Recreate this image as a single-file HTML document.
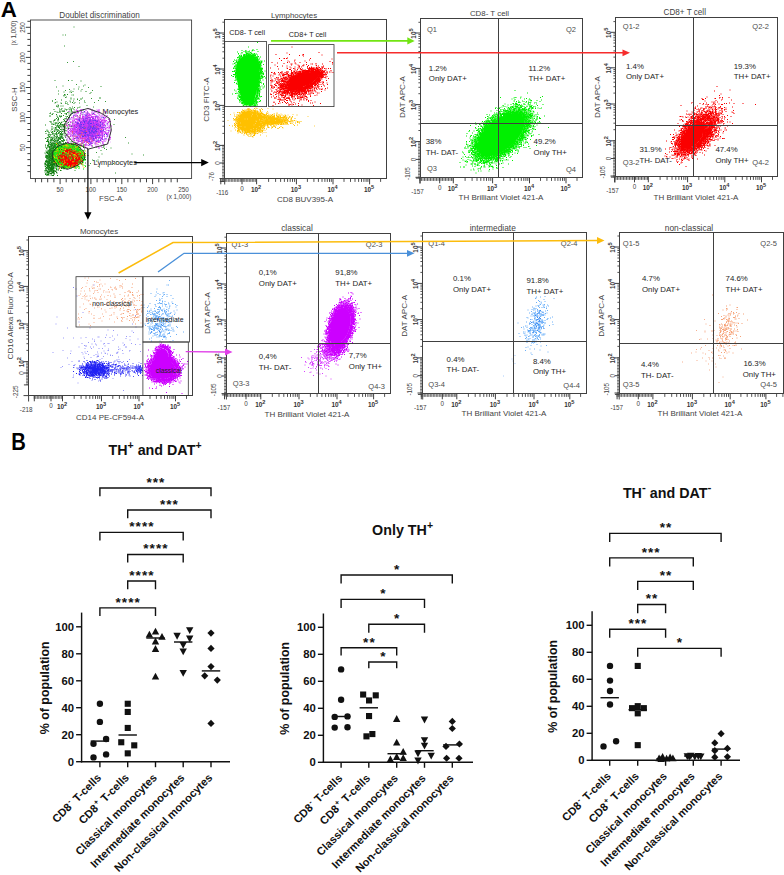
<!DOCTYPE html>
<html><head><meta charset="utf-8"><title>Figure</title>
<style>html,body{margin:0;padding:0;background:#fff;}svg{display:block;font-family:"Liberation Sans",sans-serif;}</style>
</head><body>
<svg width="784" height="875" viewBox="0 0 784 875">
<rect width="784" height="875" fill="#ffffff"/>
<path transform="scale(.5)" d="M112 276h2m3 0h2m-14 5h2m3 0h2m11 1h2m-29 1h2m15 1h2m-12 1h2m12 0h2m-6 1h2m-8 1h3m7 0h2m-16 1h2m16 0h2m-26 1h2m2 0h2m6 0h2m6 0h2m9 0h2m-34 1h2m4 0h2m17 0h2m-19 1h2m3 0h2m-6 1h2m3 1h2m3 0h3m-12 1h2m1 0h3m2 0h2m0 0h3m-21 1h2m6 0h2m0 0h2m1 0h2m-10 1h2m0 0h2m-8 1h2m5 0h2m2 0h2m-12 1h2m3 0h2m3 0h3m3 0h2m5 0h2m-22 1h2m3 0h4m3 0h2m-17 1h2m1 0h2m1 0h2m0 0h2m-11 1h2m2 0h2m4 0h3m0 0h2m1 0h2m-19 1h5m1 0h2m3 0h2m1 0h2m6 0h2m-23 1h2m2 0h2m1 0h2m0 0h2m0 0h2m1 0h2m5 0h2m-28 1h2m0 0h2m1 0h3m0 0h6m0 0h2m0 0h3m0 0h2m1 0h2m-26 1h4m2 0h2m2 0h2m0 0h6m0 0h2m0 0h2m-25 1h2m8 0h2m2 0h2m0 0h5m3 0h2m0 0h2m11 0h2m-36 1h3m4 0h4m2 0h2m0 0h3m2 0h3m0 0h2m-28 1h2m3 0h2m0 0h3m0 0h3m1 0h2m4 0h4m0 0h2m4 0h3m-26 1h3m0 0h2m0 0h2m0 0h3m0 0h5m2 0h2m13 0h2m-37 1h3m4 0h3m0 0h2m0 0h2m0 0h2m0 0h3m0 0h3m2 0h3m-31 1h3m3 0h4m1 0h2m3 0h3m0 0h2m1 0h3m3 0h3m-27 1h2m0 0h8m1 0h2m0 0h2m2 0h3m0 0h2m1 0h2m-26 1h3m1 0h5m0 0h9m1 0h2m1 0h3m0 0h2m-31 1h3m0 0h3m0 0h3m1 0h3m2 0h2m1 0h4m0 0h3m3 0h2m0 0h2m5 0h2m-34 1h2m1 0h3m3 0h5m0 0h3m0 0h2m3 0h2m4 0h2m-32 1h2m2 0h7m0 0h2m0 0h2m1 0h2m5 0h2m-25 1h2m2 0h2m1 0h4m0 0h5m0 0h3m6 0h2m-27 1h2m0 0h2m4 0h5m0 0h6m7 0h2m-24 1h3m1 0h4m3 0h6m1 0h2m-24 1h2m2 0h6m0 0h3m0 0h3m0 0h2m2 0h2m-20 1h2m1 0h2m0 0h4m0 0h2m0 0h5m2 0h2m1 0h2m-22 1h2m0 0h2m1 0h7m3 0h2m2 0h2m-27 1h2m0 0h2m0 0h4m0 0h2m2 0h8m0 0h3m6 0h2m-31 1h3m5 0h2m0 0h3m0 0h6m1 0h5m-22 1h2m0 0h5m1 0h3m0 0h2m1 0h2m0 0h2m2 0h2m0 0h2m-28 1h2m2 0h5m0 0h3m1 0h2m1 0h3m0 0h2m0 0h2m0 0h2m-25 1h3m3 0h6m0 0h2m0 0h2m0 0h3m1 0h2m0 0h2m1 0h2m4 0h2m-26 1h3m1 0h2m1 0h6m0 0h4m-24 1h3m1 0h2m0 0h3m2 0h6m0 0h4m2 0h2m-23 1h2m1 0h7m0 0h6m1 0h2m3 0h3m-23 1h5m0 0h2m0 0h3m0 0h4m2 0h2m3 0h2m-22 1h6m0 0h3m0 0h2m0 0h3m0 0h4m-22 1h2m2 0h2m0 0h3m3 0h2m0 0h3m5 0h3m0 0h2m-24 1h2m2 0h3m3 0h2m0 0h3m3 0h2m0 0h2m-23 1h3m2 0h3m1 0h4m0 0h4m-18 1h3m0 0h2m0 0h5m0 0h4m0 0h2m10 0h2m-28 1h2m2 0h3m2 0h4m0 0h4m1 0h2m1 0h2m4 0h2m2 0h2m-34 1h2m3 0h2m0 0h2m0 0h5m1 0h3m7 0h2m-21 1h2m1 0h3m0 0h2m0 0h2m6 0h2m-22 1h2m3 0h2m2 0h2m0 0h2m1 0h3m3 0h2m1 0h3m-29 1h2m0 0h2m0 0h2m4 0h2m0 0h2m0 0h2m1 0h3m11 0h3m-32 1h2m0 0h2m1 0h3m0 0h3m0 0h2m0 0h2m1 0h3m0 0h2m-18 1h2m1 0h3m1 0h2m3 0h3m1 0h3m-19 1h2m1 0h3m1 0h3m0 0h2m-13 1h2m0 0h3m6 0h2m0 0h2m4 0h2m-19 1h4m4 0h2m0 0h3m0 0h2m3 0h2m-24 1h2m4 0h2m1 0h2m0 0h2m-9 1h2m11 0h2m-20 1h3m1 0h2m0 0h2m-5 1h2m1 0h2m1 0h2m1 0h2m0 1h2m0 0h2m6 0h2" stroke="#0f7d0f" stroke-width="2" fill="none"/><path transform="scale(.5)" d="M118 232h2m-4 7h2m0 6h2m4 7h2m-9 3h2m-9 1h2m20 0h2m-21 3h2m7 1h3m4 0h2m-16 1h2m-9 1h2m1 0h2m1 1h2m8 0h2m2 1h2m-13 1h2m3 0h2m-20 1h2m6 0h2m2 0h2m12 0h2m-23 1h2m0 0h2m3 0h2m9 0h2m-24 1h2m13 0h2m2 0h2m-14 1h2m6 0h2m1 0h3m-30 1h2m2 0h2m16 0h2m2 0h2m3 0h2m-22 2h2m3 0h2m5 0h2m2 0h3m3 0h2m-33 1h2m9 0h2m3 0h2m-18 1h2m3 0h2m15 0h2m1 0h2m-31 1h2m5 0h2m0 0h2m7 0h3m1 0h2m5 0h2m-29 1h2m3 0h2m4 0h2m8 0h2m-15 1h2m11 0h2m1 0h2m-21 1h2m4 0h2m2 0h2m1 0h2m3 0h2m-26 1h2m11 0h2m6 0h2m1 0h3m4 0h2m-27 1h4m8 0h2m11 0h2m0 0h2m2 0h2m-33 1h2m7 0h2m1 0h3m0 0h2m4 0h2m4 0h2m-22 1h2m0 0h2m2 0h2m8 0h2m0 0h2m-27 1h2m5 0h2m3 0h2m3 0h2m4 0h2m-19 1h2m0 0h2m6 0h2m1 0h2m4 0h2m13 0h2m-47 1h2m19 0h2m-14 1h2m0 0h2m2 0h2m1 0h3m1 0h2m0 0h2m-25 1h2m3 0h2m2 0h2m3 0h2m1 0h2m7 0h2m1 0h2m-32 1h3m0 0h3m1 0h3m0 0h4m0 0h2m3 0h3m3 0h2m7 0h2m-32 1h2m1 0h2m4 0h3m0 0h2m1 0h3m8 0h2m-38 1h2m7 0h3m4 0h2m8 0h3m-25 1h3m5 0h2m10 0h2m2 0h2m-30 1h2m4 0h2m2 0h2m1 0h2m3 0h3m3 0h2m0 0h2m0 0h2m3 0h2m7 0h2m-36 1h3m1 0h2m1 0h2m1 0h4m13 0h3m-33 1h3m2 0h3m10 0h2m6 0h2m16 0h2m-50 1h2m8 0h2m2 0h2m2 0h2m13 0h2m-25 1h2m1 0h2m4 0h3m6 0h2m1 0h2m3 0h2m-37 1h2m5 0h2m1 0h2m0 0h2m20 0h2m-35 1h2m12 0h2m-11 1h2m0 0h2m9 0h2m0 0h2m0 0h2m6 0h2m-28 1h2m3 0h2m1 0h2m0 0h2m0 0h2m0 0h2m2 0h2m1 0h2m1 0h2m7 0h2m-33 1h2m1 0h2m0 0h3m-16 1h2m4 0h2m7 0h2m1 0h2m0 0h2m0 0h2m1 0h2m0 0h2m-27 1h2m14 0h2m4 0h2m7 0h2m-30 1h2m0 0h2m2 0h2m0 0h2m0 0h2m2 0h3m13 0h2m-35 1h2m6 0h3m0 0h2m0 0h2m8 0h2m4 0h2m-20 1h2m1 0h2m1 0h2m1 0h2m-18 1h3m0 0h3m0 0h2m12 0h2m-22 1h3m0 0h2m5 0h2m11 0h2m-26 1h2m3 0h4m5 0h2m1 0h2m3 0h2m-12 1h2m2 0h2m2 0h2m12 0h2m-33 1h2m2 0h2m0 0h2m6 0h2m-11 1h2m-13 1h2m7 0h2m6 0h3m0 0h3m1 0h2m-29 1h2m7 0h2m2 0h2m-13 1h2m2 0h2m5 0h2m9 0h2m-21 1h2m1 0h2m5 0h2m7 0h2m2 0h2m-26 1h2m15 0h2m-17 1h2m6 0h2m1 0h2m-8 1h2m3 0h2m4 0h2m6 0h2m-25 1h3m4 0h2m15 0h2m-32 1h3m9 0h2m2 0h2m1 0h2m7 0h2m-20 1h2m0 0h2m2 0h3m-13 1h2m-6 1h2m0 0h2m8 0h2m4 0h2m-1 1h2m4 0h2m-6 1h2m-21 1h2m15 0h2m-24 1h2m7 0h2m-9 2h2m2 0h2m3 1h2m-14 1h2m4 1h2m-2 1h2m7 0h2m3 0h2m-16 1h2m3 0h2m-7 2h4m0 2h2m-10 1h2m7 1h2m2 1h2m-17 2h2m15 4h2m-15 3h2" stroke="#1f8a1f" stroke-width="2" fill="none"/><path transform="scale(.5)" d="M136 161h2m23 1h2m8 21h2m-34 1h2m-13 5h2m4 0h2m-9 2h2m12 5h2m-2 2h2m4 0h2m12 0h2m-9 1h2m-34 1h2m-20 2h2m62 0h2m-57 2h2m29 1h2m-25 1h2m7 0h2m-1 1h2m2 2h2m-22 1h2m-5 2h2m2 0h2m3 0h2m2 0h2m-14 1h2m0 1h2m22 1h2m7 0h2m4 1h2m-15 1h2m-25 1h2m9 0h2m6 0h2m-32 1h2m12 0h2m16 0h2m-9 1h2m8 1h2m-26 1h2m1 0h2m1 0h3m1 0h2m9 0h2m-32 1h2m8 0h2m4 0h2m0 0h2m-16 1h2m28 0h2m-30 1h2m2 0h2m-21 1h2m35 0h2m2 0h2m-44 1h2m4 0h2m15 0h2m5 0h2m1 0h2m14 0h2m-19 1h2m-29 1h2m6 0h2m27 0h2m-17 2h2m11 0h2m-28 1h2m4 0h2m1 0h2m-5 1h2m1 0h2m7 0h2m1 0h2m-22 1h2m4 0h2m-7 1h2m19 0h2m-6 1h2m-22 1h2m2 0h2m11 0h2m5 1h2m-29 1h2m-2 1h2m3 0h2m0 0h2m-10 1h2m18 0h2m-24 1h2m-9 1h2m26 0h2m1 0h2m0 0h2m-34 1h2m0 0h2m11 0h2m6 0h2m-14 1h2m5 0h2m2 0h2m11 0h3m13 0h2m-46 1h2m2 0h2m8 0h2m-12 1h2m3 0h2m2 0h2m-20 1h2m0 0h2m4 0h2m2 0h2m12 0h2m-24 1h3m11 0h3m1 0h2m1 0h2m0 0h2m6 0h2m-49 1h2m30 0h2m0 0h3m0 0h2m3 0h2m2 0h2m-27 1h2m1 0h2m1 0h2m8 0h2m18 0h3m-47 2h2m8 0h2m1 0h2m1 0h2m0 0h2m3 0h2m1 0h2m6 0h2m3 0h2m-31 1h2m6 0h2m4 0h2m16 0h2m-37 1h2m4 0h2m0 0h2m8 0h2m-27 1h2m2 0h2m1 0h2m0 0h2m9 0h2m-7 1h2m9 0h2m5 0h2m-35 1h2m-2 1h2m4 0h2m2 0h2m5 0h2m1 0h2m1 0h2m-35 1h2m16 0h2m3 0h2m10 0h2m1 1h2m-40 1h2m6 0h2m4 0h2m6 0h2m1 0h2m11 0h2m-43 1h2m3 0h2m7 0h2m2 0h2m10 0h2m1 0h2m-7 1h2m-23 1h2m13 0h2m-17 1h2m6 0h2m10 0h3m2 0h2m-33 1h2m12 0h2m6 0h2m5 0h2m0 1h3m8 0h2m-38 1h2m0 0h2m2 0h2m6 0h2m9 0h2m9 0h2m-40 1h2m10 0h3m4 0h2m-8 1h2m-14 1h2m1 0h2m20 0h2m7 0h2m-10 1h2m-27 1h2m20 0h2m-14 1h2m12 0h2m2 0h2m3 0h2m-39 1h2m16 0h2m3 0h2m0 0h2m0 0h2m0 0h2m-34 1h2m26 0h2m4 0h2m-17 1h2m15 0h2m-33 1h2m5 0h2m-4 1h2m1 0h2m-11 1h3m4 0h2m3 0h2m17 0h2m-28 1h2m8 0h2m36 0h2m-57 1h2m0 0h2m23 0h2m-16 1h2m14 0h2m-24 1h3m16 0h2m10 0h2m-21 1h2m7 0h2m-18 2h2m17 0h2m-16 1h2m2 0h2m-20 1h2m15 0h2m-10 1h2m1 0h4m6 1h2m-22 1h2m7 0h2m0 0h2m3 0h2m-21 1h2m7 2h2m2 2h2m5 1h2m29 0h2m-26 1h2m-28 1h2m0 0h2m7 0h2m-11 1h2m25 1h2m-25 1h2m4 0h2m-11 3h2m-3 1h2m19 0h2m-21 2h2m-7 1h2m9 0h2m-15 2h2m7 0h2m-3 1h2m10 0h2m-13 2h2m-10 6h2m1 2h2m-1 1h2m-5 3h2m14 0h2m-22 20h2" stroke="#1f8a1f" stroke-width="2" fill="none"/><path transform="scale(.5)" d="M143 161h2m7 8h2m15 1h2m-46 2h2m39 0h2m33 1h2m-91 1h2m43 0h2m17 1h2m-31 3h2m7 0h2m-20 1h2m23 0h2m-35 2h2m52 0h2m-70 1h2m23 0h2m18 0h2m-18 1h2m-5 2h2m37 0h2m-4 2h2m-65 1h2m12 2h2m11 0h2m1 0h2m-21 2h2m3 2h2m-4 1h2m67 0h2m-37 1h2m16 1h2m15 0h2m-47 1h2m5 0h2m-53 1h2m46 2h2m36 0h2m-94 1h2m33 0h2m5 0h2m-17 1h2m77 0h2m-72 1h2m-32 1h2m37 0h2m18 0h2m17 0h2m-81 1h2m23 0h2m22 0h2m-38 1h2m23 0h2m-33 4h2m55 0h2m-31 3h2m13 0h2m25 0h2m-31 1h2m-36 2h2m20 0h2m-25 1h2m7 1h2m0 0h2m7 0h2m3 0h2m16 1h2m16 1h2m-58 1h2m13 0h2m5 0h2m-8 1h2m-9 1h2m9 0h2m-15 1h2m9 0h2m3 0h2m11 0h2m9 1h2m10 1h2m-85 2h2m27 0h2m29 0h2m72 0h2m-102 1h2m-40 1h2m53 0h2m3 0h2m-11 1h2m23 0h2m-78 1h2m37 2h2m24 0h2m-19 1h2m-18 1h2m28 0h2m-32 1h2m-7 1h3m29 0h2m14 0h2m52 0h2m-52 1h2m-5 3h3m2 0h2m-41 2h2m1 0h2m6 1h2m9 0h2m-32 1h2m55 1h2m35 1h2m-112 1h2m58 0h2m-61 1h2m0 1h2m7 2h2m3 0h2m0 0h2m63 0h2m-74 1h2m25 1h2m4 2h2m21 0h2m-37 1h2m1 0h2m41 0h2m-30 2h2m-75 1h2m30 0h2m11 0h2m29 0h2m6 1h2m-79 2h2m56 0h2m-18 2h2m44 1h2m-34 3h2m-49 2h2m17 2h2m16 2h2m-46 2h2m5 2h2m40 5h2m-4 12h2m-19 10h2" stroke="#3a9a3a" stroke-width="2" fill="none"/><path transform="scale(.5)" d="M184 259h2m-22 13h2m84 3h2m-109 8h2m23 1h2m30 2h2m54 0h2m-69 1h2m17 3h2m-26 2h2m20 0h2m-16 2h2m13 0h2m-4 1h2m14 1h2m-15 1h2m-42 1h2m-20 1h2m60 0h2m-13 2h2m-11 4h2m-25 2h2m-9 1h2m39 0h2m58 0h2m21 2h2m-113 1h2m20 3h2m-54 2h2m-7 1h2m10 1h2m14 1h2m14 1h2m9 0h2m-11 1h2m4 1h2m39 1h2m-65 3h2m8 1h2m44 0h2m-5 2h2m-48 2h2m19 3h2m-51 7h2m79 5h2" stroke="#3a9a3a" stroke-width="2" fill="none"/><path transform="scale(.5)" d="M147 54h2m-24 16h2m3 0h2m-4 22h2m16 31h2m-14 2h2m21 8h2m-50 28h2m16 23h2" stroke="#3a9a3a" stroke-width="2" fill="none"/><path transform="scale(.5)" d="M180 218h2m-30 1h2m6 0h2m-7 2h2m0 0h2m3 0h2m32 0h2m8 0h2m-20 1h2m20 0h2m-46 1h2m27 0h2m-37 1h2m25 0h2m-38 1h2m47 0h2m-29 1h2m22 0h3m-51 1h3m0 0h2m-6 1h2m20 0h2m25 0h2m10 0h2m-63 1h2m11 0h2m24 0h2m2 0h2m-43 1h2m1 0h2m3 0h2m11 0h2m1 0h2m0 0h2m21 0h2m-27 1h2m-33 1h2m21 0h2m20 0h2m3 0h2m12 0h2m-43 1h2m46 0h2m-13 1h2m2 0h2m-66 1h2m18 0h3m1 0h2m16 0h2m7 0h2m-31 1h2m8 0h2m0 0h3m4 0h2m13 0h2m-48 1h2m24 0h2m12 0h3m0 0h2m-55 1h3m38 0h2m11 0h2m5 0h2m-72 1h2m13 0h2m3 0h2m9 0h2m4 0h2m4 0h2m2 0h3m19 0h2m1 0h2m-53 1h2m4 0h2m0 0h2m10 0h2m10 0h2m0 0h2m1 0h2m4 0h2m6 0h2m-44 1h2m6 0h2m9 0h2m0 0h2m2 0h2m20 0h2m5 0h2m-84 1h2m29 0h3m2 0h2m8 0h2m0 0h2m8 0h2m-45 1h2m11 0h2m1 0h4m8 0h2m5 0h2m5 0h2m0 0h2m5 0h2m10 0h2m3 0h2m-79 1h2m0 0h2m16 0h2m8 0h2m3 0h2m2 0h2m13 0h2m9 0h2m0 0h2m-78 1h2m11 0h2m3 0h2m9 0h4m1 0h3m7 0h2m10 0h2m11 0h2m-63 1h2m10 0h2m1 0h2m7 0h4m11 0h2m0 0h2m4 0h2m5 0h2m1 0h2m-40 1h2m4 0h2m10 0h2m10 0h2m0 0h2m5 0h2m5 0h2m3 0h2m-75 1h2m0 0h2m4 0h2m11 0h3m9 0h2m14 0h2m-37 1h2m1 0h2m3 0h2m4 0h2m4 0h2m8 0h2m0 0h2m10 0h2m2 0h2m-59 1h2m9 0h2m0 0h2m0 0h2m1 0h2m0 0h2m0 0h2m1 0h2m1 0h2m5 0h2m4 0h2m2 0h2m-60 1h2m6 0h2m15 0h2m1 0h2m6 0h2m5 0h3m4 0h3m0 0h2m5 0h2m-60 1h2m2 0h2m3 0h2m3 0h2m14 0h3m0 0h2m12 0h2m9 0h2m3 0h2m15 0h2m-79 1h2m16 0h2m8 0h2m3 0h2m4 0h2m8 0h2m4 0h2m2 0h2m2 0h2m0 0h2m16 0h2m-87 1h2m10 0h2m0 0h2m9 0h3m1 0h2m0 0h3m6 0h4m3 0h3m1 0h3m6 0h2m19 0h2m-84 1h2m15 0h2m37 0h2m6 0h2m3 0h3m3 0h2m-51 1h3m3 0h4m1 0h4m0 0h2m2 0h2m9 0h2m-50 1h2m2 0h2m37 0h2m1 0h2m7 0h3m8 0h2m1 0h2m2 0h2m1 0h2m-67 1h2m0 0h2m3 0h3m6 0h2m0 0h3m2 0h2m0 0h4m2 0h2m4 0h2m7 0h2m11 0h2m1 0h2m-63 1h2m1 0h2m0 0h3m1 0h3m2 0h2m4 0h2m0 0h2m10 0h3m22 0h2m0 0h2m-64 1h2m3 0h2m1 0h2m5 0h2m8 0h2m4 0h2m1 0h2m2 0h2m2 0h2m3 0h2m10 0h2m1 0h2m-66 1h2m10 0h2m5 0h2m1 0h2m2 0h2m0 0h2m5 0h2m7 0h2m1 0h2m19 0h2m-79 1h3m10 0h4m6 0h2m3 0h2m13 0h2m4 0h3m0 0h2m2 0h2m12 0h4m-73 1h2m3 0h2m8 0h2m8 0h2m3 0h2m0 0h3m1 0h4m12 0h2m14 0h2m5 0h3m2 0h2m-76 1h2m4 0h2m3 0h2m2 0h2m3 0h2m3 0h2m2 0h5m1 0h2m0 0h2m2 0h2m2 0h2m4 0h2m0 0h2m2 0h2m-63 1h2m5 0h2m0 0h2m2 0h2m0 0h2m15 0h3m2 0h2m3 0h2m6 0h2m-65 1h2m5 0h2m5 0h2m0 0h2m6 0h2m8 0h2m2 0h3m11 0h2m16 0h2m5 0h2m4 0h2m2 0h2m-76 1h2m12 0h2m8 0h2m2 0h2m1 0h4m7 0h2m1 0h4m2 0h3m14 0h2m1 0h2m-60 1h2m0 0h2m1 0h2m2 0h2m5 0h2m5 0h2m7 0h3m11 0h2m1 0h2m-59 1h3m15 0h3m1 0h2m1 0h3m9 0h2m1 0h2m28 0h2m0 0h2m-89 1h2m6 0h2m22 0h2m0 0h2m0 0h2m4 0h2m6 0h2m4 0h2m3 0h2m2 0h2m1 0h2m11 0h2m2 0h2m-74 1h2m11 0h2m0 0h3m0 0h2m0 0h2m0 0h3m0 0h2m3 0h2m3 0h2m0 0h2m1 0h2m3 0h3m1 0h2m21 0h2m-70 1h2m0 0h2m4 0h2m0 0h2m4 0h2m2 0h2m5 0h2m3 0h2m0 0h3m5 0h2m12 0h2m4 0h2m-78 1h2m4 0h2m0 0h2m12 0h2m6 0h3m0 0h4m0 0h2m1 0h2m1 0h2m2 0h3m4 0h2m4 0h3m19 0h2m-86 1h2m30 0h2m2 0h2m5 0h2m2 0h2m1 0h3m2 0h3m9 0h2m10 0h2m-57 1h2m2 0h2m6 0h2m5 0h2m0 0h2m7 0h2m6 0h2m0 0h2m8 0h2m3 0h2m-83 1h2m2 0h2m4 0h2m2 0h2m22 0h2m3 0h3m4 0h2m5 0h2m3 0h2m13 0h2m-40 1h3m-37 1h2m16 0h2m0 0h2m9 0h2m5 0h2m9 0h2m9 0h2m3 0h2m-60 1h2m2 0h2m12 0h2m11 0h2m38 0h2m-58 1h2m18 0h2m0 0h2m-37 1h2m15 0h2m11 0h3m10 0h2m0 0h2m-42 1h2m5 0h2m9 0h2m-3 1h2m10 0h2m1 0h2m1 0h2m7 0h2m2 0h3m-67 1h2m42 0h2m23 0h2m14 0h2m-47 1h2m10 0h2m1 0h2m-51 1h2m36 0h2m6 0h2m11 0h2m-13 1h2m-41 1h2m6 0h2m22 0h3m-49 1h2m34 0h2m5 0h2m31 0h2m-74 1h2m5 0h2m21 0h2m-14 1h2m8 0h2m25 0h2m-45 1h2m24 0h2m-36 1h2m8 0h2m10 0h3m31 0h2m-60 1h2m5 0h2m45 0h2m14 0h2m-37 2h2" stroke="#ecc4fa" stroke-width="2" fill="none"/><path transform="scale(.5)" d="M175 218h2m2 0h2m-20 1h2m0 0h2m32 0h2m-47 1h2m30 0h2m7 0h2m-42 1h3m15 0h2m22 0h2m-14 1h2m13 0h2m-63 1h2m8 0h2m13 0h2m10 0h2m17 0h2m1 0h2m12 0h2m-43 1h2m27 0h2m-46 1h2m0 0h2m9 0h2m22 0h2m17 0h2m-50 1h2m7 0h3m2 0h2m4 0h2m1 0h2m1 0h2m-35 1h2m3 0h2m15 0h2m16 0h2m-46 1h2m19 0h2m2 0h3m24 0h2m-38 1h2m4 0h3m2 0h2m1 0h2m1 0h3m1 0h2m-43 1h2m2 0h2m7 0h2m2 0h2m13 0h2m9 0h2m5 0h3m-47 1h2m21 0h2m1 0h2m32 0h2m-68 1h2m2 0h2m7 0h2m3 0h2m3 0h2m0 0h4m0 0h3m2 0h3m8 0h2m7 0h2m0 0h2m0 0h2m1 0h2m-64 1h2m5 0h2m9 0h2m0 0h2m1 0h2m2 0h2m7 0h3m0 0h2m0 0h2m1 0h2m1 0h2m0 0h2m-51 1h2m6 0h2m0 0h2m2 0h2m5 0h2m5 0h2m2 0h2m4 0h2m1 0h2m2 0h2m3 0h2m1 0h2m-56 1h2m17 0h2m3 0h2m1 0h3m0 0h4m0 0h3m0 0h2m0 0h2m4 0h2m2 0h2m-38 1h2m0 0h2m3 0h2m0 0h2m3 0h4m2 0h3m3 0h4m6 0h2m0 0h2m0 0h2m7 0h3m1 0h2m-76 1h2m12 0h2m10 0h2m1 0h2m2 0h2m0 0h3m4 0h3m2 0h2m0 0h2m2 0h2m9 0h2m4 0h2m-68 1h2m2 0h2m0 0h2m2 0h2m1 0h2m2 0h3m4 0h2m0 0h3m3 0h2m5 0h2m3 0h2m1 0h2m18 0h2m6 0h2m-85 1h2m17 0h2m1 0h2m6 0h2m9 0h2m3 0h3m2 0h3m2 0h2m5 0h2m2 0h2m1 0h2m11 0h2m-80 1h2m15 0h2m3 0h3m0 0h2m2 0h2m2 0h6m0 0h2m3 0h3m0 0h2m1 0h5m13 0h2m-74 1h2m9 0h2m1 0h2m5 0h4m0 0h2m3 0h2m0 0h5m3 0h2m4 0h2m0 0h2m5 0h2m1 0h2m2 0h2m4 0h2m0 0h2m2 0h2m1 0h3m-70 1h2m1 0h2m4 0h2m8 0h3m1 0h2m1 0h2m0 0h2m1 0h2m1 0h2m0 0h2m0 0h5m2 0h2m0 0h2m0 0h3m1 0h4m1 0h2m1 0h2m3 0h2m-73 1h2m4 0h2m11 0h5m3 0h3m0 0h2m1 0h2m0 0h3m1 0h2m0 0h2m0 0h5m0 0h2m1 0h3m0 0h2m0 0h2m0 0h2m1 0h2m0 0h2m14 0h2m0 0h2m-87 1h2m4 0h2m4 0h2m1 0h2m1 0h3m3 0h3m0 0h2m2 0h2m1 0h3m0 0h2m2 0h3m1 0h2m2 0h2m0 0h4m2 0h3m3 0h2m0 0h2m3 0h2m1 0h4m1 0h2m1 0h2m-78 1h2m12 0h2m4 0h2m2 0h2m1 0h9m0 0h3m0 0h2m1 0h3m0 0h4m3 0h3m2 0h2m0 0h2m2 0h4m0 0h2m7 0h2m-66 1h2m0 0h2m4 0h2m0 0h2m0 0h7m0 0h2m2 0h2m2 0h4m0 0h4m3 0h3m1 0h2m0 0h2m1 0h3m2 0h5m6 0h2m-73 1h2m1 0h2m4 0h6m0 0h2m0 0h2m0 0h5m0 0h4m1 0h5m0 0h2m1 0h6m0 0h3m0 0h7m17 0h2m-84 1h3m9 0h2m4 0h4m3 0h2m0 0h3m1 0h3m0 0h3m0 0h2m1 0h4m0 0h3m0 0h3m1 0h5m0 0h2m0 0h2m2 0h4m0 0h2m0 0h3m0 0h3m1 0h2m-70 1h2m6 0h2m0 0h2m0 0h2m1 0h3m1 0h3m1 0h2m0 0h6m2 0h4m0 0h3m2 0h3m0 0h2m0 0h2m0 0h2m0 0h2m1 0h4m0 0h3m0 0h2m6 0h2m-72 1h2m7 0h2m2 0h2m1 0h3m1 0h2m1 0h2m0 0h3m0 0h2m0 0h3m2 0h4m0 0h5m0 0h2m0 0h2m1 0h3m1 0h2m1 0h2m1 0h3m2 0h2m0 0h3m0 0h2m0 0h2m3 0h2m1 0h2m-86 1h2m3 0h2m2 0h2m5 0h2m0 0h4m1 0h2m1 0h4m3 0h2m0 0h2m0 0h10m0 0h2m0 0h3m0 0h5m0 0h2m2 0h4m0 0h3m4 0h3m1 0h2m-77 1h2m9 0h3m1 0h2m2 0h2m0 0h2m0 0h3m3 0h2m0 0h4m0 0h3m1 0h10m0 0h2m0 0h3m1 0h4m0 0h6m1 0h3m15 0h2m2 0h2m-84 1h2m2 0h2m3 0h3m1 0h2m2 0h3m2 0h2m4 0h5m0 0h5m0 0h3m2 0h4m0 0h2m0 0h2m1 0h7m6 0h2m-60 1h2m1 0h3m0 0h2m0 0h3m0 0h3m2 0h3m0 0h11m0 0h5m0 0h5m0 0h3m1 0h3m1 0h2m1 0h5m1 0h2m1 0h2m7 0h2m-61 1h3m0 0h15m0 0h8m0 0h6m2 0h3m0 0h3m2 0h2m0 0h4m0 0h2m2 0h2m3 0h2m-77 1h2m1 0h2m4 0h2m0 0h2m2 0h2m1 0h2m2 0h2m2 0h7m0 0h5m0 0h2m5 0h2m1 0h4m0 0h2m0 0h4m1 0h3m0 0h2m1 0h2m1 0h2m3 0h2m4 0h2m-82 1h2m1 0h2m4 0h3m4 0h3m0 0h5m0 0h3m1 0h2m1 0h14m1 0h2m0 0h3m0 0h3m1 0h3m2 0h3m0 0h2m7 0h2m-78 1h2m7 0h2m0 0h2m0 0h3m1 0h3m2 0h2m1 0h3m0 0h4m2 0h4m1 0h3m0 0h2m2 0h4m0 0h4m0 0h2m3 0h2m0 0h2m2 0h2m5 0h2m2 0h2m5 0h2m-83 1h2m2 0h2m3 0h2m0 0h2m0 0h3m1 0h2m2 0h2m0 0h2m0 0h4m0 0h2m1 0h7m0 0h2m0 0h2m0 0h4m1 0h2m0 0h4m2 0h6m4 0h2m1 0h3m1 0h2m-70 1h2m1 0h2m0 0h2m1 0h2m2 0h3m0 0h2m1 0h2m0 0h2m1 0h3m2 0h2m0 0h8m2 0h3m0 0h6m1 0h3m0 0h2m1 0h4m2 0h2m15 0h2m-84 1h2m2 0h2m1 0h2m0 0h2m2 0h2m1 0h2m2 0h3m3 0h6m1 0h3m0 0h4m0 0h8m0 0h4m0 0h4m3 0h2m4 0h2m1 0h2m5 0h2m1 0h3m-85 1h2m5 0h2m0 0h2m0 0h2m5 0h2m2 0h2m3 0h2m0 0h3m0 0h2m0 0h6m1 0h2m3 0h3m2 0h2m0 0h4m0 0h2m4 0h3m0 0h2m0 0h2m-68 1h2m2 0h2m5 0h4m1 0h2m0 0h2m2 0h2m2 0h2m0 0h3m1 0h4m1 0h2m0 0h2m0 0h4m0 0h2m0 0h4m3 0h2m0 0h3m0 0h4m2 0h5m-64 1h2m1 0h3m1 0h2m5 0h2m2 0h2m3 0h2m0 0h7m1 0h10m2 0h3m0 0h3m2 0h3m3 0h2m3 0h2m0 0h2m-74 1h2m1 0h2m8 0h4m1 0h2m1 0h2m1 0h4m1 0h7m0 0h3m2 0h3m0 0h2m0 0h4m1 0h3m1 0h2m4 0h3m0 0h2m0 0h2m0 0h2m4 0h2m4 0h2m-83 1h2m0 0h2m5 0h2m1 0h2m5 0h2m0 0h6m0 0h2m1 0h2m1 0h4m0 0h2m0 0h2m4 0h2m0 0h2m0 0h2m0 0h2m1 0h3m3 0h3m22 0h2m-83 1h2m6 0h3m1 0h2m0 0h2m0 0h2m5 0h2m0 0h2m0 0h2m0 0h7m0 0h2m1 0h3m1 0h9m0 0h2m0 0h2m0 0h2m0 0h3m3 0h3m4 0h2m0 0h3m-74 1h2m3 0h2m7 0h2m8 0h6m1 0h2m1 0h3m0 0h5m1 0h4m0 0h2m1 0h2m8 0h2m4 0h2m-76 1h2m2 0h2m2 0h2m11 0h2m0 0h3m2 0h3m3 0h5m2 0h3m1 0h7m0 0h2m0 0h2m1 0h2m4 0h2m0 0h2m4 0h2m2 0h2m2 0h2m1 0h2m-82 1h2m13 0h3m1 0h2m2 0h2m3 0h3m0 0h3m0 0h2m2 0h8m1 0h4m0 0h2m0 0h4m1 0h2m0 0h3m3 0h2m-71 1h2m10 0h2m1 0h2m8 0h2m2 0h2m3 0h2m4 0h2m1 0h2m0 0h2m0 0h2m2 0h3m0 0h2m3 0h2m3 0h3m2 0h2m2 0h2m-49 1h2m0 0h4m1 0h3m2 0h7m0 0h2m0 0h2m1 0h3m0 0h7m0 0h2m0 0h2m1 0h2m5 0h3m1 0h2m4 0h2m-76 1h2m5 0h2m0 0h2m1 0h2m3 0h2m6 0h5m1 0h2m1 0h2m0 0h2m2 0h2m1 0h3m1 0h3m2 0h2m14 0h2m-65 1h2m8 0h2m1 0h2m0 0h2m2 0h2m3 0h2m0 0h2m2 0h3m2 0h2m4 0h2m2 0h3m1 0h2m1 0h4m0 0h2m0 0h2m-51 1h3m7 0h2m1 0h2m0 0h2m0 0h3m1 0h2m0 0h3m2 0h3m0 0h3m3 0h2m0 0h3m0 0h2m0 0h2m0 0h2m18 0h2m-84 1h2m6 0h2m4 0h2m4 0h3m2 0h2m1 0h3m0 0h3m6 0h3m0 0h4m0 0h2m5 0h2m2 0h2m4 0h2m16 0h2m-77 1h2m3 0h2m4 0h2m2 0h2m0 0h2m1 0h2m1 0h4m1 0h3m1 0h2m4 0h3m0 0h2m0 0h2m6 0h2m4 0h4m-72 1h2m2 0h2m6 0h2m5 0h2m14 0h2m0 0h3m0 0h4m2 0h3m0 0h2m0 0h2m0 0h2m2 0h2m15 0h2m1 0h2m3 0h2m-79 1h2m4 0h2m16 0h2m2 0h2m4 0h3m3 0h2m0 0h2m2 0h2m1 0h2m13 0h3m13 0h2m-75 1h3m7 0h2m11 0h2m0 0h2m5 0h2m1 0h2m0 0h2m26 0h2m3 0h2m0 0h2m-72 1h2m2 0h2m1 0h2m5 0h2m0 0h3m1 0h2m1 0h2m1 0h2m8 0h5m6 0h2m2 0h2m0 0h2m4 0h2m-75 1h2m1 0h2m15 0h3m2 0h2m2 0h2m2 0h2m2 0h2m10 0h2m5 0h2m4 0h2m0 0h2m-44 1h3m0 0h4m5 0h2m1 0h3m1 0h2m4 0h3m12 0h2m5 0h2m4 0h2m-66 1h2m19 0h2m3 0h2m1 0h3m2 0h3m5 0h2m1 0h2m1 0h2m3 0h2m4 0h2m0 0h2m-74 1h2m0 0h2m12 0h2m3 0h2m15 0h2m0 0h2m3 0h2m0 0h2m13 0h2m-62 1h2m14 0h2m8 0h2m12 0h2m13 0h2m11 0h2m8 0h2m-72 1h2m7 0h2m16 0h2m6 0h2m3 0h2m-35 1h2m2 0h2m22 0h2m0 0h2m6 0h2m0 0h2m-47 1h2m7 0h2m12 0h2m0 0h2m6 0h2m14 0h2m9 0h2m-54 1h2m3 0h2m4 0h2m0 0h2m4 0h2m0 0h2m14 0h2m10 0h2m-40 1h2m4 0h2m3 0h2m4 0h2m-1 2h2m6 0h2m-44 1h2m8 0h2m9 0h2m23 0h2m5 0h2m-31 1h2m-6 1h2m25 0h2m0 0h2m-57 1h2" stroke="#d436f5" stroke-width="2" fill="none"/><path transform="scale(.5)" d="M161 224h2m22 0h2m-28 7h2m12 0h2m4 0h2m-10 2h2m1 0h2m6 0h2m-19 1h2m18 0h2m-45 1h2m66 0h2m-53 1h2m12 0h2m0 0h2m8 0h2m-23 1h2m14 0h2m3 0h2m-21 1h2m8 0h2m16 0h2m-47 1h2m4 0h2m12 0h2m28 0h2m-44 1h2m11 0h2m5 0h2m3 0h2m2 0h2m5 0h2m14 0h2m-44 1h3m2 0h2m3 0h3m3 0h2m4 0h2m1 0h2m-25 1h2m0 0h2m5 0h3m8 0h3m0 0h2m0 0h2m2 0h2m5 0h2m-47 1h2m0 0h2m5 0h3m0 0h2m5 0h2m1 0h3m1 0h2m3 0h2m16 0h2m-56 1h3m3 0h2m0 0h2m6 0h3m0 0h2m1 0h2m0 0h3m0 0h2m0 0h3m6 0h2m6 0h2m-51 1h2m9 0h2m3 0h3m0 0h4m7 0h2m6 0h2m1 0h2m5 0h2m2 0h2m-59 1h2m7 0h2m3 0h2m1 0h2m11 0h3m7 0h2m2 0h2m0 0h2m2 0h2m6 0h2m-63 1h2m23 0h2m0 0h3m0 0h2m0 0h2m3 0h2m3 0h2m1 0h2m3 0h2m-37 1h2m0 0h2m14 0h2m0 0h2m3 0h2m1 0h3m3 0h2m0 0h2m7 0h4m-70 1h2m12 0h2m8 0h2m4 0h3m9 0h3m0 0h3m1 0h3m7 0h2m-55 1h2m7 0h4m13 0h2m4 0h2m0 0h2m3 0h3m1 0h2m1 0h2m2 0h2m1 0h3m-59 1h3m12 0h2m1 0h2m1 0h2m2 0h3m1 0h3m0 0h2m1 0h3m0 0h3m0 0h2m2 0h2m0 0h2m0 0h2m0 0h2m0 0h2m3 0h2m4 0h4m-65 1h3m6 0h2m3 0h2m2 0h4m1 0h2m1 0h2m1 0h3m1 0h2m1 0h2m3 0h2m2 0h2m0 0h4m-47 1h2m4 0h2m4 0h2m8 0h6m4 0h2m0 0h2m1 0h4m0 0h5m3 0h2m1 0h2m1 0h2m-59 1h2m0 0h2m6 0h2m7 0h2m3 0h4m2 0h2m1 0h4m1 0h3m1 0h2m0 0h2m15 0h2m-58 1h2m7 0h3m1 0h3m0 0h2m1 0h2m0 0h2m3 0h2m3 0h3m0 0h3m0 0h3m2 0h3m22 0h2m-73 1h2m0 0h2m7 0h3m1 0h2m1 0h2m2 0h3m4 0h2m1 0h2m0 0h2m0 0h2m0 0h2m4 0h2m2 0h3m3 0h2m1 0h2m-62 1h2m1 0h2m0 0h2m15 0h2m0 0h3m1 0h4m1 0h5m0 0h2m0 0h3m2 0h3m0 0h2m2 0h2m1 0h2m2 0h2m-61 1h2m8 0h2m4 0h3m2 0h4m0 0h3m0 0h2m0 0h4m0 0h3m4 0h4m6 0h4m-52 1h2m12 0h3m5 0h3m2 0h2m1 0h2m1 0h2m0 0h3m5 0h2m0 0h3m-46 1h2m0 0h2m1 0h2m1 0h2m0 0h2m0 0h2m0 0h3m0 0h5m0 0h2m2 0h2m2 0h3m0 0h4m1 0h4m4 0h4m0 0h3m-48 1h2m4 0h2m0 0h2m0 0h4m0 0h3m0 0h2m0 0h5m2 0h3m0 0h2m0 0h2m0 0h2m1 0h2m0 0h2m6 0h2m0 0h2m-57 1h2m8 0h2m0 0h3m3 0h2m3 0h2m1 0h2m4 0h2m4 0h2m0 0h2m0 0h2m0 0h2m1 0h2m0 0h3m3 0h2m-54 1h2m1 0h2m4 0h2m6 0h2m1 0h7m5 0h2m0 0h2m0 0h2m0 0h3m3 0h2m9 0h2m1 0h2m-67 1h2m0 0h2m11 0h2m1 0h3m5 0h3m0 0h2m0 0h3m0 0h4m2 0h4m2 0h2m5 0h2m12 0h2m-67 1h2m13 0h2m7 0h2m2 0h3m1 0h2m7 0h2m1 0h2m1 0h2m1 0h2m16 0h2m-59 1h2m6 0h6m0 0h2m6 0h2m2 0h3m1 0h2m0 0h2m7 0h2m0 0h2m-48 1h2m2 0h2m0 0h3m2 0h2m0 0h2m2 0h2m6 0h2m3 0h2m2 0h2m0 0h2m0 0h2m0 0h2m8 0h2m10 0h2m-63 1h2m1 0h2m1 0h2m2 0h2m1 0h2m1 0h2m2 0h2m3 0h5m2 0h2m0 0h3m3 0h3m10 0h2m-64 1h2m8 0h2m6 0h2m5 0h2m3 0h2m4 0h3m4 0h2m3 0h2m1 0h2m0 0h3m12 0h2m-53 1h2m0 0h2m2 0h2m0 0h2m0 0h2m0 0h2m0 0h3m0 0h2m0 0h2m10 0h2m7 0h2m10 0h2m-75 1h2m18 0h2m0 0h2m1 0h2m0 0h2m3 0h2m5 0h2m4 0h2m0 0h2m4 0h3m-57 1h2m2 0h2m8 0h2m5 0h2m3 0h2m0 0h2m3 0h2m0 0h2m0 0h2m0 0h2m2 0h2m0 0h2m0 0h2m1 0h3m0 0h2m-41 1h2m3 0h2m5 0h2m1 0h2m1 0h2m2 0h2m5 0h2m4 0h2m7 0h2m4 0h2m7 0h2m-84 1h2m26 0h3m1 0h4m4 0h2m1 0h2m10 0h2m31 0h2m-70 1h2m7 0h3m18 0h2m1 0h2m6 0h2m10 0h2m-57 1h2m2 0h2m1 0h2m6 0h2m23 0h2m0 0h2m-29 1h2m15 0h4m4 0h5m-29 1h2m10 0h3m29 0h2m-58 1h2m4 0h2m9 0h2m2 0h2m0 0h3m8 0h2m4 0h2m5 0h2m-38 1h2m5 0h2m0 0h2m-13 1h2m4 0h2m1 0h2m5 0h2m-23 1h2m3 0h2m7 0h2m2 0h3m5 0h2m-11 1h2m18 0h2m-21 1h2m1 0h2m4 0h2m-23 1h2m2 0h3m27 0h2m-17 2h2m21 0h2m-45 4h2" stroke="#c236f5" stroke-width="2" fill="none"/><path transform="scale(.5)" d="M166 219h2m0 4h2m19 0h2m-26 3h2m7 0h2m-32 1h2m39 0h2m-18 3h2m0 0h2m-26 1h2m22 0h2m20 1h2m-4 2h2m-35 1h2m17 0h2m24 0h2m1 0h2m-38 1h2m-15 1h2m14 0h2m10 0h2m-48 1h2m26 0h2m-12 1h2m20 0h2m-15 1h2m3 0h2m16 0h2m-33 1h2m19 0h2m4 0h2m0 0h2m1 0h2m-26 1h2m3 0h2m6 0h2m13 0h2m-28 1h2m7 0h2m14 0h2m-45 1h2m11 0h2m-5 1h2m6 0h2m7 0h2m21 0h2m-48 1h3m18 0h2m9 0h2m-33 1h2m18 0h2m3 0h2m0 0h2m-29 1h2m3 0h2m7 0h2m6 0h2m16 0h2m4 0h2m1 0h2m7 0h2m-53 1h2m2 0h2m24 0h2m-35 1h2m16 0h2m8 1h2m6 0h2m3 0h2m-44 1h2m1 0h2m16 0h2m29 0h2m-31 1h2m3 0h2m11 0h2m-42 1h4m3 0h2m0 0h2m6 0h3m1 0h2m9 0h2m-41 1h2m10 0h2m4 0h2m11 0h2m2 0h2m14 0h2m2 0h2m-35 1h3m3 0h2m4 0h2m3 0h2m-32 1h2m4 0h2m0 0h2m13 0h2m3 0h2m4 0h2m-30 1h2m9 0h3m7 0h2m6 0h2m-40 1h2m15 0h2m0 0h2m6 0h2m5 0h2m-16 1h2m26 0h2m-47 1h2m6 0h2m12 0h2m5 0h2m13 0h2m-48 1h2m2 0h2m11 0h2m4 0h4m5 0h2m7 0h2m15 0h2m-54 1h2m2 0h2m1 0h2m4 0h2m3 0h2m4 0h2m1 0h2m7 0h2m-51 1h2m31 0h2m0 0h2m4 0h2m-28 1h2m0 0h3m0 0h2m5 0h2m0 0h2m3 0h2m-31 1h2m8 0h2m1 0h2m6 0h2m7 0h2m0 0h2m-21 1h2m9 0h2m-36 1h2m9 0h2m0 0h4m13 0h2m-6 1h2m33 0h2m2 0h2m-67 1h2m2 0h2m3 0h2m11 0h2m4 0h2m7 0h2m-18 1h3m4 0h2m2 0h2m12 0h2m1 0h2m1 0h2m-37 1h3m3 0h2m10 0h2m1 0h2m3 0h2m12 0h2m9 0h2m-53 1h2m0 0h2m17 0h2m-11 1h2m-25 1h2m35 0h2m-11 1h2m8 0h2m5 0h2m-45 1h2m18 0h2m9 0h2m13 0h2m8 0h2m-28 2h2m18 0h2m-35 1h2m3 0h2m17 0h2m-27 1h2m14 0h2m4 0h2m5 0h2m-38 1h2m11 1h3m12 0h2m-31 3h2m15 0h2m0 0h2m-21 1h2m0 0h2m-8 1h2m0 1h2m15 0h2m-11 1h2m8 0h2" stroke="#5838f0" stroke-width="2" fill="none"/><path transform="scale(.5)" d="M158 234h2m-29 17h2m51 2h2m7 1h2m-26 1h2m-4 4h2m33 0h2m-60 4h2m26 0h2m-11 2h2m-21 1h2m48 2h2m-39 1h2m3 0h2m2 2h2m-21 1h2m11 0h2m-25 1h2m12 0h2m7 1h2m17 2h2m-16 1h2m-10 1h2m10 0h2m10 0h2m-17 3h2m15 1h2m-14 1h2m-8 1h2m7 1h2m-12 1h2m27 0h2m-19 1h2m-17 1h2m-24 1h3m11 0h2m13 1h2m-3 4h2" stroke="#f06060" stroke-width="2" fill="none"/><polygon points="53.2,152 57.6,147 67,143.4 76.8,145.8 83.6,152 84.4,158 78,164.6 67.5,168.8 58.3,165.8 53.4,159" fill="#3fd820"/><path transform="scale(.5)" d="M129 287h2m11 0h2m2 0h3m1 0h2m-42 2h2m25 0h2m5 0h2m3 0h2m-26 1h2m18 0h2m19 0h2m-39 1h2m15 0h2m4 0h2m-34 1h2m5 0h2m24 0h2m11 0h2m-55 2h2m6 0h4m1 0h3m6 0h2m11 0h2m7 0h4m-50 1h2m2 0h3m23 0h2m13 0h2m1 0h2m-50 1h2m21 0h2m1 0h2m-25 1h3m8 0h2m10 0h3m5 0h2m-27 1h2m3 0h2m0 0h2m5 0h2m5 0h2m12 0h2m-30 1h3m0 0h2m2 0h2m12 0h2m4 0h2m-49 1h2m6 0h2m0 0h2m1 0h2m5 0h3m7 0h2m14 0h2m-43 1h2m18 0h2m19 0h2m1 0h2m1 0h2m4 0h2m0 0h2m-57 1h2m4 0h2m12 0h2m2 0h2m7 0h2m0 0h2m0 0h2m4 0h2m-25 1h2m0 0h2m0 0h2m3 0h2m4 0h3m-40 1h2m2 0h2m11 0h2m0 0h2m1 0h3m4 0h2m0 0h2m1 0h2m4 0h2m6 0h2m-41 1h2m2 0h2m1 0h2m2 0h2m8 0h2m17 0h2m-52 1h2m6 0h2m6 0h2m4 0h2m6 0h2m10 0h3m8 0h2m-57 1h2m2 0h2m3 0h2m2 0h2m0 0h2m6 0h2m0 0h2m4 0h4m0 0h3m4 0h2m0 0h2m0 0h2m3 0h2m3 0h2m5 0h2m-58 1h2m0 0h2m9 0h2m5 0h2m1 0h2m8 0h2m8 0h2m1 0h2m0 0h2m1 0h2m-60 1h2m1 0h2m0 0h3m7 0h3m1 0h2m5 0h2m2 0h2m2 0h2m1 0h2m2 0h2m-39 1h3m5 0h2m1 0h2m1 0h2m0 0h2m1 0h2m11 0h2m0 0h2m1 0h2m8 0h2m9 0h2m-49 1h2m6 0h3m1 0h2m3 0h2m3 0h2m3 0h2m3 0h2m0 0h2m1 0h2m-50 1h3m1 0h2m6 0h3m2 0h3m10 0h2m0 0h2m1 0h2m0 0h3m10 0h2m3 0h2m-51 1h2m6 0h3m0 0h2m3 0h2m5 0h2m2 0h2m7 0h2m-49 1h3m1 0h3m0 0h2m5 0h2m0 0h2m6 0h2m1 0h4m0 0h2m11 0h3m9 0h2m5 0h2m-57 1h2m2 0h2m2 0h3m2 0h2m2 0h2m0 0h2m2 0h2m20 0h2m7 0h2m-52 1h2m8 0h3m1 0h3m1 0h2m2 0h2m3 0h2m8 0h2m0 0h2m4 0h2m-54 1h3m12 0h4m0 0h2m4 0h3m10 0h2m5 0h2m2 0h2m-39 1h2m2 0h2m4 0h2m4 0h3m0 0h4m3 0h2m9 0h2m6 0h2m-58 1h2m5 0h2m8 0h2m3 0h2m3 0h2m4 0h2m3 0h3m12 0h2m-60 1h2m1 0h2m5 0h2m2 0h2m4 0h2m2 0h2m1 0h2m3 0h3m0 0h2m2 0h2m-42 1h2m2 0h4m7 0h2m15 0h2m11 0h3m2 0h2m8 0h2m1 0h2m-58 1h2m16 0h3m3 0h2m1 0h3m12 0h2m2 0h2m0 0h2m3 0h2m-57 1h2m14 0h2m4 0h4m1 0h2m0 0h2m1 0h2m3 0h2m5 0h2m2 0h2m0 0h2m-46 1h2m0 0h2m8 0h3m8 0h2m3 0h3m-29 1h3m8 0h2m0 0h2m2 0h2m6 0h2m10 0h2m7 0h2m-51 1h2m6 0h2m0 0h2m5 0h2m2 0h2m2 0h2m0 0h2m3 0h3m4 0h2m2 0h2m0 0h2m-48 1h3m9 0h2m3 0h3m6 0h2m3 0h2m0 0h2m-27 1h2m8 0h2m2 0h5m19 0h2m1 0h2m-22 1h2m10 0h2m-46 1h2m5 0h2m4 0h2m1 0h2m6 0h2m0 0h2m1 0h2m11 0h3m8 0h2m-34 1h2m0 0h3m14 0h3m14 0h2m-59 1h2m23 0h2m12 0h2m0 0h2m-38 1h2m3 0h2m19 0h2m2 0h2m7 0h2m12 0h2m-47 1h2m5 0h2m4 0h2m4 0h2m0 0h2m10 0h2m-30 1h2m1 0h2m0 0h2m12 0h2m-27 1h2m1 0h2m21 0h2m0 0h2m-42 1h2m13 0h2m12 0h2m14 0h2m-32 1h2m37 0h2" stroke="#00f000" stroke-width="2" fill="none"/><path transform="scale(.5)" d="M112 287h2m19 0h2m8 1h2m1 0h2m13 0h2m-49 2h2m16 0h2m7 0h2m-14 1h2m0 0h2m-7 1h2m4 0h2m1 0h2m16 0h2m6 1h2m-28 1h2m13 0h2m-6 1h2m-5 1h2m13 0h2m-46 1h2m7 0h2m13 0h2m0 0h2m3 0h2m-18 1h2m4 0h2m-18 1h2m-8 1h2m6 0h2m6 0h2m10 0h2m7 0h2m-10 1h2m0 0h2m-23 1h2m20 0h3m-37 1h2m2 0h2m44 0h2m2 0h2m-46 1h2m35 0h2m-17 1h2m14 0h2m5 0h2m-53 1h2m10 0h2m1 0h2m1 0h2m2 0h2m1 0h2m13 0h2m1 0h2m1 0h2m-41 1h2m0 0h2m5 0h2m7 0h2m13 0h2m2 0h2m4 0h2m-49 1h2m12 0h2m6 0h2m0 0h2m2 0h2m-34 1h2m3 0h2m0 0h2m20 0h2m8 0h2m-43 1h2m11 0h3m7 0h2m0 0h2m1 0h2m0 0h2m7 0h2m13 0h2m-35 1h2m2 0h2m0 0h2m7 0h2m4 0h2m7 0h2m5 0h2m-66 1h2m4 0h2m4 0h2m5 0h3m11 0h3m6 0h2m6 0h2m-51 1h2m10 0h2m11 0h2m2 0h2m8 0h2m4 0h2m-27 1h2m3 0h2m11 0h3m2 0h2m-27 1h2m4 0h2m0 0h3m10 0h2m1 0h2m-40 1h2m0 0h2m4 0h2m6 0h2m7 0h2m4 0h2m2 0h2m13 0h2m-46 1h2m23 0h2m18 0h2m-49 1h2m4 0h2m2 0h2m20 0h2m2 0h2m2 0h2m-20 1h2m23 0h2m-41 1h2m12 0h2m2 0h2m4 0h2m-32 1h2m9 0h2m0 0h2m9 0h3m4 0h2m7 0h2m4 0h2m-56 1h3m4 0h2m24 0h2m-19 1h2m7 0h2m8 0h2m-38 1h2m13 0h2m13 0h2m5 0h3m5 0h2m6 0h2m-56 1h2m1 0h2m6 0h2m10 0h2m4 0h3m-29 1h2m1 0h2m14 0h2m15 0h2m1 0h2m2 0h2m-27 1h2m8 0h2m6 0h2m1 0h2m11 0h2m-32 1h2m3 0h2m1 0h2m6 0h2m1 0h2m4 0h2m6 0h2m-40 1h2m5 0h2m17 0h2m-41 1h2m4 0h2m25 0h2m2 0h2m1 0h3m-38 1h2m3 0h2m12 0h2m4 0h2m-25 1h2m14 0h2m26 0h2m-23 1h2m-9 1h2m3 0h2m10 0h2m-32 1h2m7 0h2m32 0h2m-51 1h2m28 0h2m-22 1h2m-11 1h2" stroke="#ffc000" stroke-width="2" fill="none"/><path transform="scale(.5)" d="M114 287h2m16 0h2m8 2h2m-35 2h2m7 0h2m37 0h2m-37 2h2m21 1h2m-32 1h2m49 0h2m-31 1h2m6 0h2m-29 3h2m2 0h2m9 0h2m7 0h2m15 0h2m-52 2h2m22 0h3m6 0h2m-2 1h2m0 0h2m-31 1h2m15 1h2m3 0h2m2 0h3m-16 1h2m16 0h2m-33 1h2m9 0h2m17 0h2m0 0h3m8 0h2m-37 1h3m4 0h2m1 0h2m0 0h2m-16 2h2m5 1h2m6 0h2m8 0h2m0 0h2m-32 1h2m20 0h2m0 0h2m10 0h3m8 0h2m-49 1h2m7 0h2m15 0h2m-33 1h2m17 1h2m-5 1h2m1 0h2m8 0h3m17 0h2m-57 1h2m25 0h2m9 0h2m5 0h2m-36 1h2m5 0h2m22 0h3m1 0h2m8 0h3m-48 1h2m3 0h2m14 0h2m-30 1h2m10 0h2m11 0h3m9 0h2m20 0h2m-63 1h2m6 0h2m19 0h2m13 0h2m-34 1h2m-9 1h2m3 0h2m8 0h3m11 0h2m2 0h2m5 0h2m-38 1h2m2 0h2m16 0h2m8 0h2m-35 1h3m4 0h2m15 0h2m-28 1h2m33 0h2m7 0h2m3 0h2m-20 1h2m-42 1h2m0 0h2m2 0h2m47 0h2m-47 1h2m27 0h2m-17 1h2m18 0h2m-27 1h2m-15 1h2m17 0h2m20 0h2m-21 1h2m-11 1h2m1 1h2m-4 1h2m-1 1h2m4 1h2" stroke="#0a8a0a" stroke-width="2" fill="none"/><ellipse cx="69.6" cy="158" rx="7.4" ry="5.6" fill="#fa0000" transform="rotate(10 69.6 158)"/><path transform="scale(.5)" d="M128 297h2m3 1h2m4 0h3m-12 1h2m5 0h3m-8 1h2m0 0h2m3 0h2m1 0h3m-14 1h3m1 0h4m1 0h3m3 0h3m-24 1h3m0 0h6m0 0h2m1 0h7m1 0h4m2 0h2m-27 1h2m2 0h8m1 0h4m1 0h2m3 0h2m1 0h2m-34 1h2m3 0h2m2 0h3m0 0h5m0 0h3m0 0h5m0 0h4m1 0h2m3 0h2m-33 1h2m1 0h2m0 0h3m0 0h8m0 0h9m1 0h2m-25 1h8m9 0h2m0 0h6m-32 1h3m0 0h2m1 0h3m0 0h2m15 0h10m0 0h3m1 0h2m-38 1h7m17 0h4m1 0h2m-32 1h2m0 0h5m19 0h6m-41 1h2m3 0h2m0 0h3m1 0h2m0 0h2m25 0h3m2 0h2m-41 1h2m1 0h5m23 0h8m4 0h2m-45 1h2m0 0h6m24 0h5m-44 1h2m1 0h2m3 0h2m0 0h4m25 0h5m2 0h2m1 0h2m-42 1h5m27 0h4m2 0h2m-45 1h2m3 0h5m26 0h5m0 0h2m-39 1h2m0 0h2m0 0h2m27 0h4m0 0h2m-44 1h2m5 0h2m0 0h2m27 0h3m1 0h2m-41 1h3m0 0h4m0 0h2m25 0h5m1 0h2m-41 1h3m1 0h4m27 0h5m-38 1h7m24 0h2m0 0h2m5 0h2m-43 1h2m1 0h6m22 0h6m-32 1h5m21 0h4m0 0h2m1 0h3m-41 1h2m0 0h7m0 0h2m21 0h4m2 0h2m3 0h2m-48 1h2m2 0h2m1 0h3m0 0h4m17 0h4m1 0h5m-34 1h3m1 0h5m14 0h3m0 0h2m0 0h2m2 0h2m-32 1h4m0 0h3m0 0h3m8 0h8m1 0h2m-30 1h2m0 0h3m0 0h9m0 0h6m0 0h8m0 0h2m-37 1h2m9 0h4m0 0h5m0 0h7m0 0h4m1 0h2m9 0h2m-42 1h2m4 0h2m2 0h2m2 0h4m0 0h4m0 0h3m0 0h2m2 0h2m0 0h2m-25 1h2m2 0h2m0 0h2m0 0h3m0 0h3m0 0h3m3 0h2m0 0h2m-27 1h2m6 0h3m2 0h2m4 0h4m-15 1h2m3 0h2m2 0h2m1 0h2m0 0h2m-11 1h2m6 0h2m-9 1h2m4 0h2" stroke="#fa0000" stroke-width="2" fill="none"/><path transform="scale(.5)" d="M143 288h2m5 1h2m-29 2h2m-8 1h2m20 0h2m-12 3h2m7 1h2m5 0h2m-35 1h2m30 0h2m-37 1h2m33 1h2m5 1h2m-36 1h2m22 0h2m-21 1h2m0 1h4m17 0h2m4 0h2m9 0h2m-42 1h2m13 0h2m-26 1h2m17 0h2m7 0h2m21 0h2m-37 1h2m0 0h2m20 0h2m-45 1h2m8 0h2m0 0h2m7 0h2m-21 1h2m6 0h2m11 0h2m1 0h2m3 0h2m-33 1h2m14 0h3m18 0h2m-26 1h2m6 0h2m1 0h2m1 0h2m5 0h2m11 0h2m-29 1h2m8 0h2m4 0h2m-34 1h2m19 0h2m12 0h3m-40 1h2m20 0h2m25 0h2m-21 1h2m2 0h2m7 0h2m-30 2h2m6 0h2m1 0h2m1 0h2m-35 1h2m12 0h2m18 0h2m-5 1h2m2 0h2m3 1h3m-24 1h2m19 2h2m7 0h2m-35 1h2m29 1h2m2 0h2m-42 3h2m13 0h2m-18 1h2m4 1h2m29 5h2" stroke="#30e020" stroke-width="2" fill="none"/><path transform="scale(.5)" d="M133 291h2m19 2h2m-5 2h2m-26 3h2m1 1h2m15 2h2m-34 1h2m53 0h2m-44 1h2m6 1h2m-9 1h2m20 1h2m-18 1h2m6 0h2m12 1h2m10 0h2m-24 1h3m0 1h2m15 0h2m-30 1h2m-2 1h2m7 0h2m2 0h2m-28 2h2m-20 1h2m39 0h2m-26 1h2m27 0h2m-8 1h2m-17 3h2m5 0h2m-14 2h2m15 1h2m-2 1h2m-18 1h2m-4 2h2m16 3h2m5 0h2m-36 4h2" stroke="#ffc000" stroke-width="2" fill="none"/><rect x="30.5" y="20" width="161.1" height="158.5" fill="none" stroke="#404040" stroke-width="0.9"/><polygon points="71.4,113.4 87.9,108.4 101.4,113.3 109.6,118.5 111.3,130 107.7,144 88.6,149 73.3,142.2 64.3,132.5 64.3,125" fill="none" stroke="#222" stroke-width="0.9"/><polygon points="52.8,151.8 57.3,146.5 66.9,142.8 77.1,145.3 84.1,151.7 85,158 78.4,165 67.5,169.4 58,166.3 52.8,159.3" fill="none" stroke="#222" stroke-width="0.9"/><text x="102.5" y="114" font-size="7.4" text-anchor="start" fill="#222" font-weight="normal">Monocytes</text><text x="93.6" y="165" font-size="7.4" text-anchor="start" fill="#222" font-weight="normal">Lymphocytes</text><text x="99.5" y="17.9" font-size="8.2" text-anchor="middle" fill="#3f3f3f" font-weight="normal">Doublet discrimination</text><text x="110.8" y="201" font-size="7.8" text-anchor="middle" fill="#3f3f3f" font-weight="normal">FSC-A</text><text x="16.8" y="99.5" font-size="7.8" text-anchor="middle" fill="#3f3f3f" font-weight="normal" transform="rotate(-90 16.8 99.5)">SSC-H</text><text x="179" y="199" font-size="6.3" text-anchor="middle" fill="#3f3f3f" font-weight="normal">(x 1,000)</text><text x="16" y="33" font-size="6.3" text-anchor="middle" fill="#3f3f3f" font-weight="normal" transform="rotate(-90 16 33)">(x 1,000)</text><line x1="35.4" y1="178.5" x2="35.4" y2="182.3" stroke="#404040" stroke-width="1"/><line x1="41.6" y1="178.5" x2="41.6" y2="182.3" stroke="#404040" stroke-width="1"/><line x1="47.7" y1="178.5" x2="47.7" y2="182.3" stroke="#404040" stroke-width="1"/><line x1="53.9" y1="178.5" x2="53.9" y2="182.3" stroke="#404040" stroke-width="1"/><line x1="60.1" y1="178.5" x2="60.1" y2="184.1" stroke="#404040" stroke-width="1"/><line x1="66.2" y1="178.5" x2="66.2" y2="182.3" stroke="#404040" stroke-width="1"/><line x1="72.4" y1="178.5" x2="72.4" y2="182.3" stroke="#404040" stroke-width="1"/><line x1="78.6" y1="178.5" x2="78.6" y2="182.3" stroke="#404040" stroke-width="1"/><line x1="84.8" y1="178.5" x2="84.8" y2="182.3" stroke="#404040" stroke-width="1"/><line x1="90.9" y1="178.5" x2="90.9" y2="184.1" stroke="#404040" stroke-width="1"/><line x1="97.1" y1="178.5" x2="97.1" y2="182.3" stroke="#404040" stroke-width="1"/><line x1="103.3" y1="178.5" x2="103.3" y2="182.3" stroke="#404040" stroke-width="1"/><line x1="109.4" y1="178.5" x2="109.4" y2="182.3" stroke="#404040" stroke-width="1"/><line x1="115.6" y1="178.5" x2="115.6" y2="182.3" stroke="#404040" stroke-width="1"/><line x1="121.8" y1="178.5" x2="121.8" y2="184.1" stroke="#404040" stroke-width="1"/><line x1="127.9" y1="178.5" x2="127.9" y2="182.3" stroke="#404040" stroke-width="1"/><line x1="134.1" y1="178.5" x2="134.1" y2="182.3" stroke="#404040" stroke-width="1"/><line x1="140.3" y1="178.5" x2="140.3" y2="182.3" stroke="#404040" stroke-width="1"/><line x1="146.5" y1="178.5" x2="146.5" y2="182.3" stroke="#404040" stroke-width="1"/><line x1="152.6" y1="178.5" x2="152.6" y2="184.1" stroke="#404040" stroke-width="1"/><line x1="158.8" y1="178.5" x2="158.8" y2="182.3" stroke="#404040" stroke-width="1"/><line x1="165" y1="178.5" x2="165" y2="182.3" stroke="#404040" stroke-width="1"/><line x1="171.1" y1="178.5" x2="171.1" y2="182.3" stroke="#404040" stroke-width="1"/><line x1="177.3" y1="178.5" x2="177.3" y2="182.3" stroke="#404040" stroke-width="1"/><text x="60" y="191.5" font-size="6.3" text-anchor="middle" fill="#3f3f3f" font-weight="normal">50</text><text x="90.8" y="191.5" font-size="6.3" text-anchor="middle" fill="#3f3f3f" font-weight="normal">100</text><text x="121.7" y="191.5" font-size="6.3" text-anchor="middle" fill="#3f3f3f" font-weight="normal">150</text><text x="152.5" y="191.5" font-size="6.3" text-anchor="middle" fill="#3f3f3f" font-weight="normal">200</text><text x="183.4" y="191.5" font-size="6.3" text-anchor="middle" fill="#3f3f3f" font-weight="normal">250</text><line x1="30.5" y1="171.6" x2="27.4" y2="171.6" stroke="#404040" stroke-width="1"/><line x1="30.5" y1="165.6" x2="27.4" y2="165.6" stroke="#404040" stroke-width="1"/><line x1="30.5" y1="159.6" x2="27.4" y2="159.6" stroke="#404040" stroke-width="1"/><line x1="30.5" y1="153.6" x2="27.4" y2="153.6" stroke="#404040" stroke-width="1"/><line x1="30.5" y1="147.6" x2="25.9" y2="147.6" stroke="#404040" stroke-width="1"/><line x1="30.5" y1="141.5" x2="27.4" y2="141.5" stroke="#404040" stroke-width="1"/><line x1="30.5" y1="135.5" x2="27.4" y2="135.5" stroke="#404040" stroke-width="1"/><line x1="30.5" y1="129.5" x2="27.4" y2="129.5" stroke="#404040" stroke-width="1"/><line x1="30.5" y1="123.5" x2="27.4" y2="123.5" stroke="#404040" stroke-width="1"/><line x1="30.5" y1="117.5" x2="25.9" y2="117.5" stroke="#404040" stroke-width="1"/><line x1="30.5" y1="111.5" x2="27.4" y2="111.5" stroke="#404040" stroke-width="1"/><line x1="30.5" y1="105.5" x2="27.4" y2="105.5" stroke="#404040" stroke-width="1"/><line x1="30.5" y1="99.5" x2="27.4" y2="99.5" stroke="#404040" stroke-width="1"/><line x1="30.5" y1="93.5" x2="27.4" y2="93.5" stroke="#404040" stroke-width="1"/><line x1="30.5" y1="87.5" x2="25.9" y2="87.5" stroke="#404040" stroke-width="1"/><line x1="30.5" y1="81.4" x2="27.4" y2="81.4" stroke="#404040" stroke-width="1"/><line x1="30.5" y1="75.4" x2="27.4" y2="75.4" stroke="#404040" stroke-width="1"/><line x1="30.5" y1="69.4" x2="27.4" y2="69.4" stroke="#404040" stroke-width="1"/><line x1="30.5" y1="63.4" x2="27.4" y2="63.4" stroke="#404040" stroke-width="1"/><line x1="30.5" y1="57.4" x2="25.9" y2="57.4" stroke="#404040" stroke-width="1"/><line x1="30.5" y1="51.4" x2="27.4" y2="51.4" stroke="#404040" stroke-width="1"/><line x1="30.5" y1="45.4" x2="27.4" y2="45.4" stroke="#404040" stroke-width="1"/><line x1="30.5" y1="39.4" x2="27.4" y2="39.4" stroke="#404040" stroke-width="1"/><line x1="30.5" y1="33.4" x2="27.4" y2="33.4" stroke="#404040" stroke-width="1"/><line x1="30.5" y1="27.3" x2="25.9" y2="27.3" stroke="#404040" stroke-width="1"/><line x1="30.5" y1="21.3" x2="27.4" y2="21.3" stroke="#404040" stroke-width="1"/><text x="24.7" y="147.6" font-size="6.3" text-anchor="middle" fill="#3f3f3f" font-weight="normal" transform="rotate(-90 24.7 147.6)">50</text><text x="24.7" y="117.5" font-size="6.3" text-anchor="middle" fill="#3f3f3f" font-weight="normal" transform="rotate(-90 24.7 117.5)">100</text><text x="24.7" y="87.5" font-size="6.3" text-anchor="middle" fill="#3f3f3f" font-weight="normal" transform="rotate(-90 24.7 87.5)">150</text><text x="24.7" y="57.4" font-size="6.3" text-anchor="middle" fill="#3f3f3f" font-weight="normal" transform="rotate(-90 24.7 57.4)">200</text><text x="24.7" y="27.4" font-size="6.3" text-anchor="middle" fill="#3f3f3f" font-weight="normal" transform="rotate(-90 24.7 27.4)">250</text><line x1="134.5" y1="162.6" x2="203" y2="162.6" stroke="#000" stroke-width="1.15"/><polygon points="208.8,162.6 201.2,158.9 201.2,166.3" fill="#000"/><line x1="87.9" y1="149" x2="87.9" y2="213" stroke="#000" stroke-width="1.2"/><polygon points="87.9,219.7 84.3,212.2 91.5,212.2" fill="#000"/><path d="M248.1,55.5 C254.8,55.3 260,62 259.7,70.5 C259.4,82 256.5,93 254,101.5 C252.6,105.6 244,105.6 242.6,101.5 C239.6,92 236.5,81 236.5,70.5 C236.5,62 241.6,55.5 248.1,55.5Z" fill="#00f000"/><path transform="scale(.5)" d="M505 99h2m-24 2h2m6 0h2m11 0h2m1 0h2m-19 1h2m6 0h2m3 0h2m-18 1h2m2 0h2m2 0h2m0 0h2m16 0h2m-43 1h2m15 0h2m-10 1h2m6 0h2m6 0h3m-19 1h2m6 0h2m0 0h5m4 0h2m-28 1h2m14 0h2m0 0h2m1 0h2m3 0h2m4 0h2m-34 1h2m3 0h2m9 0h3m0 0h2m1 0h4m2 0h3m0 0h2m2 0h3m-27 1h3m1 0h4m1 0h3m0 0h2m0 0h2m2 0h2m2 0h2m-25 1h2m1 0h4m0 0h6m0 0h4m1 0h2m0 0h2m1 0h2m3 0h2m-38 1h2m2 0h2m2 0h4m1 0h10m0 0h7m0 0h2m0 0h2m-33 1h3m4 0h5m1 0h2m0 0h7m0 0h4m0 0h2m0 0h5m-33 1h2m1 0h2m3 0h7m2 0h6m0 0h4m0 0h3m4 0h2m1 0h2m-42 1h2m0 0h3m0 0h2m1 0h5m0 0h3m12 0h3m0 0h5m1 0h3m4 0h2m-48 1h3m2 0h2m2 0h2m0 0h5m14 0h4m0 0h7m-40 1h2m2 0h4m0 0h4m0 0h2m17 0h2m0 0h5m1 0h2m1 0h2m-41 1h2m1 0h6m21 0h5m0 0h3m-38 1h2m0 0h2m0 0h3m24 0h2m0 0h3m4 0h2m-43 1h2m0 0h3m0 0h2m27 0h6m-49 1h2m2 0h3m1 0h2m0 0h5m28 0h7m-47 1h2m6 0h3m30 0h4m-41 1h5m0 0h2m31 0h5m1 0h2m0 0h2m0 0h2m-59 1h2m4 0h2m1 0h3m0 0h2m33 0h4m1 0h2m2 0h2m-52 1h2m2 0h3m35 0h4m0 0h3m2 0h2m-54 1h2m1 0h6m34 0h7m1 0h2m-55 1h2m0 0h2m1 0h2m0 0h3m36 0h9m-56 1h2m4 0h2m0 0h2m38 0h2m1 0h3m-57 1h2m7 0h4m38 0h6m-48 1h4m38 0h6m4 0h2m-58 1h3m0 0h5m39 0h3m0 0h3m-50 1h4m40 0h3m-51 1h5m1 0h2m41 0h4m-54 1h2m3 0h3m41 0h4m-51 1h2m0 0h4m42 0h3m0 0h2m-56 1h2m4 0h3m42 0h3m-50 1h3m0 0h2m42 0h5m0 0h2m-59 1h2m1 0h2m0 0h4m43 0h8m-56 1h6m42 0h3m0 0h2m0 0h3m-54 1h4m43 0h5m-52 1h4m43 0h4m0 0h2m-56 1h2m0 0h2m0 0h3m43 0h2m0 0h3m-56 1h2m2 0h4m43 0h3m0 0h2m5 0h2m-67 1h3m0 0h3m2 0h4m44 0h3m1 0h2m-55 1h2m0 0h3m43 0h2m0 0h4m-55 1h2m0 0h2m0 0h2m42 0h7m-53 1h3m44 0h4m3 0h2m-58 1h6m42 0h3m0 0h2m0 0h2m0 0h3m-55 1h3m42 0h6m0 0h2m-60 1h2m0 0h4m1 0h3m41 0h4m5 0h2m-59 1h5m0 0h2m42 0h2m-58 1h2m7 0h6m41 0h2m2 0h2m-52 1h6m39 0h5m0 0h2m0 0h2m-61 1h3m2 0h3m0 0h2m0 0h3m38 0h4m1 0h5m2 0h2m-57 1h2m0 0h3m38 0h3m7 0h2m-58 1h2m1 0h2m0 0h4m37 0h4m1 0h2m1 0h2m-56 1h2m0 0h2m0 0h2m0 0h3m37 0h2m0 0h5m7 0h2m-58 1h4m0 0h2m36 0h3m1 0h3m0 0h2m-53 1h4m0 0h4m34 0h5m-45 1h5m0 0h2m33 0h5m0 0h2m-49 1h2m0 0h2m0 0h3m0 0h3m30 0h2m0 0h4m1 0h3m3 0h2m-58 1h2m8 0h3m30 0h4m3 0h2m-46 1h4m0 0h2m0 0h2m29 0h5m-42 1h9m26 0h5m0 0h2m-41 1h2m1 0h7m24 0h7m1 0h2m1 0h2m-55 1h2m12 0h4m22 0h5m1 0h2m0 0h3m1 0h2m-49 1h2m5 0h2m1 0h3m21 0h5m1 0h3m6 0h2m-52 1h2m4 0h2m0 0h2m1 0h7m14 0h3m0 0h6m4 0h2m-42 1h2m1 0h2m0 0h4m1 0h5m9 0h4m0 0h2m0 0h7m-39 1h2m0 0h2m3 0h4m0 0h5m0 0h6m0 0h3m0 0h2m0 0h8m2 0h2m-37 1h3m0 0h2m2 0h2m1 0h2m0 0h4m0 0h18m0 0h2m-37 1h2m10 0h2m3 0h5m0 0h2m0 0h2m0 0h4m0 0h2m1 0h2m0 0h2m-28 1h3m0 0h3m1 0h2m0 0h7m2 0h4m0 0h3m2 0h2m1 0h2m-33 1h2m0 0h7m1 0h2m1 0h2m3 0h3m0 0h2m0 0h3m1 0h2m-20 1h3m0 0h2m1 0h2m0 0h4m3 0h2m1 0h2m2 0h2m-32 1h4m5 0h3m2 0h2m0 0h2m0 0h2m5 0h2m2 0h2m-30 1h2m16 1h2m-9 1h2m2 0h3m-3 1h2m-10 1h2m10 1h2m-20 1h2m11 0h2m-13 1h2m5 3h2" stroke="#00f000" stroke-width="2" fill="none"/><path transform="scale(.5)" d="M496 133h2m-14 1h2m3 4h2m4 2h2m9 1h2m-20 1h2m10 0h2m-14 1h2m8 0h2m0 0h2m-12 1h2m0 0h2m0 0h2m9 0h2m-17 1h2m0 0h2m3 0h2m1 0h2m2 0h2m0 0h2m-17 1h2m2 0h2m2 0h2m4 0h3m-33 1h2m4 0h2m9 0h3m2 0h2m2 0h2m3 0h2m-17 1h2m0 0h2m1 0h3m0 0h3m2 0h2m1 0h2m-25 1h2m2 0h2m1 0h2m2 0h3m0 0h2m0 0h3m6 0h3m1 0h2m-25 1h3m3 0h5m1 0h3m0 0h2m3 0h2m-27 1h3m1 0h3m1 0h3m0 0h6m0 0h2m0 0h5m1 0h2m1 0h2m-37 1h2m5 0h2m1 0h7m0 0h2m0 0h9m4 0h3m-27 1h2m1 0h4m0 0h3m4 0h4m0 0h4m-28 1h2m1 0h4m0 0h2m0 0h5m8 0h2m0 0h5m1 0h3m3 0h3m-37 1h2m1 0h5m0 0h2m14 0h3m0 0h2m-30 1h3m1 0h2m1 0h3m14 0h3m0 0h3m1 0h2m-35 1h2m5 0h4m16 0h4m0 0h2m5 0h3m-40 1h2m1 0h6m18 0h2m0 0h3m2 0h2m-39 1h3m0 0h2m2 0h4m21 0h5m-36 1h2m3 0h4m29 0h2m-35 1h2m0 0h2m22 0h3m0 0h2m-35 1h2m0 0h2m0 0h3m23 0h2m0 0h2m4 0h2m0 0h2m-45 1h2m0 0h2m2 0h2m0 0h2m25 0h5m0 0h4m-42 1h3m0 0h4m26 0h3m0 0h3m1 0h2m-43 1h2m1 0h2m1 0h2m26 0h4m4 0h2m-40 1h2m0 0h2m32 0h2m-41 1h2m1 0h2m29 0h2m0 0h3m9 0h2m-51 1h2m1 0h2m0 0h2m28 0h5m1 0h2m-40 1h4m29 0h6m7 0h2m-49 1h2m0 0h3m28 0h2m2 0h2m-39 1h2m0 0h3m29 0h2m0 0h3m0 0h2m-42 1h2m0 0h3m30 0h2m1 0h2m0 0h2m3 0h2m-49 1h3m0 0h2m0 0h2m32 0h3m1 0h2m-44 1h2m0 0h3m32 0h2m1 0h2m-41 1h5m30 0h3m-40 1h2m3 0h2m30 0h4m0 0h2m0 0h3m3 0h2m-49 1h2m33 0h2m0 0h3m-43 1h2m0 0h3m0 0h2m32 0h4m0 0h2m-45 1h3m0 0h3m0 0h2m30 0h3m0 0h2m-41 1h6m31 0h3m2 0h2m-42 1h4m31 0h2m0 0h2m0 0h2m-49 1h2m6 0h4m32 0h3m-42 1h2m3 0h2m30 0h3m1 0h3m-42 1h5m30 0h3m0 0h3m-41 1h4m31 0h3m-43 1h2m2 0h2m1 0h2m31 0h2m1 0h2m0 0h2m-47 1h2m38 0h3m1 0h3m-41 1h3m31 0h3m2 0h2m-39 1h2m30 0h2m2 0h3m-44 1h2m0 0h2m1 0h2m30 0h3m-4 1h5m1 0h2m-45 1h3m0 0h2m1 0h3m28 0h2m0 0h2m2 0h2m-42 1h2m0 0h2m1 0h2m27 0h2m0 0h2m3 0h2m-44 1h3m0 0h2m0 0h3m26 0h6m2 0h2m-43 1h2m0 0h4m27 0h3m-40 1h2m5 0h2m0 0h2m25 0h4m0 0h4m-43 1h2m4 0h4m25 0h2m1 0h2m0 0h3m-38 1h2m0 0h5m22 0h4m2 0h2m0 0h3m-43 1h2m0 0h4m0 0h2m0 0h2m22 0h2m0 0h2m0 0h2m-33 1h3m0 0h3m21 0h2m0 0h3m-36 1h3m1 0h4m0 0h2m21 0h4m7 0h2m-37 1h3m19 0h2m0 0h5m-33 1h2m3 0h4m17 0h3m1 0h2m0 0h2m3 0h3m-43 1h3m3 0h6m16 0h2m0 0h2m0 0h2m1 0h2m0 0h2m-34 1h4m0 0h5m12 0h4m1 0h2m1 0h3m-31 1h2m0 0h6m10 0h6m1 0h2m1 0h2m-31 1h4m2 0h2m1 0h2m0 0h2m5 0h8m0 0h2m1 0h2m-27 1h2m0 0h2m0 0h8m0 0h3m0 0h3m0 0h2m1 0h3m2 0h2m-27 1h9m1 0h2m0 0h2m0 0h4m3 0h2m-26 1h2m0 0h2m0 0h2m0 0h6m1 0h3m0 0h3m1 0h3m0 0h2m1 0h2m1 0h2m-30 1h2m9 0h4m0 0h2m2 0h2m1 0h2m0 0h2m-20 1h2m6 0h2m6 0h3" stroke="#00f000" stroke-width="2" fill="none"/><path transform="scale(.5)" d="M514 85h2m-20 9h2m15 5h2m-8 10h2m-22 4h2m21 2h2m-28 1h2m28 3h2m-12 1h2m-23 2h2m24 0h2m17 0h2m-32 1h2m-23 1h2m12 0h2m1 1h2m-1 1h2m-22 2h2m-4 1h2m22 0h2m15 0h2m-34 1h2m11 0h2m9 1h2m13 0h2m-25 1h2m-20 5h2m-5 1h2m3 1h2m12 3h2m-27 1h2m35 1h3m-40 1h2m25 0h2m6 1h2m-17 2h2m9 0h2m-11 1h2m8 0h2m7 0h2m-4 2h2m1 0h2m-41 1h2m29 0h2m-13 1h2m3 0h2m6 1h2m-3 1h2m-24 1h2m-1 1h2m28 0h2m-29 1h2m9 1h2m2 0h2m1 0h2m-38 1h2m19 1h2m-2 1h2m-17 2h2m19 1h2m12 0h2m-18 1h2m19 0h2m-13 1h2m1 0h2m-37 1h2m35 0h2m-20 3h2m2 1h2m30 0h2m-24 1h2m0 0h2m17 1h2m-35 1h2m7 0h2m3 3h2m11 1h2m-55 1h2m18 0h2m17 1h2m6 0h2m-24 1h2m-4 2h2m4 0h2m20 0h2m-44 2h2m-9 1h2m27 0h2m-37 1h2m25 0h2m9 1h2m-15 1h2m4 0h3m-11 1h2m16 1h2m15 1h2m-23 5h2m-2 1h3m-15 3h2m-9 4h2m27 4h2" stroke="#00f000" stroke-width="2" fill="none"/><ellipse cx="304.6" cy="79.8" rx="15.2" ry="6" fill="#fa0000" transform="rotate(-23 304.6 79.8)"/><ellipse cx="296" cy="85.5" rx="9" ry="4.6" fill="#fa0000" transform="rotate(-18 296 85.5)"/><path transform="scale(.5)" d="M624 128h2m18 0h2m-30 3h2m18 1h2m8 0h2m-3 1h2m-5 1h2m-26 1h2m12 0h2m3 0h3m5 0h2m-33 1h2m11 0h4m2 0h2m0 0h2m7 0h2m-29 1h3m0 0h2m0 0h2m0 0h2m0 0h2m4 0h4m4 0h2m6 0h2m1 0h2m3 0h2m2 0h2m-45 1h4m1 0h3m0 0h2m0 0h2m0 0h4m6 0h2m1 0h3m-28 1h2m0 0h2m1 0h2m1 0h3m0 0h5m1 0h3m0 0h2m0 0h2m-34 1h2m1 0h2m4 0h2m1 0h2m0 0h3m0 0h2m0 0h2m1 0h4m0 0h3m0 0h2m0 0h5m8 0h2m-47 1h2m1 0h2m3 0h6m1 0h7m2 0h6m0 0h2m1 0h3m1 0h3m3 0h2m-47 1h2m1 0h2m1 0h2m0 0h2m2 0h2m0 0h20m0 0h2m0 0h3m0 0h4m0 0h2m-48 1h2m1 0h2m1 0h2m0 0h15m0 0h7m0 0h10m1 0h3m1 0h4m-53 1h2m2 0h2m1 0h5m0 0h2m0 0h30m2 0h4m0 0h2m9 0h2m-76 1h2m14 0h2m2 0h4m0 0h2m0 0h9m11 0h8m0 0h8m1 0h2m4 0h2m-58 1h2m2 0h4m0 0h9m19 0h10m0 0h2m0 0h3m1 0h4m1 0h2m-73 1h2m9 0h2m0 0h15m23 0h12m-56 1h2m0 0h2m1 0h2m2 0h3m0 0h6m27 0h11m4 0h2m-66 1h2m5 0h2m0 0h2m1 0h8m29 0h2m0 0h8m0 0h6m1 0h2m-62 1h3m0 0h2m0 0h6m33 0h7m1 0h3m1 0h3m0 0h2m-71 1h2m6 0h3m0 0h8m36 0h4m0 0h6m-61 1h2m2 0h2m0 0h7m37 0h9m1 0h2m-67 1h3m0 0h4m0 0h2m0 0h2m0 0h6m38 0h6m0 0h3m0 0h2m6 0h2m-72 1h3m0 0h10m39 0h7m0 0h3m0 0h2m3 0h2m-75 1h2m4 0h2m0 0h2m0 0h3m0 0h4m41 0h4m0 0h2m1 0h2m0 0h2m1 0h2m0 0h2m-81 1h2m11 0h3m0 0h7m41 0h5m0 0h2m0 0h3m7 0h2m-72 1h5m0 0h6m42 0h6m16 0h2m-77 1h9m43 0h4m0 0h4m0 0h2m0 0h2m-66 1h2m0 0h9m42 0h8m-61 1h2m0 0h4m0 0h4m42 0h9m-61 1h9m42 0h3m0 0h9m10 0h2m-79 1h2m0 0h3m0 0h6m43 0h8m-62 1h2m1 0h8m42 0h4m0 0h3m0 0h3m-66 1h4m2 0h4m0 0h4m40 0h6m0 0h2m1 0h3m-62 1h2m1 0h4m0 0h2m40 0h8m13 0h2m-74 1h10m40 0h3m0 0h2m0 0h2m-64 1h2m4 0h3m1 0h7m37 0h10m0 0h2m2 0h2m-68 1h2m1 0h2m0 0h4m1 0h4m37 0h7m0 0h3m-61 1h2m0 0h2m0 0h3m0 0h2m0 0h5m36 0h8m0 0h2m2 0h3m3 0h2m2 0h2m-80 1h2m1 0h2m2 0h3m1 0h4m0 0h5m32 0h11m-66 1h2m2 0h4m3 0h2m1 0h2m0 0h8m30 0h7m1 0h4m2 0h2m0 0h2m-69 1h2m5 0h2m3 0h4m0 0h5m27 0h9m1 0h2m1 0h2m3 0h2m-63 1h2m1 0h3m1 0h7m0 0h3m24 0h11m1 0h2m0 0h3m-55 1h2m0 0h13m19 0h9m2 0h2m0 0h2m-57 1h2m5 0h2m0 0h2m3 0h3m0 0h5m0 0h2m0 0h3m11 0h6m0 0h7m0 0h2m0 0h3m2 0h2m-58 1h2m0 0h2m0 0h2m2 0h5m0 0h34m0 0h2m0 0h4m5 0h2m3 0h2m-62 1h2m0 0h4m1 0h11m0 0h15m0 0h4m0 0h4m0 0h4m0 0h2m2 0h3m-52 1h2m4 0h2m0 0h3m0 0h6m0 0h14m0 0h2m0 0h2m0 0h5m0 0h3m-45 1h2m7 0h2m3 0h6m0 0h9m0 0h7m0 0h3m5 0h2m-45 1h2m3 0h2m2 0h4m1 0h5m0 0h3m0 0h3m0 0h6m0 0h2m5 0h2m3 0h2m2 0h2m-48 1h4m2 0h2m3 0h2m0 0h3m2 0h3m0 0h2m1 0h2m0 0h2m0 0h6m0 0h3m10 0h2m-46 1h2m0 0h2m1 0h2m5 0h2m3 0h2m1 0h4m0 0h2m6 0h2m0 0h2m-34 1h2m6 0h2m1 0h2m3 0h2m5 0h2m10 0h2m-38 1h2m1 0h2m0 0h2m11 0h3m15 0h2m-20 1h2m4 0h2m-34 1h2m9 0h2m30 2h2" stroke="#fa0000" stroke-width="2" fill="none"/><path transform="scale(.5)" d="M609 122h2m20 5h2m-51 3h2m11 0h2m34 0h2m-28 1h2m25 0h2m-70 1h2m7 0h2m30 0h2m-10 1h3m-21 1h2m21 0h2m18 0h2m9 0h2m-13 1h2m-51 1h2m20 0h2m17 0h2m6 0h2m20 0h2m-20 1h2m-72 1h2m31 0h2m35 0h2m-50 1h2m0 0h2m12 0h2m5 0h2m14 1h2m5 0h2m-23 1h2m0 0h2m1 0h2m2 0h2m0 0h2m14 0h2m-45 1h2m10 0h2m5 0h2m2 0h2m10 0h2m2 0h2m-55 1h2m20 0h2m1 0h2m7 0h2m3 0h2m11 0h2m26 0h2m-93 1h2m0 0h2m7 0h2m1 0h2m4 0h2m2 0h2m4 0h2m2 0h2m6 0h2m1 0h2m4 0h2m20 0h2m-81 1h2m11 0h2m2 0h2m7 0h2m9 0h2m16 0h2m1 0h2m9 0h2m15 0h2m-73 1h2m14 0h2m3 0h2m0 0h3m1 0h2m1 0h2m5 0h4m0 0h2m9 0h3m5 0h2m-86 1h2m16 0h2m7 0h2m6 0h2m0 0h2m3 0h3m4 0h2m0 0h2m5 0h2m4 0h2m16 0h2m1 0h2m-76 1h2m1 0h2m9 0h2m0 0h2m3 0h2m0 0h2m8 0h2m4 0h2m0 0h2m3 0h2m0 0h2m6 0h2m4 0h2m4 0h2m-61 1h3m16 0h2m5 0h2m5 0h2m4 0h2m2 0h2m0 0h3m0 0h2m1 0h2m0 0h3m12 0h2m-80 1h2m5 0h2m0 0h2m5 0h2m0 0h3m7 0h2m0 0h2m0 0h2m15 0h2m1 0h2m2 0h2m1 0h3m3 0h3m11 0h2m-74 1h2m1 0h2m7 0h2m0 0h4m3 0h2m0 0h2m0 0h3m2 0h2m0 0h3m3 0h2m10 0h2m11 0h2m2 0h2m-93 1h2m3 0h2m13 0h2m3 0h2m18 0h2m0 0h2m2 0h2m0 0h4m0 0h2m0 0h3m0 0h2m0 0h3m2 0h2m1 0h2m4 0h2m5 0h2m2 0h2m1 0h2m6 0h2m-67 1h3m7 0h3m0 0h3m2 0h2m0 0h2m0 0h3m0 0h2m0 0h2m0 0h4m1 0h2m0 0h3m7 0h2m22 0h2m-80 1h2m1 0h2m0 0h2m2 0h2m0 0h4m0 0h3m2 0h4m1 0h2m8 0h2m2 0h2m0 0h2m3 0h3m0 0h3m0 0h4m2 0h3m5 0h2m-83 1h2m1 0h2m9 0h3m1 0h3m0 0h2m4 0h3m2 0h3m0 0h2m2 0h2m1 0h5m0 0h2m2 0h3m0 0h2m0 0h3m3 0h2m0 0h2m0 0h4m6 0h2m0 0h2m10 0h2m0 0h2m-90 1h2m7 0h2m0 0h2m2 0h2m7 0h2m0 0h2m1 0h2m0 0h2m0 0h5m2 0h2m0 0h2m0 0h2m1 0h5m0 0h2m0 0h2m0 0h2m8 0h2m0 0h2m1 0h4m-69 1h3m9 0h3m2 0h4m1 0h2m0 0h2m0 0h3m0 0h2m8 0h3m0 0h4m0 0h2m0 0h4m3 0h4m0 0h2m0 0h3m0 0h2m3 0h2m2 0h2m1 0h2m-87 1h3m8 0h2m0 0h2m1 0h4m0 0h2m0 0h2m1 0h3m2 0h2m19 0h2m0 0h2m0 0h2m7 0h4m5 0h2m1 0h3m-73 1h2m0 0h2m1 0h2m6 0h2m1 0h2m1 0h4m1 0h3m21 0h2m0 0h2m0 0h2m0 0h3m0 0h2m2 0h2m3 0h3m5 0h3m1 0h2m-84 1h2m1 0h2m9 0h4m2 0h2m0 0h2m1 0h2m28 0h2m3 0h2m1 0h3m0 0h3m8 0h2m6 0h2m-99 1h2m18 0h2m0 0h2m0 0h2m9 0h2m0 0h2m33 0h2m4 0h3m8 0h2m5 0h2m-94 1h2m17 0h2m0 0h3m2 0h2m0 0h2m0 0h3m30 0h2m0 0h5m0 0h2m4 0h2m-73 1h2m3 0h2m2 0h2m0 0h4m1 0h2m0 0h2m1 0h3m35 0h2m2 0h2m1 0h2m0 0h3m1 0h3m5 0h2m4 0h2m5 0h2m-95 1h2m0 0h2m10 0h2m2 0h3m2 0h3m35 0h3m0 0h3m3 0h3m10 0h3m0 0h2m1 0h2m-90 1h2m2 0h2m8 0h2m2 0h3m1 0h3m35 0h2m0 0h2m2 0h3m1 0h2m14 0h2m-100 1h2m12 0h3m4 0h2m4 0h2m1 0h6m38 0h2m1 0h3m5 0h2m1 0h2m13 0h2m-93 1h3m8 0h2m1 0h2m6 0h2m36 0h2m5 0h2m7 0h2m0 0h2m1 0h2m-86 1h2m8 0h3m2 0h2m2 0h3m39 0h3m0 0h2m1 0h2m4 0h3m4 0h2m13 0h2m-90 1h2m0 0h2m1 0h2m1 0h3m0 0h2m42 0h2m2 0h3m2 0h2m2 0h2m3 0h3m21 0h2m-115 1h2m13 0h2m1 0h2m3 0h2m0 0h2m1 0h2m0 0h2m0 0h2m40 0h3m0 0h4m7 0h2m5 0h2m8 0h2m-98 1h2m0 0h2m8 0h3m6 0h2m39 0h2m0 0h2m5 0h2m0 0h3m2 0h2m4 0h2m-92 1h2m12 0h3m1 0h2m0 0h3m1 0h4m0 0h2m36 0h4m6 0h2m1 0h2m6 0h2m1 0h2m-76 1h3m0 0h7m0 0h3m36 0h2m1 0h2m2 0h2m2 0h2m0 0h2m13 0h2m3 0h2m-91 1h2m5 0h4m7 0h3m35 0h3m4 0h2m3 0h2m3 0h2m6 0h2m0 0h2m-96 1h2m4 0h2m6 0h2m1 0h6m0 0h2m7 0h2m30 0h3m1 0h2m1 0h5m1 0h2m3 0h2m5 0h2m-76 1h3m3 0h2m1 0h2m0 0h4m1 0h3m31 0h2m10 0h2m1 0h2m12 0h2m-93 1h2m8 0h2m4 0h2m0 0h5m1 0h2m0 0h3m31 0h6m0 0h2m0 0h2m0 0h2m3 0h2m10 0h2m-76 1h3m2 0h2m0 0h2m7 0h3m0 0h2m24 0h5m0 0h3m0 0h3m0 0h2m5 0h2m2 0h2m14 0h2m1 0h2m-95 1h2m7 0h2m0 0h2m2 0h2m9 0h3m20 0h2m0 0h2m0 0h3m0 0h2m0 0h3m3 0h2m16 0h2m7 0h2m-92 1h3m4 0h2m2 0h4m1 0h3m0 0h4m0 0h4m19 0h2m1 0h2m2 0h2m0 0h2m1 0h2m2 0h2m0 0h3m1 0h2m2 0h2m2 0h2m-73 1h2m9 0h2m2 0h3m1 0h2m0 0h2m0 0h5m8 0h2m0 0h3m0 0h3m0 0h4m0 0h3m0 0h3m0 0h2m2 0h2m0 0h2m1 0h2m1 0h2m-83 1h3m10 0h2m3 0h2m5 0h2m0 0h2m1 0h3m0 0h2m3 0h6m4 0h7m0 0h2m0 0h3m3 0h2m0 0h3m0 0h2m2 0h2m2 0h3m0 0h2m1 0h2m4 0h2m-78 1h2m2 0h3m2 0h2m0 0h2m0 0h4m1 0h2m0 0h2m0 0h2m3 0h2m1 0h5m0 0h3m0 0h2m1 0h2m0 0h4m1 0h3m0 0h3m1 0h2m1 0h2m-66 1h3m6 0h2m0 0h2m2 0h2m1 0h2m0 0h2m0 0h5m0 0h2m0 0h2m3 0h3m4 0h4m0 0h2m0 0h2m0 0h4m0 0h2m1 0h2m2 0h3m0 0h2m4 0h2m12 0h2m-82 1h2m4 0h2m4 0h2m0 0h3m2 0h2m2 0h2m0 0h2m3 0h5m1 0h2m1 0h2m3 0h2m1 0h2m3 0h2m2 0h2m1 0h3m-55 1h2m1 0h2m3 0h2m1 0h2m0 0h3m0 0h4m1 0h2m1 0h3m4 0h3m0 0h2m0 0h2m2 0h2m1 0h2m0 0h2m4 0h2m1 0h2m2 0h2m3 0h2m0 0h2m9 0h2m1 0h2m-84 1h2m7 0h2m2 0h2m1 0h2m1 0h2m5 0h3m0 0h2m0 0h2m1 0h2m1 0h2m0 0h2m8 0h2m1 0h2m0 0h2m0 0h2m13 0h2m-88 1h2m20 0h2m1 0h3m2 0h2m2 0h2m2 0h2m2 0h2m2 0h3m1 0h2m6 0h3m5 0h2m10 0h2m0 0h2m-81 1h3m16 0h2m1 0h2m8 0h2m6 0h2m0 0h3m1 0h2m0 0h2m1 0h3m1 0h2m0 0h2m2 0h2m11 0h2m-58 1h2m9 0h2m1 0h2m2 0h2m1 0h2m1 0h3m2 0h2m0 0h2m8 0h3m7 0h2m21 0h2m-73 1h2m0 0h2m0 0h2m2 0h2m7 0h3m0 0h4m8 0h2m11 0h2m-41 1h2m12 0h3m2 0h2m4 0h3m3 0h2m3 0h2m1 0h2m11 0h2m-70 1h2m16 0h2m12 0h2m1 0h2m8 0h2m4 0h2m4 0h2m1 0h2m6 0h2m-59 1h2m4 0h2m6 0h2m3 0h2m0 0h2m2 0h2m5 0h2m-40 1h2m7 0h2m7 0h2m0 0h2m21 0h2m0 0h4m1 0h2m4 0h2m-66 1h4m14 0h2m3 0h2m0 0h2m9 0h2m7 0h2m1 0h3m13 0h2m-43 1h3m3 0h2m10 0h2m2 0h3m12 0h2m-54 1h2m0 0h3m6 0h3m13 0h2m3 0h2m8 0h3m0 0h2m2 0h2m-53 1h2m0 0h2m1 0h2m8 0h2m7 0h2m31 0h3m-53 1h2m0 0h3m0 0h2m9 0h2m7 0h2m18 0h2m3 0h2m-42 1h2m0 0h2m40 0h2m-38 1h2m16 0h2m-42 1h2m22 1h2m-37 1h2m25 0h2m11 0h2m31 1h2m-66 1h2m14 0h2m9 1h2m5 0h2m-13 1h2m5 0h2m15 1h2m-28 1h2m17 0h2" stroke="#fa0000" stroke-width="2" fill="none"/><path transform="scale(.5)" d="M583 94h2m52 11h2m-66 1h2m-24 3h2m25 0h2m26 0h2m-4 1h2m37 0h2m-47 1h2m6 1h2m-34 4h2m-18 1h2m7 0h3m2 0h2m46 0h2m41 1h2m-76 2h2m27 0h2m-58 1h2m11 1h2m11 0h2m69 1h2m-83 1h2m-37 1h2m29 0h2m23 0h2m11 0h2m50 0h2m-112 1h2m33 0h3m-25 1h2m12 1h2m0 0h2m6 0h2m28 0h2m41 0h2m-54 1h2m-65 1h2m55 0h3m-12 1h2m-45 2h2m58 0h2m-27 1h2m7 0h2m25 1h2m-87 1h2m39 0h2m14 0h2m20 0h2m-47 1h2m10 0h3m11 0h2m2 1h2m10 0h2m18 0h2m-58 1h2m19 0h3m17 0h2m-34 1h2m34 0h2m-45 1h2m23 0h3m51 0h2m-81 1h2m7 0h2m0 0h2m-7 1h2m10 0h2m11 0h2m13 0h2m0 0h2m-28 1h2m55 0h2m-121 1h3m3 0h2m10 0h2m27 0h3m7 0h2m13 0h2m49 0h2m-105 1h2m25 0h2m6 0h2m8 0h2m6 0h3m3 0h2m-21 1h2m24 0h2m-83 1h3m0 0h2m15 0h2m3 0h2m12 0h2m54 0h2m-79 1h2m3 0h2m4 0h2m4 0h2m1 0h2m9 0h2m16 0h2m10 0h2m-87 1h2m58 0h2m21 0h2m-60 1h2m11 0h2m24 0h2m0 0h2m1 0h2m21 0h2m-31 1h2m4 0h2m-23 1h2m0 0h2m8 0h2m1 0h2m-45 1h2m15 0h2m13 0h3m-44 1h2m27 0h2m2 0h2m17 0h2m7 0h2m-74 1h2m24 0h2m3 0h2m4 0h2m16 0h2m9 0h2m-60 1h2m10 0h2m5 0h2m32 0h2m7 0h2m-44 1h2m11 0h2m5 0h2m2 0h2m16 0h2m2 0h2m15 0h2m-91 1h2m19 0h2m3 0h2m1 0h2m54 0h2m-80 1h2m4 0h2m13 0h2m21 0h2m1 0h2m-59 1h2m20 0h2m0 0h2m35 0h2m7 0h3m-72 1h2m0 0h3m15 0h3m2 0h2m8 0h2m16 0h2m2 0h2m36 0h2m-72 1h2m9 0h2m23 0h3m13 0h2m9 0h2m-88 1h2m13 0h2m27 0h2m14 0h2m7 0h2m5 0h2m7 0h2m-55 1h3m1 0h2m53 0h2m-47 1h2m20 0h2m40 0h2m-95 1h2m42 0h2m-48 1h2m8 0h2m46 0h2m17 0h2m-89 1h2m18 0h2m43 0h2m-47 1h2m11 0h2m6 0h2m10 0h2m1 0h2m-65 1h2m28 0h2m-31 1h2m36 0h2m11 0h2m8 0h2m7 0h2m34 0h2m-80 1h2m28 0h2m-60 1h2m2 0h2m0 0h2m40 0h3m8 0h2m15 0h2m-77 1h2m3 0h2m11 0h2m8 0h2m13 0h2m6 0h2m1 0h2m4 0h2m-18 1h2m8 0h2m1 0h2m27 0h2m23 0h2m-92 1h2m21 0h2m11 0h2m10 0h2m14 0h2m20 0h2m-111 1h2m54 0h2m39 0h2m-80 1h2m8 1h2m4 0h2m31 0h2m17 0h2m19 0h2m-80 1h2m31 0h2m-46 1h2m6 0h2m10 0h2m4 0h2m9 0h2m28 0h2m-68 1h2m22 0h2m29 0h2m24 0h2m-92 1h2m14 0h2m10 0h2m5 0h2m32 0h2m-66 1h2m9 0h2m4 0h2m3 0h2m14 0h2m0 0h2m13 0h2m-68 1h2m49 0h2m26 0h2m-49 1h2m8 0h2m7 0h3m12 0h2m-62 1h2m2 0h2m25 0h2m3 0h2m11 0h2m0 0h2m-55 1h2m30 0h2m22 0h2m1 0h2m-29 2h2m45 0h2m-85 1h2m8 0h2m24 0h2m36 0h2m-12 1h2m-70 1h2m19 0h2m17 0h2m16 0h2m3 0h2m-39 1h2m33 0h2m-57 1h2m45 0h2m-21 1h2m23 3h2m-44 1h2m60 0h2m-55 2h2m46 0h2m-71 1h2m80 0h2m-67 1h2m4 0h2m-13 1h2m63 0h2m-30 1h2m42 0h2m-92 1h2m24 0h2m1 1h2m2 1h2m-40 1h2m79 0h2" stroke="#fa0000" stroke-width="2" fill="none"/><ellipse cx="250" cy="121.8" rx="11.2" ry="8.8" fill="#ffc000" transform="rotate(-5 250 121.8)"/><path d="M255,116 C268,116.5 277,118 285,119.5 C285.5,120.5 285,121.3 284.5,121.8 C280,123.5 268,125.5 255,127Z" fill="#ffc000"/><path transform="scale(.5)" d="M511 216h2m-16 1h2m9 0h2m3 0h2m-21 1h4m-3 1h2m0 0h2m1 0h2m17 0h2m3 0h2m-42 1h2m3 0h2m1 0h2m4 0h3m2 0h2m1 0h2m2 0h2m7 0h2m-35 1h3m6 0h2m0 0h2m3 0h2m2 0h5m9 0h2m-37 1h3m2 0h3m2 0h3m0 0h4m3 0h2m3 0h2m0 0h2m0 0h2m-34 1h2m3 0h3m3 0h7m0 0h3m0 0h2m2 0h3m0 0h2m2 0h2m4 0h2m-39 1h3m3 0h7m0 0h4m0 0h7m2 0h2m1 0h4m0 0h3m4 0h2m-51 1h3m1 0h2m3 0h3m0 0h2m0 0h8m0 0h5m0 0h12m1 0h2m5 0h3m-46 1h3m0 0h3m1 0h2m1 0h3m0 0h26m0 0h3m12 0h2m-50 1h15m7 0h7m0 0h2m0 0h4m1 0h2m0 0h5m-48 1h3m1 0h2m1 0h8m16 0h11m0 0h2m0 0h3m-51 1h2m4 0h7m0 0h3m22 0h5m0 0h2m0 0h2m4 0h2m0 0h2m-62 1h2m8 0h2m1 0h6m0 0h3m24 0h8m0 0h4m0 0h2m1 0h2m-56 1h3m1 0h9m27 0h5m0 0h3m-46 1h2m1 0h6m30 0h2m2 0h4m1 0h2m3 0h2m4 0h2m-69 1h2m2 0h2m2 0h3m0 0h5m34 0h7m0 0h2m1 0h2m-58 1h2m0 0h2m0 0h2m0 0h6m35 0h5m0 0h2m7 0h2m-64 1h2m1 0h2m2 0h4m36 0h6m0 0h3m2 0h2m-60 1h2m0 0h2m1 0h6m37 0h7m0 0h3m-64 1h2m3 0h2m3 0h6m38 0h7m1 0h2m-60 1h2m0 0h2m0 0h4m0 0h4m39 0h4m0 0h2m0 0h2m2 0h2m0 0h2m-67 1h2m1 0h2m0 0h4m0 0h4m40 0h2m0 0h6m1 0h2m-64 1h2m0 0h3m3 0h4m41 0h5m0 0h2m-57 1h2m0 0h2m0 0h6m40 0h2m1 0h2m1 0h3m0 0h2m-59 1h7m42 0h6m1 0h2m0 0h2m-60 1h3m1 0h3m42 0h6m0 0h3m-61 1h2m1 0h5m0 0h2m42 0h4m1 0h2m-54 1h5m41 0h7m3 0h2m-62 1h4m1 0h4m41 0h3m0 0h3m0 0h2m2 0h2m-65 1h2m2 0h3m0 0h5m41 0h5m1 0h2m-55 1h7m40 0h2m1 0h2m4 0h4m0 0h2m-67 1h3m3 0h6m41 0h5m4 0h3m-61 1h2m0 0h2m1 0h3m39 0h5m0 0h2m0 0h2m-61 1h3m2 0h5m0 0h4m37 0h2m0 0h3m-60 1h2m8 0h4m0 0h5m36 0h3m0 0h4m0 0h4m-60 1h2m2 0h5m1 0h3m35 0h6m0 0h2m1 0h3m-55 1h2m1 0h6m34 0h4m0 0h3m0 0h3m-57 1h2m3 0h9m30 0h8m2 0h3m8 0h2m-63 1h5m1 0h2m0 0h2m29 0h5m1 0h5m17 0h2m-69 1h3m2 0h8m25 0h9m2 0h2m2 0h2m-55 1h2m1 0h2m0 0h3m0 0h7m21 0h2m0 0h9m3 0h2m0 0h2m3 0h2m-58 1h2m1 0h2m1 0h10m16 0h2m0 0h3m0 0h3m1 0h2m0 0h3m-52 1h2m5 0h3m3 0h3m1 0h6m1 0h2m9 0h4m0 0h3m0 0h5m1 0h3m1 0h3m-51 1h2m0 0h3m4 0h3m1 0h6m0 0h10m0 0h3m1 0h5m2 0h5m0 0h2m1 0h2m0 0h3m-52 1h2m2 0h2m4 0h3m2 0h4m0 0h10m0 0h3m0 0h6m5 0h4m0 0h2m-50 1h2m1 0h2m0 0h2m3 0h2m3 0h3m1 0h8m0 0h5m0 0h2m0 0h3m0 0h2m0 0h3m2 0h3m3 0h2m-43 1h2m3 0h3m1 0h7m0 0h4m1 0h2m0 0h5m5 0h2m-38 1h2m3 0h2m3 0h2m0 0h2m0 0h3m0 0h3m1 0h2m0 0h2m0 0h2m0 0h4m8 0h2m0 0h2m-48 1h2m11 0h3m0 0h2m0 0h2m2 0h2m11 0h4m1 0h2m-34 1h2m3 0h2m2 0h2m5 0h4m2 0h2m1 0h2m0 0h2m2 0h2m-24 1h2m11 0h2m2 0h2m-18 1h2m2 0h2m2 0h2m5 0h2m-23 1h2m31 0h2m-27 1h2m9 0h2m0 0h2m-10 1h2m-5 1h2m5 0h2m-1 1h2" stroke="#ffc000" stroke-width="2" fill="none"/><path transform="scale(.5)" d="M514 226h2m19 0h2m16 0h2m-22 1h2m12 1h3m3 0h2m-39 1h2m14 0h2m10 0h2m11 0h2m-41 1h2m5 0h2m1 0h4m4 0h2m1 0h2m0 0h2m9 0h2m9 0h2m4 0h2m22 0h2m-97 1h2m3 0h2m4 0h3m0 0h2m5 0h2m1 0h2m4 0h2m0 0h2m1 0h3m6 0h2m4 0h2m2 0h3m4 0h2m9 0h2m-59 1h2m12 0h2m0 0h2m0 0h2m0 0h4m1 0h3m2 0h6m3 0h2m2 0h2m1 0h2m5 0h2m3 0h2m-88 1h2m13 0h2m6 0h2m7 0h5m1 0h3m0 0h3m3 0h3m2 0h2m1 0h3m1 0h2m0 0h4m4 0h2m0 0h2m2 0h2m6 0h2m0 0h2m6 0h2m4 0h2m-80 1h2m0 0h2m2 0h3m1 0h3m0 0h3m2 0h3m0 0h6m0 0h2m0 0h5m3 0h2m0 0h2m10 0h2m0 0h2m4 0h2m3 0h2m6 0h2m-74 1h2m3 0h3m8 0h3m2 0h2m0 0h2m1 0h2m0 0h2m0 0h2m1 0h3m0 0h2m0 0h3m0 0h3m3 0h2m0 0h3m1 0h11m2 0h2m3 0h2m4 0h2m-81 1h2m3 0h2m1 0h2m0 0h2m1 0h3m1 0h3m2 0h2m4 0h2m0 0h3m1 0h7m1 0h3m0 0h2m0 0h6m0 0h2m1 0h3m0 0h2m1 0h2m2 0h2m1 0h2m6 0h2m-100 1h2m14 0h3m6 0h2m0 0h2m2 0h2m0 0h2m2 0h3m0 0h4m2 0h4m2 0h4m0 0h4m0 0h6m0 0h2m1 0h4m3 0h2m4 0h2m2 0h2m1 0h2m2 0h2m4 0h2m5 0h2m-91 1h2m3 0h5m3 0h2m1 0h2m0 0h3m1 0h4m0 0h2m0 0h2m0 0h3m14 0h5m0 0h2m0 0h9m3 0h2m1 0h2m0 0h2m-81 1h2m4 0h2m0 0h2m2 0h3m0 0h2m6 0h7m1 0h5m0 0h2m21 0h4m1 0h2m0 0h2m0 0h3m0 0h3m1 0h2m2 0h2m1 0h2m5 0h2m-83 1h4m4 0h2m1 0h2m0 0h2m2 0h3m0 0h3m1 0h4m26 0h2m0 0h5m0 0h3m0 0h2m3 0h2m0 0h4m0 0h2m5 0h2m-97 1h2m12 0h2m0 0h2m1 0h2m1 0h2m1 0h3m0 0h3m0 0h2m0 0h2m1 0h2m0 0h3m26 0h2m3 0h2m0 0h3m1 0h2m0 0h2m1 0h3m2 0h2m8 0h2m1 0h2m-101 1h2m12 0h2m4 0h2m1 0h2m0 0h2m1 0h6m0 0h6m25 0h9m0 0h3m6 0h5m3 0h4m0 0h2m5 0h2m-86 1h3m0 0h3m4 0h6m0 0h2m0 0h5m0 0h2m18 0h3m0 0h2m2 0h2m0 0h3m0 0h2m0 0h3m1 0h3m6 0h4m13 0h2m5 0h2m-105 1h2m2 0h2m3 0h2m0 0h2m1 0h2m3 0h2m0 0h3m0 0h15m1 0h2m6 0h3m2 0h3m0 0h5m0 0h2m0 0h2m2 0h5m0 0h2m1 0h3m3 0h2m0 0h2m2 0h2m8 0h3m0 0h2m-100 1h5m2 0h2m0 0h2m0 0h2m0 0h2m0 0h2m2 0h2m0 0h3m3 0h2m1 0h4m0 0h10m0 0h5m0 0h4m2 0h5m2 0h3m4 0h3m0 0h3m19 0h2m-102 1h2m11 0h2m5 0h2m0 0h4m0 0h3m1 0h2m0 0h3m0 0h2m0 0h6m2 0h2m1 0h2m1 0h2m1 0h2m1 0h2m0 0h3m0 0h3m0 0h3m1 0h4m3 0h4m16 0h2m6 0h2m-98 1h2m4 0h2m11 0h2m1 0h2m3 0h4m3 0h2m1 0h2m0 0h5m0 0h3m0 0h4m1 0h3m1 0h3m1 0h2m2 0h2m6 0h2m4 0h2m1 0h2m-81 1h2m2 0h2m1 0h2m2 0h2m0 0h2m1 0h3m0 0h2m3 0h5m0 0h2m0 0h4m0 0h5m0 0h2m0 0h2m1 0h4m1 0h3m2 0h2m1 0h3m1 0h2m0 0h2m0 0h2m0 0h2m-62 1h2m5 0h2m1 0h2m1 0h2m0 0h2m1 0h3m1 0h2m1 0h2m2 0h2m0 0h2m11 0h2m2 0h4m1 0h2m8 0h2m-69 1h2m1 0h2m1 0h2m4 0h3m4 0h3m4 0h2m4 0h2m4 0h2m1 0h2m1 0h2m40 0h2m-104 1h2m25 0h2m6 0h2m5 0h2m5 0h2m45 0h2m-84 1h2m13 0h2m11 0h2m10 0h2m0 0h2m-7 1h2m2 0h2m0 0h2m10 0h2m-41 1h2m4 0h2m4 0h2m0 0h2m-1 1h2m5 0h2m4 0h2m6 0h2m4 0h2" stroke="#ffc000" stroke-width="2" fill="none"/><path transform="scale(.5)" d="M522 217h2m11 0h2m8 1h2m-47 2h2m-3 1h2m4 0h2m27 2h2m-69 3h2m65 1h2m25 1h2m-103 1h2m42 0h2m79 0h2m-115 1h2m101 0h2m-75 2h2m10 0h2m15 0h2m46 1h2m34 0h2m-47 1h2m1 0h2m-41 2h2m-11 1h2m-38 1h2m3 0h2m34 0h2m32 0h2m-48 1h2m7 0h2m-63 1h2m2 0h2m46 0h2m17 0h2m22 0h2m-108 1h2m66 0h2m25 0h2m-41 1h2m14 0h2m37 0h2m-56 1h2m7 2h2m-43 1h2m28 1h2m47 0h2m-22 1h2m-17 1h2m6 0h2m19 0h2m31 0h2m-81 1h2m21 0h2m4 0h2m-80 1h2m69 1h2m97 0h2m-149 1h2m35 0h2m5 0h2m-38 1h2m-23 2h2m95 0h2m-61 1h2m4 0h2m40 0h2m0 0h2m-57 2h2m26 2h2m-70 1h2m59 0h2m-8 1h2m-41 2h2m48 0h2m2 0h2m-9 1h2m-32 4h2m6 2h2m28 0h2" stroke="#ffd24d" stroke-width="2" fill="none"/><rect x="224.5" y="19.5" width="162" height="159" fill="none" stroke="#404040" stroke-width="1"/><text x="294" y="17.5" font-size="7.9" text-anchor="middle" fill="#3f3f3f" font-weight="normal">Lymphocytes</text><text x="305" y="201.5" font-size="8.0" text-anchor="middle" fill="#3f3f3f" font-weight="normal">CD8 BUV395-A</text><text x="208.5" y="99.5" font-size="8.1" text-anchor="middle" fill="#3f3f3f" font-weight="normal" transform="rotate(-90 208.5 99.5)">CD3 FITC-A</text><line x1="224.7" y1="178.5" x2="224.7" y2="184.5" stroke="#404040" stroke-width="1"/><line x1="220.8" y1="178.5" x2="220.8" y2="181.9" stroke="#4a4a4a" stroke-width="0.85"/><line x1="222.3" y1="178.5" x2="222.3" y2="181.9" stroke="#4a4a4a" stroke-width="0.85"/><line x1="223.8" y1="178.5" x2="223.8" y2="181.9" stroke="#4a4a4a" stroke-width="0.85"/><line x1="225.3" y1="178.5" x2="225.3" y2="181.9" stroke="#4a4a4a" stroke-width="0.85"/><line x1="226.8" y1="178.5" x2="226.8" y2="181.9" stroke="#4a4a4a" stroke-width="0.85"/><line x1="228.3" y1="178.5" x2="228.3" y2="181.9" stroke="#4a4a4a" stroke-width="0.85"/><line x1="229.8" y1="178.5" x2="229.8" y2="181.9" stroke="#4a4a4a" stroke-width="0.85"/><line x1="231.3" y1="178.5" x2="231.3" y2="181.9" stroke="#4a4a4a" stroke-width="0.85"/><line x1="232.8" y1="178.5" x2="232.8" y2="181.9" stroke="#4a4a4a" stroke-width="0.85"/><line x1="234.3" y1="178.5" x2="234.3" y2="181.9" stroke="#4a4a4a" stroke-width="0.85"/><line x1="235.8" y1="178.5" x2="235.8" y2="181.9" stroke="#4a4a4a" stroke-width="0.85"/><line x1="237.3" y1="178.5" x2="237.3" y2="181.9" stroke="#4a4a4a" stroke-width="0.85"/><line x1="238.8" y1="178.5" x2="238.8" y2="181.9" stroke="#4a4a4a" stroke-width="0.85"/><line x1="240.3" y1="178.5" x2="240.3" y2="181.9" stroke="#4a4a4a" stroke-width="0.85"/><line x1="241.8" y1="178.5" x2="241.8" y2="181.9" stroke="#4a4a4a" stroke-width="0.85"/><line x1="243.3" y1="178.5" x2="243.3" y2="181.9" stroke="#4a4a4a" stroke-width="0.85"/><line x1="244.8" y1="178.5" x2="244.8" y2="181.9" stroke="#4a4a4a" stroke-width="0.85"/><line x1="246.3" y1="178.5" x2="246.3" y2="181.9" stroke="#4a4a4a" stroke-width="0.85"/><line x1="247.8" y1="178.5" x2="247.8" y2="181.9" stroke="#4a4a4a" stroke-width="0.85"/><line x1="249.3" y1="178.5" x2="249.3" y2="181.9" stroke="#4a4a4a" stroke-width="0.85"/><line x1="250.8" y1="178.5" x2="250.8" y2="181.9" stroke="#4a4a4a" stroke-width="0.85"/><line x1="252.3" y1="178.5" x2="252.3" y2="181.9" stroke="#4a4a4a" stroke-width="0.85"/><line x1="253.8" y1="178.5" x2="253.8" y2="181.9" stroke="#4a4a4a" stroke-width="0.85"/><line x1="255.3" y1="178.5" x2="255.3" y2="181.9" stroke="#4a4a4a" stroke-width="0.85"/><line x1="220.8" y1="178.5" x2="220.8" y2="184.3" stroke="#404040" stroke-width="1"/><line x1="242" y1="178.5" x2="242" y2="184.3" stroke="#404040" stroke-width="1"/><line x1="256.6" y1="178.5" x2="256.6" y2="184.3" stroke="#404040" stroke-width="1"/><line x1="268.6" y1="178.5" x2="268.6" y2="181.9" stroke="#404040" stroke-width="0.9"/><line x1="275.6" y1="178.5" x2="275.6" y2="181.9" stroke="#404040" stroke-width="0.9"/><line x1="280.6" y1="178.5" x2="280.6" y2="181.9" stroke="#404040" stroke-width="0.9"/><line x1="284.4" y1="178.5" x2="284.4" y2="181.9" stroke="#404040" stroke-width="0.9"/><line x1="287.6" y1="178.5" x2="287.6" y2="181.9" stroke="#404040" stroke-width="0.9"/><line x1="290.2" y1="178.5" x2="290.2" y2="181.9" stroke="#404040" stroke-width="0.9"/><line x1="292.5" y1="178.5" x2="292.5" y2="181.9" stroke="#404040" stroke-width="0.9"/><line x1="294.6" y1="178.5" x2="294.6" y2="181.9" stroke="#404040" stroke-width="0.9"/><line x1="296.4" y1="178.5" x2="296.4" y2="184.3" stroke="#404040" stroke-width="1"/><line x1="307.4" y1="178.5" x2="307.4" y2="181.9" stroke="#404040" stroke-width="0.9"/><line x1="313.9" y1="178.5" x2="313.9" y2="181.9" stroke="#404040" stroke-width="0.9"/><line x1="318.4" y1="178.5" x2="318.4" y2="181.9" stroke="#404040" stroke-width="0.9"/><line x1="322" y1="178.5" x2="322" y2="181.9" stroke="#404040" stroke-width="0.9"/><line x1="324.9" y1="178.5" x2="324.9" y2="181.9" stroke="#404040" stroke-width="0.9"/><line x1="327.3" y1="178.5" x2="327.3" y2="181.9" stroke="#404040" stroke-width="0.9"/><line x1="329.5" y1="178.5" x2="329.5" y2="181.9" stroke="#404040" stroke-width="0.9"/><line x1="331.3" y1="178.5" x2="331.3" y2="181.9" stroke="#404040" stroke-width="0.9"/><line x1="333" y1="178.5" x2="333" y2="184.3" stroke="#404040" stroke-width="1"/><line x1="344" y1="178.5" x2="344" y2="181.9" stroke="#404040" stroke-width="0.9"/><line x1="350.5" y1="178.5" x2="350.5" y2="181.9" stroke="#404040" stroke-width="0.9"/><line x1="355" y1="178.5" x2="355" y2="181.9" stroke="#404040" stroke-width="0.9"/><line x1="358.6" y1="178.5" x2="358.6" y2="181.9" stroke="#404040" stroke-width="0.9"/><line x1="361.5" y1="178.5" x2="361.5" y2="181.9" stroke="#404040" stroke-width="0.9"/><line x1="363.9" y1="178.5" x2="363.9" y2="181.9" stroke="#404040" stroke-width="0.9"/><line x1="366.1" y1="178.5" x2="366.1" y2="181.9" stroke="#404040" stroke-width="0.9"/><line x1="367.9" y1="178.5" x2="367.9" y2="181.9" stroke="#404040" stroke-width="0.9"/><line x1="369.6" y1="178.5" x2="369.6" y2="184.3" stroke="#404040" stroke-width="1"/><line x1="380.6" y1="178.5" x2="380.6" y2="181.9" stroke="#404040" stroke-width="0.9"/><line x1="224.5" y1="178.5" x2="219.5" y2="178.5" stroke="#404040" stroke-width="1"/><line x1="224.5" y1="145.4" x2="222.1" y2="145.4" stroke="#4a4a4a" stroke-width="0.85"/><line x1="224.5" y1="146.9" x2="222.1" y2="146.9" stroke="#4a4a4a" stroke-width="0.85"/><line x1="224.5" y1="148.4" x2="222.1" y2="148.4" stroke="#4a4a4a" stroke-width="0.85"/><line x1="224.5" y1="149.9" x2="222.1" y2="149.9" stroke="#4a4a4a" stroke-width="0.85"/><line x1="224.5" y1="151.4" x2="222.1" y2="151.4" stroke="#4a4a4a" stroke-width="0.85"/><line x1="224.5" y1="152.9" x2="222.1" y2="152.9" stroke="#4a4a4a" stroke-width="0.85"/><line x1="224.5" y1="154.4" x2="222.1" y2="154.4" stroke="#4a4a4a" stroke-width="0.85"/><line x1="224.5" y1="155.9" x2="222.1" y2="155.9" stroke="#4a4a4a" stroke-width="0.85"/><line x1="224.5" y1="157.4" x2="222.1" y2="157.4" stroke="#4a4a4a" stroke-width="0.85"/><line x1="224.5" y1="158.9" x2="222.1" y2="158.9" stroke="#4a4a4a" stroke-width="0.85"/><line x1="224.5" y1="160.4" x2="222.1" y2="160.4" stroke="#4a4a4a" stroke-width="0.85"/><line x1="224.5" y1="161.9" x2="222.1" y2="161.9" stroke="#4a4a4a" stroke-width="0.85"/><line x1="224.5" y1="163.4" x2="222.1" y2="163.4" stroke="#4a4a4a" stroke-width="0.85"/><line x1="224.5" y1="164.9" x2="222.1" y2="164.9" stroke="#4a4a4a" stroke-width="0.85"/><line x1="224.5" y1="166.4" x2="222.1" y2="166.4" stroke="#4a4a4a" stroke-width="0.85"/><line x1="224.5" y1="167.9" x2="222.1" y2="167.9" stroke="#4a4a4a" stroke-width="0.85"/><line x1="224.5" y1="169.4" x2="222.1" y2="169.4" stroke="#4a4a4a" stroke-width="0.85"/><line x1="224.5" y1="170.9" x2="222.1" y2="170.9" stroke="#4a4a4a" stroke-width="0.85"/><line x1="224.5" y1="172.4" x2="222.1" y2="172.4" stroke="#4a4a4a" stroke-width="0.85"/><line x1="224.5" y1="173.9" x2="222.1" y2="173.9" stroke="#4a4a4a" stroke-width="0.85"/><line x1="224.5" y1="175.4" x2="222.1" y2="175.4" stroke="#4a4a4a" stroke-width="0.85"/><line x1="224.5" y1="176.9" x2="222.1" y2="176.9" stroke="#4a4a4a" stroke-width="0.85"/><line x1="224.5" y1="178.4" x2="222.1" y2="178.4" stroke="#4a4a4a" stroke-width="0.85"/><line x1="224.5" y1="179.9" x2="222.1" y2="179.9" stroke="#4a4a4a" stroke-width="0.85"/><line x1="224.5" y1="181.4" x2="222.1" y2="181.4" stroke="#4a4a4a" stroke-width="0.85"/><line x1="224.5" y1="181.5" x2="219.9" y2="181.5" stroke="#404040" stroke-width="1"/><line x1="224.5" y1="163" x2="219.9" y2="163" stroke="#404040" stroke-width="1"/><line x1="224.5" y1="145.4" x2="219.9" y2="145.4" stroke="#404040" stroke-width="1"/><line x1="224.5" y1="133.4" x2="222.4" y2="133.4" stroke="#404040" stroke-width="0.9"/><line x1="224.5" y1="126.3" x2="222.4" y2="126.3" stroke="#404040" stroke-width="0.9"/><line x1="224.5" y1="121.3" x2="222.4" y2="121.3" stroke="#404040" stroke-width="0.9"/><line x1="224.5" y1="117.4" x2="222.4" y2="117.4" stroke="#404040" stroke-width="0.9"/><line x1="224.5" y1="114.3" x2="222.4" y2="114.3" stroke="#404040" stroke-width="0.9"/><line x1="224.5" y1="111.6" x2="222.4" y2="111.6" stroke="#404040" stroke-width="0.9"/><line x1="224.5" y1="109.3" x2="222.4" y2="109.3" stroke="#404040" stroke-width="0.9"/><line x1="224.5" y1="107.2" x2="222.4" y2="107.2" stroke="#404040" stroke-width="0.9"/><line x1="224.5" y1="105.4" x2="219.9" y2="105.4" stroke="#404040" stroke-width="1"/><line x1="224.5" y1="94.4" x2="222.4" y2="94.4" stroke="#404040" stroke-width="0.9"/><line x1="224.5" y1="88" x2="222.4" y2="88" stroke="#404040" stroke-width="0.9"/><line x1="224.5" y1="83.5" x2="222.4" y2="83.5" stroke="#404040" stroke-width="0.9"/><line x1="224.5" y1="80" x2="222.4" y2="80" stroke="#404040" stroke-width="0.9"/><line x1="224.5" y1="77.1" x2="222.4" y2="77.1" stroke="#404040" stroke-width="0.9"/><line x1="224.5" y1="74.6" x2="222.4" y2="74.6" stroke="#404040" stroke-width="0.9"/><line x1="224.5" y1="72.5" x2="222.4" y2="72.5" stroke="#404040" stroke-width="0.9"/><line x1="224.5" y1="70.7" x2="222.4" y2="70.7" stroke="#404040" stroke-width="0.9"/><line x1="224.5" y1="69" x2="219.9" y2="69" stroke="#404040" stroke-width="1"/><line x1="224.5" y1="58.2" x2="222.4" y2="58.2" stroke="#404040" stroke-width="0.9"/><line x1="224.5" y1="51.8" x2="222.4" y2="51.8" stroke="#404040" stroke-width="0.9"/><line x1="224.5" y1="47.3" x2="222.4" y2="47.3" stroke="#404040" stroke-width="0.9"/><line x1="224.5" y1="43.8" x2="222.4" y2="43.8" stroke="#404040" stroke-width="0.9"/><line x1="224.5" y1="41" x2="222.4" y2="41" stroke="#404040" stroke-width="0.9"/><line x1="224.5" y1="38.6" x2="222.4" y2="38.6" stroke="#404040" stroke-width="0.9"/><line x1="224.5" y1="36.5" x2="222.4" y2="36.5" stroke="#404040" stroke-width="0.9"/><line x1="224.5" y1="34.6" x2="222.4" y2="34.6" stroke="#404040" stroke-width="0.9"/><line x1="224.5" y1="33" x2="219.9" y2="33" stroke="#404040" stroke-width="1"/><line x1="224.5" y1="22.2" x2="222.4" y2="22.2" stroke="#404040" stroke-width="0.9"/><text x="222.2" y="195" font-size="6.3" text-anchor="middle" fill="#3f3f3f" font-weight="normal">-116</text><text x="242" y="191" font-size="6.3" text-anchor="middle" fill="#3f3f3f" font-weight="normal">0</text><text x="256.1" y="192" font-size="6.4" text-anchor="middle" fill="#333" font-weight="bold">10<tspan dy="-3.1" font-size="5.632000000000001">2</tspan></text><text x="295.9" y="192" font-size="6.4" text-anchor="middle" fill="#333" font-weight="bold">10<tspan dy="-3.1" font-size="5.632000000000001">3</tspan></text><text x="332.5" y="192" font-size="6.4" text-anchor="middle" fill="#333" font-weight="bold">10<tspan dy="-3.1" font-size="5.632000000000001">4</tspan></text><text x="369.1" y="192" font-size="6.4" text-anchor="middle" fill="#333" font-weight="bold">10<tspan dy="-3.1" font-size="5.632000000000001">5</tspan></text><text x="214" y="181.1" font-size="6.3" text-anchor="start" fill="#3f3f3f" font-weight="normal" transform="rotate(-90 214 181.1)">-76</text><text x="219.9" y="163" font-size="6.3" text-anchor="middle" fill="#3f3f3f" font-weight="normal" transform="rotate(-90 219.9 163)">0</text><text x="220.1" y="145.9" font-size="6.4" text-anchor="middle" fill="#333" font-weight="bold" transform="rotate(-90 220.1 145.9)">10<tspan dy="-3.1" font-size="5.632000000000001">2</tspan></text><text x="220.1" y="105.9" font-size="6.4" text-anchor="middle" fill="#333" font-weight="bold" transform="rotate(-90 220.1 105.9)">10<tspan dy="-3.1" font-size="5.632000000000001">3</tspan></text><text x="220.1" y="69.5" font-size="6.4" text-anchor="middle" fill="#333" font-weight="bold" transform="rotate(-90 220.1 69.5)">10<tspan dy="-3.1" font-size="5.632000000000001">4</tspan></text><text x="220.1" y="33.5" font-size="6.4" text-anchor="middle" fill="#333" font-weight="bold" transform="rotate(-90 220.1 33.5)">10<tspan dy="-3.1" font-size="5.632000000000001">5</tspan></text><rect x="224.7" y="41.6" width="41.9" height="65" fill="none" stroke="#333" stroke-width="0.8"/><rect x="268.6" y="44.6" width="65.4" height="62" fill="none" stroke="#333" stroke-width="0.8"/><text x="229.3" y="35.3" font-size="7.2" text-anchor="start" fill="#222" font-weight="normal">CD8- T cell</text><text x="288.8" y="36.8" font-size="7.2" text-anchor="start" fill="#222" font-weight="normal">CD8+ T cell</text><ellipse cx="501.3" cy="134.6" rx="28.3" ry="14.7" fill="#00f000" transform="rotate(-41 501.3 134.6)"/><path transform="scale(.5)" d="M1054 186h2m28 7h2m-45 1h2m-14 1h2m0 0h2m47 0h2m-55 1h2m11 0h2m10 1h2m-31 1h2m23 0h2m8 0h2m-31 1h2m26 1h2m1 0h2m-1 1h2m10 0h2m-48 1h3m6 0h2m6 0h2m-14 1h2m13 0h2m3 0h2m25 0h2m-43 1h2m16 0h2m3 0h2m-27 1h3m0 0h2m16 0h2m0 0h2m-30 1h2m23 0h2m2 0h2m6 0h2m-45 1h3m2 0h2m0 0h2m13 0h2m-40 1h2m19 0h2m1 0h2m21 0h2m-37 1h2m4 0h2m3 0h2m0 0h2m2 0h2m7 0h2m10 0h2m24 0h2m-72 1h2m13 0h3m3 0h2m4 0h2m13 0h2m-54 1h2m30 0h2m1 0h2m19 0h2m0 0h2m9 0h2m-70 1h2m18 0h2m1 0h2m0 0h2m1 0h3m4 0h2m0 0h3m7 0h2m3 0h2m-51 1h2m10 0h2m1 0h2m4 0h2m0 0h2m0 0h2m5 0h2m2 0h2m6 0h2m5 0h4m-61 1h2m8 0h2m7 0h3m0 0h2m2 0h2m2 0h3m3 0h3m0 0h2m4 0h2m8 0h2m6 0h2m2 0h2m-73 1h2m15 0h2m2 0h2m2 0h3m4 0h2m2 0h2m0 0h2m1 0h2m0 0h2m6 0h2m9 0h2m0 0h3m-49 1h2m2 0h2m2 0h3m4 0h2m2 0h2m0 0h3m8 0h2m0 0h2m6 0h2m2 0h2m10 0h2m-87 1h2m3 0h2m1 0h2m8 0h2m5 0h2m1 0h2m1 0h2m5 0h4m5 0h3m4 0h3m1 0h2m7 0h3m3 0h4m3 0h2m7 0h2m-59 1h2m2 0h2m3 0h2m0 0h3m1 0h4m2 0h2m0 0h3m0 0h3m5 0h3m3 0h2m-68 1h2m3 0h2m2 0h2m8 0h2m1 0h3m4 0h3m0 0h2m6 0h4m1 0h2m0 0h8m1 0h3m1 0h2m-58 1h2m5 0h3m0 0h2m7 0h4m2 0h3m1 0h3m0 0h2m5 0h4m2 0h2m1 0h2m0 0h2m5 0h2m2 0h2m-70 1h2m11 0h2m1 0h2m0 0h6m3 0h2m5 0h3m3 0h2m1 0h2m0 0h2m1 0h2m2 0h2m0 0h2m0 0h3m3 0h2m0 0h2m0 0h2m-80 1h2m18 0h2m4 0h6m0 0h2m1 0h3m0 0h10m2 0h2m0 0h6m1 0h3m0 0h3m2 0h4m0 0h2m2 0h2m2 0h2m3 0h2m-70 1h3m1 0h2m0 0h2m2 0h2m1 0h3m2 0h3m0 0h4m2 0h5m2 0h7m1 0h3m0 0h2m3 0h2m11 0h3m3 0h2m-58 1h3m0 0h4m1 0h9m0 0h2m0 0h6m0 0h5m3 0h3m2 0h2m1 0h6m1 0h2m7 0h2m-70 1h2m6 0h2m4 0h2m0 0h3m1 0h5m0 0h8m0 0h5m0 0h8m0 0h2m1 0h3m0 0h3m-66 1h2m2 0h3m3 0h2m5 0h3m0 0h2m1 0h2m0 0h7m0 0h3m0 0h3m0 0h13m0 0h2m0 0h5m0 0h5m1 0h3m1 0h2m1 0h2m0 0h2m-64 1h3m2 0h2m0 0h8m0 0h9m1 0h3m1 0h2m0 0h2m0 0h5m0 0h6m0 0h6m3 0h2m1 0h2m4 0h2m0 0h2m-74 1h2m2 0h2m2 0h5m3 0h5m1 0h7m16 0h11m1 0h3m0 0h4m1 0h3m1 0h3m1 0h2m-93 1h2m16 0h2m0 0h2m0 0h2m2 0h3m0 0h2m0 0h4m0 0h2m0 0h4m0 0h4m21 0h6m0 0h4m0 0h4m2 0h2m0 0h3m0 0h2m9 0h2m2 0h2m-99 1h2m6 0h2m0 0h3m2 0h2m1 0h2m2 0h3m3 0h6m0 0h3m26 0h9m1 0h5m3 0h2m0 0h5m1 0h2m-85 1h2m3 0h2m3 0h2m4 0h4m2 0h5m31 0h3m0 0h3m0 0h3m0 0h2m2 0h2m1 0h4m0 0h2m0 0h2m-82 1h2m7 0h3m1 0h6m3 0h3m39 0h4m1 0h3m0 0h2m3 0h2m5 0h2m1 0h2m15 0h2m-116 1h3m8 0h2m0 0h2m1 0h3m2 0h3m3 0h3m1 0h2m38 0h9m0 0h2m0 0h2m1 0h3m0 0h2m1 0h2m7 0h2m-94 1h2m2 0h2m3 0h2m0 0h7m0 0h2m0 0h3m40 0h10m2 0h2m0 0h2m6 0h2m4 0h3m-106 1h2m7 0h2m0 0h2m0 0h2m0 0h3m1 0h2m3 0h5m1 0h3m43 0h5m0 0h4m0 0h2m0 0h4m2 0h2m13 0h2m-104 1h2m6 0h2m2 0h2m1 0h2m3 0h5m46 0h8m2 0h2m1 0h3m0 0h2m8 0h2m-101 1h2m3 0h3m1 0h3m3 0h2m0 0h2m1 0h5m50 0h2m1 0h2m1 0h2m3 0h2m5 0h3m3 0h2m3 0h2m0 0h2m-101 1h2m3 0h3m2 0h2m0 0h4m0 0h2m49 0h2m0 0h7m0 0h3m3 0h3m-84 1h3m2 0h5m2 0h2m52 0h3m0 0h2m1 0h2m17 0h2m-102 1h2m0 0h3m3 0h2m1 0h2m1 0h4m0 0h4m54 0h3m0 0h6m1 0h2m5 0h2m2 0h4m-97 1h2m0 0h2m1 0h9m1 0h2m55 0h5m3 0h6m-93 1h2m1 0h5m3 0h2m3 0h3m0 0h4m56 0h9m1 0h2m3 0h2m1 0h2m-105 1h2m2 0h2m2 0h2m1 0h3m0 0h2m4 0h4m0 0h3m59 0h3m0 0h2m0 0h3m0 0h2m9 0h2m-100 1h2m1 0h2m3 0h2m0 0h2m0 0h7m59 0h4m0 0h3m4 0h4m0 0h2m2 0h2m-103 1h2m2 0h2m0 0h2m2 0h3m0 0h2m1 0h6m60 0h2m0 0h4m1 0h2m1 0h4m2 0h2m3 0h2m3 0h2m2 0h2m-131 1h2m11 0h2m6 0h3m0 0h6m0 0h2m0 0h2m0 0h2m0 0h2m61 0h2m0 0h2m0 0h3m0 0h4m2 0h2m0 0h2m-96 1h2m2 0h5m0 0h2m0 0h5m65 0h2m0 0h2m5 0h2m1 0h2m-95 1h2m2 0h10m65 0h5m1 0h2m1 0h2m1 0h2m2 0h2m1 0h2m-112 1h2m6 0h2m0 0h2m1 0h3m1 0h4m0 0h2m0 0h3m65 0h3m0 0h2m0 0h4m0 0h3m-101 1h2m4 0h2m2 0h2m0 0h4m0 0h6m66 0h5m0 0h6m14 0h2m-135 1h2m27 0h3m0 0h5m0 0h4m67 0h2m1 0h5m0 0h2m1 0h2m0 0h2m3 0h2m-106 1h2m4 0h2m2 0h2m1 0h3m0 0h3m67 0h2m2 0h4m2 0h3m0 0h2m0 0h2m-109 1h2m3 0h4m2 0h3m0 0h2m0 0h4m0 0h4m68 0h8m1 0h3m6 0h2m1 0h2m-103 1h6m0 0h2m0 0h2m69 0h3m0 0h9m1 0h2m1 0h2m-115 1h2m12 0h2m2 0h9m71 0h3m2 0h2m0 0h2m2 0h3m-98 1h2m0 0h2m0 0h4m1 0h3m71 0h4m3 0h3m10 0h2m-118 1h2m4 0h2m1 0h2m3 0h9m73 0h6m1 0h3m7 0h3m-111 1h2m1 0h2m0 0h2m2 0h2m0 0h2m1 0h5m71 0h2m0 0h2m1 0h5m9 0h2m-112 1h2m5 0h3m0 0h2m0 0h6m0 0h2m71 0h2m0 0h2m1 0h2m4 0h2m2 0h2m4 0h2m-113 1h2m4 0h2m0 0h2m0 0h7m73 0h3m0 0h5m-116 1h2m12 0h2m0 0h2m3 0h2m1 0h2m0 0h2m1 0h3m1 0h2m72 0h4m1 0h5m1 0h4m-113 1h2m8 0h3m2 0h2m2 0h2m0 0h4m73 0h4m0 0h6m0 0h2m0 0h2m5 0h2m-129 1h2m17 0h2m0 0h2m3 0h4m1 0h3m74 0h5m0 0h3m1 0h3m-100 1h3m5 0h2m0 0h3m73 0h2m0 0h4m1 0h2m1 0h2m8 0h2m-106 1h3m1 0h7m73 0h2m0 0h3m0 0h4m4 0h3m-115 1h2m8 0h5m0 0h2m0 0h2m0 0h5m74 0h6m1 0h2m0 0h2m-120 1h2m23 0h2m0 0h6m0 0h2m74 0h3m0 0h3m3 0h2m4 0h2m2 0h2m-104 1h2m0 0h2m0 0h4m76 0h2m1 0h2m4 0h2m5 0h2m-112 1h2m0 0h2m1 0h2m2 0h6m0 0h3m74 0h5m1 0h2m28 0h2m-128 1h2m0 0h2m1 0h2m1 0h4m1 0h2m74 0h3m3 0h2m1 0h3m2 0h3m9 0h2m-127 1h3m9 0h3m1 0h2m1 0h6m73 0h2m0 0h7m5 0h2m0 0h2m5 0h3m-133 1h2m12 0h2m11 0h5m75 0h5m0 0h4m0 0h2m5 0h2m-117 1h2m5 0h2m1 0h2m4 0h3m1 0h3m76 0h7m16 0h2m-115 1h2m1 0h3m0 0h2m0 0h3m0 0h2m75 0h2m0 0h2m0 0h2m1 0h2m0 0h3m0 0h2m0 0h2m-104 1h2m2 0h3m0 0h2m0 0h4m75 0h3m2 0h3m0 0h3m0 0h2m0 0h2m-113 1h2m4 0h2m0 0h2m1 0h2m3 0h3m0 0h5m75 0h2m0 0h3m1 0h2m0 0h2m2 0h3m-102 1h2m1 0h3m0 0h5m73 0h2m1 0h4m0 0h5m7 0h2m-109 1h2m3 0h10m72 0h3m2 0h2m0 0h4m3 0h2m-107 1h2m3 0h2m0 0h3m2 0h3m0 0h2m74 0h8m2 0h3m3 0h3m7 0h2m-122 1h3m4 0h5m1 0h5m0 0h2m75 0h2m1 0h8m5 0h2m-109 1h2m3 0h2m0 0h2m0 0h2m0 0h3m0 0h2m73 0h2m2 0h2m0 0h3m1 0h2m-103 1h3m1 0h2m1 0h2m0 0h2m1 0h7m70 0h2m0 0h2m0 0h6m0 0h4m1 0h2m-116 1h2m4 0h2m8 0h3m0 0h4m2 0h2m71 0h6m-92 1h2m2 0h2m0 0h2m3 0h4m70 0h2m6 0h2m0 0h4m7 0h2m0 0h3m-112 1h2m0 0h2m3 0h2m0 0h3m1 0h4m67 0h4m1 0h4m1 0h3m2 0h2m10 0h2m-124 1h2m8 0h4m1 0h2m1 0h3m1 0h5m69 0h3m0 0h3m0 0h2m5 0h2m4 0h2m1 0h2m-108 1h2m3 0h2m0 0h6m0 0h2m67 0h2m0 0h2m0 0h2m1 0h3m-95 1h2m0 0h3m3 0h2m0 0h2m0 0h2m0 0h4m66 0h8m1 0h2m0 0h3m1 0h2m0 0h2m12 0h2m-126 1h2m13 0h2m0 0h10m65 0h3m0 0h2m0 0h2m0 0h2m0 0h2m3 0h3m1 0h2m-110 1h3m8 0h2m2 0h6m0 0h2m68 0h2m1 0h4m0 0h4m0 0h2m4 0h2m2 0h2m-110 1h2m0 0h2m6 0h6m0 0h5m63 0h4m0 0h2m18 0h2m24 0h2m-136 1h2m1 0h3m0 0h3m1 0h2m0 0h3m0 0h4m63 0h2m0 0h4m1 0h2m0 0h3m0 0h2m8 0h2m-109 1h2m7 0h2m0 0h2m0 0h10m61 0h9m3 0h3m3 0h2m0 0h2m0 0h2m14 0h2m-129 1h2m3 0h2m10 0h2m1 0h3m0 0h2m0 0h4m61 0h2m0 0h4m1 0h2m1 0h2m0 0h3m0 0h2m-91 1h2m1 0h3m0 0h4m0 0h2m58 0h8m2 0h3m0 0h2m6 0h2m8 0h2m-121 1h2m5 0h2m3 0h2m1 0h2m0 0h2m3 0h5m1 0h3m57 0h5m3 0h4m4 0h2m4 0h2m-109 1h2m8 0h3m0 0h2m0 0h2m0 0h2m0 0h3m0 0h6m56 0h2m0 0h4m4 0h3m0 0h3m-88 1h2m4 0h3m1 0h6m56 0h2m1 0h2m2 0h2m3 0h2m0 0h2m-88 1h2m3 0h5m0 0h4m0 0h2m53 0h6m0 0h4m-83 1h3m0 0h2m4 0h3m0 0h2m1 0h2m0 0h3m51 0h2m0 0h4m0 0h3m0 0h2m3 0h2m6 0h2m0 0h3m-100 1h2m2 0h2m0 0h4m0 0h2m5 0h3m1 0h2m48 0h2m0 0h4m0 0h3m0 0h2m0 0h2m1 0h3m5 0h2m-95 1h2m6 0h2m4 0h3m0 0h7m45 0h3m0 0h9m6 0h2m10 0h2m-99 1h2m3 0h2m1 0h2m2 0h2m0 0h7m45 0h2m0 0h5m0 0h3m0 0h3m0 0h2m0 0h2m2 0h2m-102 1h2m10 0h2m7 0h3m1 0h2m0 0h2m0 0h3m0 0h5m43 0h9m0 0h3m0 0h2m2 0h2m13 0h2m-100 1h3m2 0h2m2 0h2m0 0h5m5 0h4m39 0h7m0 0h3m0 0h2m2 0h2m2 0h2m2 0h2m-99 1h2m16 0h2m1 0h3m2 0h3m0 0h2m0 0h5m36 0h10m0 0h2m1 0h4m0 0h2m0 0h2m10 0h2m-89 1h2m5 0h4m1 0h4m0 0h2m1 0h3m32 0h2m1 0h7m2 0h2m6 0h3m15 0h2m-94 1h2m9 0h2m0 0h3m0 0h2m1 0h4m28 0h8m2 0h3m0 0h4m5 0h2m-89 1h2m14 0h2m0 0h2m0 0h2m1 0h2m1 0h7m0 0h6m22 0h3m0 0h3m0 0h2m0 0h2m1 0h2m1 0h4m0 0h5m12 0h2m-87 1h2m4 0h2m0 0h2m1 0h11m1 0h2m2 0h2m21 0h8m0 0h2m1 0h4m2 0h2m0 0h5m3 0h2m0 0h2m-71 1h4m2 0h4m1 0h12m2 0h2m3 0h2m0 0h3m1 0h6m0 0h5m1 0h3m0 0h3m7 0h2m-66 1h2m1 0h4m0 0h2m0 0h2m0 0h3m2 0h23m0 0h17m1 0h2m1 0h2m8 0h2m-88 1h2m10 0h2m7 0h4m1 0h5m1 0h2m0 0h4m1 0h8m0 0h3m2 0h3m0 0h4m0 0h3m0 0h2m2 0h2m3 0h4m3 0h3m10 0h2m-98 1h2m9 0h2m10 0h8m2 0h6m0 0h5m1 0h6m0 0h5m1 0h2m1 0h3m1 0h2m2 0h2m1 0h2m0 0h3m-68 1h2m2 0h2m2 0h2m1 0h3m4 0h2m1 0h2m1 0h2m2 0h2m1 0h2m1 0h3m1 0h4m1 0h12m0 0h2m1 0h3m0 0h6m12 0h2m5 0h2m-77 1h2m4 0h2m6 0h2m0 0h5m0 0h8m1 0h3m1 0h2m2 0h5m0 0h2m2 0h3m0 0h2m0 0h2m0 0h2m0 0h2m-80 1h2m25 0h2m0 0h2m2 0h7m0 0h3m0 0h2m0 0h5m0 0h2m0 0h2m0 0h2m0 0h2m0 0h4m1 0h2m1 0h3m0 0h5m3 0h2m2 0h2m0 0h2m-61 1h2m0 0h2m2 0h2m1 0h2m0 0h2m9 0h5m3 0h3m0 0h2m4 0h4m0 0h3m-57 1h2m14 0h3m1 0h3m1 0h3m2 0h2m5 0h2m0 0h2m1 0h2m2 0h4m2 0h2m2 0h4m0 0h2m16 0h2m-89 1h2m12 0h2m5 0h2m2 0h2m1 0h2m7 0h5m2 0h2m1 0h2m2 0h2m2 0h2m0 0h3m0 0h3m1 0h5m5 0h2m0 0h2m4 0h2m2 0h2m2 0h2m-76 1h2m3 0h3m3 0h4m0 0h2m2 0h5m1 0h3m0 0h2m2 0h2m0 0h2m1 0h3m9 0h3m1 0h3m3 0h2m2 0h2m-77 1h2m12 0h2m1 0h2m1 0h3m0 0h2m8 0h3m1 0h3m3 0h2m0 0h2m0 0h2m5 0h2m15 0h2m2 0h2m-76 1h2m2 0h2m16 0h2m7 0h3m2 0h2m1 0h2m0 0h2m0 0h6m10 0h2m1 0h2m1 0h2m-53 1h2m8 0h2m2 0h2m0 0h3m3 0h2m2 0h5m9 0h2m3 0h2m2 0h2m-76 1h2m12 0h2m25 0h2m3 0h3m0 0h6m1 0h2m2 0h2m1 0h2m-39 1h2m9 0h2m0 0h2m6 0h2m3 0h4m3 0h2m1 0h5m1 0h2m16 0h2m-64 1h2m4 0h2m11 0h2m1 0h2m0 0h3m8 0h2m17 0h2m3 0h2m-63 1h2m6 0h2m3 0h2m22 0h2m11 0h2m3 0h2m-55 1h2m4 0h2m4 0h2m16 0h2m5 0h2m15 0h2m-68 1h2m18 0h2m1 0h2m12 0h2m-16 1h2m1 0h2m18 0h2m13 0h2m-50 1h2m21 0h3m9 0h3m-55 1h2m20 0h2m11 0h2m14 0h2m2 0h2m0 0h2m-66 1h2m40 0h2m3 0h2m0 0h2m6 0h2m6 0h2m-60 1h2m56 0h2m5 0h2m-34 1h2m33 0h2m-40 1h2m34 0h2m-49 1h2m7 0h2m28 0h2m-9 1h2m-39 1h2m4 0h2m12 2h2m14 0h2m-28 4h2" stroke="#00f000" stroke-width="2" fill="none"/><path transform="scale(.5)" d="M1029 181h2m-31 14h2m80 5h2m-22 1h2m-13 4h2m18 0h2m-18 3h2m15 0h2m-25 1h2m16 4h2m-78 2h2m89 1h2m-72 8h2m51 2h2m7 0h2m-31 2h2m-60 2h2m41 0h2m9 0h2m0 0h2m13 1h2m-31 1h2m9 0h2m-18 2h2m24 0h2m4 1h2m-11 2h2m-74 4h2m46 0h2m32 0h2m-87 1h2m57 0h2m14 0h2m29 1h2m-51 2h2m-50 1h2m17 0h2m6 1h2m-12 1h2m-49 1h2m35 1h2m43 0h2m-8 1h2m-16 1h2m-9 1h2m2 0h2m12 0h2m-24 1h2m9 0h2m-51 1h2m51 0h2m1 0h2m10 0h2m62 0h2m-103 1h2m54 1h2m-13 2h2m28 0h2m-81 1h2m14 0h2m-11 1h2m21 0h2m-38 1h2m19 0h2m-9 1h2m-20 1h2m28 0h2m-18 1h2m43 0h2m-63 3h2m27 2h2m9 0h2m-29 1h2m27 0h2m-54 1h2m24 0h2m14 0h2m-20 1h2m16 0h2m32 0h2m-63 1h2m8 0h2m1 0h2m-42 2h2m11 0h2m0 1h2m0 1h2m31 3h2m-32 1h2m36 1h2m-11 1h2m-18 2h2m42 0h2m-1 1h2m-64 2h2m-10 1h2m43 3h2m44 0h2m-7 2h2m-86 1h2m90 1h2m-66 2h2m-49 1h2m9 0h2m33 2h2m-27 4h2m38 1h2m-16 3h2m-11 4h2m17 0h2m-20 2h2m-31 1h2m64 4h2m-94 1h2m57 0h2m23 6h2m-35 4h2m20 3h2m-47 3h2m-6 4h2" stroke="#00f000" stroke-width="2" fill="none"/><rect x="420.5" y="18.5" width="162" height="159" fill="none" stroke="#404040" stroke-width="1"/><line x1="498.5" y1="18.5" x2="498.5" y2="177.5" stroke="#404040" stroke-width="1"/><line x1="420.5" y1="123.5" x2="582.5" y2="123.5" stroke="#404040" stroke-width="1"/><text x="489.5" y="16" font-size="7.9" text-anchor="middle" fill="#3f3f3f" font-weight="normal">CD8- T cell</text><text x="501" y="200" font-size="8.0" text-anchor="middle" fill="#3f3f3f" font-weight="normal">TH Brilliant Violet 421-A</text><text x="404.5" y="97" font-size="8.1" text-anchor="middle" fill="#3f3f3f" font-weight="normal" transform="rotate(-90 404.5 97)">DAT APC-A</text><line x1="420" y1="177.5" x2="420" y2="183.5" stroke="#404040" stroke-width="1"/><line x1="420" y1="177.5" x2="420" y2="180.9" stroke="#4a4a4a" stroke-width="0.85"/><line x1="421.5" y1="177.5" x2="421.5" y2="180.9" stroke="#4a4a4a" stroke-width="0.85"/><line x1="423" y1="177.5" x2="423" y2="180.9" stroke="#4a4a4a" stroke-width="0.85"/><line x1="424.5" y1="177.5" x2="424.5" y2="180.9" stroke="#4a4a4a" stroke-width="0.85"/><line x1="426" y1="177.5" x2="426" y2="180.9" stroke="#4a4a4a" stroke-width="0.85"/><line x1="427.5" y1="177.5" x2="427.5" y2="180.9" stroke="#4a4a4a" stroke-width="0.85"/><line x1="429" y1="177.5" x2="429" y2="180.9" stroke="#4a4a4a" stroke-width="0.85"/><line x1="430.5" y1="177.5" x2="430.5" y2="180.9" stroke="#4a4a4a" stroke-width="0.85"/><line x1="432" y1="177.5" x2="432" y2="180.9" stroke="#4a4a4a" stroke-width="0.85"/><line x1="433.5" y1="177.5" x2="433.5" y2="180.9" stroke="#4a4a4a" stroke-width="0.85"/><line x1="435" y1="177.5" x2="435" y2="180.9" stroke="#4a4a4a" stroke-width="0.85"/><line x1="436.5" y1="177.5" x2="436.5" y2="180.9" stroke="#4a4a4a" stroke-width="0.85"/><line x1="438" y1="177.5" x2="438" y2="180.9" stroke="#4a4a4a" stroke-width="0.85"/><line x1="439.5" y1="177.5" x2="439.5" y2="180.9" stroke="#4a4a4a" stroke-width="0.85"/><line x1="441" y1="177.5" x2="441" y2="180.9" stroke="#4a4a4a" stroke-width="0.85"/><line x1="442.5" y1="177.5" x2="442.5" y2="180.9" stroke="#4a4a4a" stroke-width="0.85"/><line x1="444" y1="177.5" x2="444" y2="180.9" stroke="#4a4a4a" stroke-width="0.85"/><line x1="445.5" y1="177.5" x2="445.5" y2="180.9" stroke="#4a4a4a" stroke-width="0.85"/><line x1="447" y1="177.5" x2="447" y2="180.9" stroke="#4a4a4a" stroke-width="0.85"/><line x1="448.5" y1="177.5" x2="448.5" y2="180.9" stroke="#4a4a4a" stroke-width="0.85"/><line x1="450" y1="177.5" x2="450" y2="180.9" stroke="#4a4a4a" stroke-width="0.85"/><line x1="451.5" y1="177.5" x2="451.5" y2="180.9" stroke="#4a4a4a" stroke-width="0.85"/><line x1="453" y1="177.5" x2="453" y2="180.9" stroke="#4a4a4a" stroke-width="0.85"/><line x1="420" y1="177.5" x2="420" y2="183.3" stroke="#404040" stroke-width="1"/><line x1="439.7" y1="177.5" x2="439.7" y2="183.3" stroke="#404040" stroke-width="1"/><line x1="453.3" y1="177.5" x2="453.3" y2="183.3" stroke="#404040" stroke-width="1"/><line x1="465.1" y1="177.5" x2="465.1" y2="180.9" stroke="#404040" stroke-width="0.9"/><line x1="472.1" y1="177.5" x2="472.1" y2="180.9" stroke="#404040" stroke-width="0.9"/><line x1="477" y1="177.5" x2="477" y2="180.9" stroke="#404040" stroke-width="0.9"/><line x1="480.8" y1="177.5" x2="480.8" y2="180.9" stroke="#404040" stroke-width="0.9"/><line x1="483.9" y1="177.5" x2="483.9" y2="180.9" stroke="#404040" stroke-width="0.9"/><line x1="486.5" y1="177.5" x2="486.5" y2="180.9" stroke="#404040" stroke-width="0.9"/><line x1="488.8" y1="177.5" x2="488.8" y2="180.9" stroke="#404040" stroke-width="0.9"/><line x1="490.8" y1="177.5" x2="490.8" y2="180.9" stroke="#404040" stroke-width="0.9"/><line x1="492.6" y1="177.5" x2="492.6" y2="183.3" stroke="#404040" stroke-width="1"/><line x1="503.7" y1="177.5" x2="503.7" y2="180.9" stroke="#404040" stroke-width="0.9"/><line x1="510.2" y1="177.5" x2="510.2" y2="180.9" stroke="#404040" stroke-width="0.9"/><line x1="514.8" y1="177.5" x2="514.8" y2="180.9" stroke="#404040" stroke-width="0.9"/><line x1="518.4" y1="177.5" x2="518.4" y2="180.9" stroke="#404040" stroke-width="0.9"/><line x1="521.3" y1="177.5" x2="521.3" y2="180.9" stroke="#404040" stroke-width="0.9"/><line x1="523.8" y1="177.5" x2="523.8" y2="180.9" stroke="#404040" stroke-width="0.9"/><line x1="525.9" y1="177.5" x2="525.9" y2="180.9" stroke="#404040" stroke-width="0.9"/><line x1="527.8" y1="177.5" x2="527.8" y2="180.9" stroke="#404040" stroke-width="0.9"/><line x1="529.5" y1="177.5" x2="529.5" y2="183.3" stroke="#404040" stroke-width="1"/><line x1="540.5" y1="177.5" x2="540.5" y2="180.9" stroke="#404040" stroke-width="0.9"/><line x1="546.9" y1="177.5" x2="546.9" y2="180.9" stroke="#404040" stroke-width="0.9"/><line x1="551.5" y1="177.5" x2="551.5" y2="180.9" stroke="#404040" stroke-width="0.9"/><line x1="555" y1="177.5" x2="555" y2="180.9" stroke="#404040" stroke-width="0.9"/><line x1="557.9" y1="177.5" x2="557.9" y2="180.9" stroke="#404040" stroke-width="0.9"/><line x1="560.3" y1="177.5" x2="560.3" y2="180.9" stroke="#404040" stroke-width="0.9"/><line x1="562.5" y1="177.5" x2="562.5" y2="180.9" stroke="#404040" stroke-width="0.9"/><line x1="564.3" y1="177.5" x2="564.3" y2="180.9" stroke="#404040" stroke-width="0.9"/><line x1="566" y1="177.5" x2="566" y2="183.3" stroke="#404040" stroke-width="1"/><line x1="577" y1="177.5" x2="577" y2="180.9" stroke="#404040" stroke-width="0.9"/><line x1="420.5" y1="177.3" x2="415.5" y2="177.3" stroke="#404040" stroke-width="1"/><line x1="420.5" y1="141.6" x2="418.1" y2="141.6" stroke="#4a4a4a" stroke-width="0.85"/><line x1="420.5" y1="143.1" x2="418.1" y2="143.1" stroke="#4a4a4a" stroke-width="0.85"/><line x1="420.5" y1="144.6" x2="418.1" y2="144.6" stroke="#4a4a4a" stroke-width="0.85"/><line x1="420.5" y1="146.1" x2="418.1" y2="146.1" stroke="#4a4a4a" stroke-width="0.85"/><line x1="420.5" y1="147.6" x2="418.1" y2="147.6" stroke="#4a4a4a" stroke-width="0.85"/><line x1="420.5" y1="149.1" x2="418.1" y2="149.1" stroke="#4a4a4a" stroke-width="0.85"/><line x1="420.5" y1="150.6" x2="418.1" y2="150.6" stroke="#4a4a4a" stroke-width="0.85"/><line x1="420.5" y1="152.1" x2="418.1" y2="152.1" stroke="#4a4a4a" stroke-width="0.85"/><line x1="420.5" y1="153.6" x2="418.1" y2="153.6" stroke="#4a4a4a" stroke-width="0.85"/><line x1="420.5" y1="155.1" x2="418.1" y2="155.1" stroke="#4a4a4a" stroke-width="0.85"/><line x1="420.5" y1="156.6" x2="418.1" y2="156.6" stroke="#4a4a4a" stroke-width="0.85"/><line x1="420.5" y1="158.1" x2="418.1" y2="158.1" stroke="#4a4a4a" stroke-width="0.85"/><line x1="420.5" y1="159.6" x2="418.1" y2="159.6" stroke="#4a4a4a" stroke-width="0.85"/><line x1="420.5" y1="161.1" x2="418.1" y2="161.1" stroke="#4a4a4a" stroke-width="0.85"/><line x1="420.5" y1="162.6" x2="418.1" y2="162.6" stroke="#4a4a4a" stroke-width="0.85"/><line x1="420.5" y1="164.1" x2="418.1" y2="164.1" stroke="#4a4a4a" stroke-width="0.85"/><line x1="420.5" y1="165.6" x2="418.1" y2="165.6" stroke="#4a4a4a" stroke-width="0.85"/><line x1="420.5" y1="167.1" x2="418.1" y2="167.1" stroke="#4a4a4a" stroke-width="0.85"/><line x1="420.5" y1="168.6" x2="418.1" y2="168.6" stroke="#4a4a4a" stroke-width="0.85"/><line x1="420.5" y1="170.1" x2="418.1" y2="170.1" stroke="#4a4a4a" stroke-width="0.85"/><line x1="420.5" y1="171.6" x2="418.1" y2="171.6" stroke="#4a4a4a" stroke-width="0.85"/><line x1="420.5" y1="173.1" x2="418.1" y2="173.1" stroke="#4a4a4a" stroke-width="0.85"/><line x1="420.5" y1="174.6" x2="418.1" y2="174.6" stroke="#4a4a4a" stroke-width="0.85"/><line x1="420.5" y1="176.1" x2="418.1" y2="176.1" stroke="#4a4a4a" stroke-width="0.85"/><line x1="420.5" y1="177.6" x2="418.1" y2="177.6" stroke="#4a4a4a" stroke-width="0.85"/><line x1="420.5" y1="178.1" x2="415.9" y2="178.1" stroke="#404040" stroke-width="1"/><line x1="420.5" y1="159.4" x2="415.9" y2="159.4" stroke="#404040" stroke-width="1"/><line x1="420.5" y1="141.6" x2="415.9" y2="141.6" stroke="#404040" stroke-width="1"/><line x1="420.5" y1="130.5" x2="418.4" y2="130.5" stroke="#404040" stroke-width="0.9"/><line x1="420.5" y1="123.9" x2="418.4" y2="123.9" stroke="#404040" stroke-width="0.9"/><line x1="420.5" y1="119.3" x2="418.4" y2="119.3" stroke="#404040" stroke-width="0.9"/><line x1="420.5" y1="115.7" x2="418.4" y2="115.7" stroke="#404040" stroke-width="0.9"/><line x1="420.5" y1="112.8" x2="418.4" y2="112.8" stroke="#404040" stroke-width="0.9"/><line x1="420.5" y1="110.3" x2="418.4" y2="110.3" stroke="#404040" stroke-width="0.9"/><line x1="420.5" y1="108.2" x2="418.4" y2="108.2" stroke="#404040" stroke-width="0.9"/><line x1="420.5" y1="106.3" x2="418.4" y2="106.3" stroke="#404040" stroke-width="0.9"/><line x1="420.5" y1="104.6" x2="415.9" y2="104.6" stroke="#404040" stroke-width="1"/><line x1="420.5" y1="93.7" x2="418.4" y2="93.7" stroke="#404040" stroke-width="0.9"/><line x1="420.5" y1="87.3" x2="418.4" y2="87.3" stroke="#404040" stroke-width="0.9"/><line x1="420.5" y1="82.8" x2="418.4" y2="82.8" stroke="#404040" stroke-width="0.9"/><line x1="420.5" y1="79.3" x2="418.4" y2="79.3" stroke="#404040" stroke-width="0.9"/><line x1="420.5" y1="76.4" x2="418.4" y2="76.4" stroke="#404040" stroke-width="0.9"/><line x1="420.5" y1="74" x2="418.4" y2="74" stroke="#404040" stroke-width="0.9"/><line x1="420.5" y1="71.9" x2="418.4" y2="71.9" stroke="#404040" stroke-width="0.9"/><line x1="420.5" y1="70.1" x2="418.4" y2="70.1" stroke="#404040" stroke-width="0.9"/><line x1="420.5" y1="68.4" x2="415.9" y2="68.4" stroke="#404040" stroke-width="1"/><line x1="420.5" y1="57.7" x2="418.4" y2="57.7" stroke="#404040" stroke-width="0.9"/><line x1="420.5" y1="51.5" x2="418.4" y2="51.5" stroke="#404040" stroke-width="0.9"/><line x1="420.5" y1="47.1" x2="418.4" y2="47.1" stroke="#404040" stroke-width="0.9"/><line x1="420.5" y1="43.7" x2="418.4" y2="43.7" stroke="#404040" stroke-width="0.9"/><line x1="420.5" y1="40.9" x2="418.4" y2="40.9" stroke="#404040" stroke-width="0.9"/><line x1="420.5" y1="38.5" x2="418.4" y2="38.5" stroke="#404040" stroke-width="0.9"/><line x1="420.5" y1="36.4" x2="418.4" y2="36.4" stroke="#404040" stroke-width="0.9"/><line x1="420.5" y1="34.6" x2="418.4" y2="34.6" stroke="#404040" stroke-width="0.9"/><line x1="420.5" y1="33" x2="415.9" y2="33" stroke="#404040" stroke-width="1"/><line x1="420.5" y1="22.3" x2="418.4" y2="22.3" stroke="#404040" stroke-width="0.9"/><text x="417.5" y="194" font-size="6.3" text-anchor="middle" fill="#3f3f3f" font-weight="normal">-157</text><text x="439.7" y="190" font-size="6.3" text-anchor="middle" fill="#3f3f3f" font-weight="normal">0</text><text x="452.8" y="191" font-size="6.4" text-anchor="middle" fill="#333" font-weight="bold">10<tspan dy="-3.1" font-size="5.632000000000001">2</tspan></text><text x="492.1" y="191" font-size="6.4" text-anchor="middle" fill="#333" font-weight="bold">10<tspan dy="-3.1" font-size="5.632000000000001">3</tspan></text><text x="529" y="191" font-size="6.4" text-anchor="middle" fill="#333" font-weight="bold">10<tspan dy="-3.1" font-size="5.632000000000001">4</tspan></text><text x="565.5" y="191" font-size="6.4" text-anchor="middle" fill="#333" font-weight="bold">10<tspan dy="-3.1" font-size="5.632000000000001">5</tspan></text><text x="410" y="179.9" font-size="6.3" text-anchor="start" fill="#3f3f3f" font-weight="normal" transform="rotate(-90 410 179.9)">-105</text><text x="415.9" y="159.4" font-size="6.3" text-anchor="middle" fill="#3f3f3f" font-weight="normal" transform="rotate(-90 415.9 159.4)">0</text><text x="416.1" y="142.1" font-size="6.4" text-anchor="middle" fill="#333" font-weight="bold" transform="rotate(-90 416.1 142.1)">10<tspan dy="-3.1" font-size="5.632000000000001">2</tspan></text><text x="416.1" y="105.1" font-size="6.4" text-anchor="middle" fill="#333" font-weight="bold" transform="rotate(-90 416.1 105.1)">10<tspan dy="-3.1" font-size="5.632000000000001">3</tspan></text><text x="416.1" y="68.9" font-size="6.4" text-anchor="middle" fill="#333" font-weight="bold" transform="rotate(-90 416.1 68.9)">10<tspan dy="-3.1" font-size="5.632000000000001">4</tspan></text><text x="416.1" y="33.5" font-size="6.4" text-anchor="middle" fill="#333" font-weight="bold" transform="rotate(-90 416.1 33.5)">10<tspan dy="-3.1" font-size="5.632000000000001">5</tspan></text><text x="427" y="32" font-size="7.5" text-anchor="start" fill="#4d4d4d" font-weight="normal">Q1</text><text x="576" y="32" font-size="7.5" text-anchor="end" fill="#4d4d4d" font-weight="normal">Q2</text><text x="428.8" y="70.5" font-size="7.85" text-anchor="start" fill="#1e1e1e" font-weight="normal">1.2%</text><text x="428.8" y="81" font-size="7.85" text-anchor="start" fill="#1e1e1e" font-weight="normal">Only DAT+</text><text x="528.5" y="70.5" font-size="7.85" text-anchor="start" fill="#1e1e1e" font-weight="normal">11.2%</text><text x="528.5" y="81" font-size="7.85" text-anchor="start" fill="#1e1e1e" font-weight="normal">TH+ DAT+</text><text x="425.7" y="143.8" font-size="7.85" text-anchor="start" fill="#1e1e1e" font-weight="normal">38%</text><text x="425.7" y="154.8" font-size="7.85" text-anchor="start" fill="#1e1e1e" font-weight="normal">TH- DAT-</text><text x="533.6" y="143.8" font-size="7.85" text-anchor="start" fill="#1e1e1e" font-weight="normal">49.2%</text><text x="533.6" y="154.8" font-size="7.85" text-anchor="start" fill="#1e1e1e" font-weight="normal">Only TH+</text><text x="427" y="170.5" font-size="7.5" text-anchor="start" fill="#4d4d4d" font-weight="normal">Q3</text><text x="576" y="171.5" font-size="7.5" text-anchor="end" fill="#4d4d4d" font-weight="normal">Q4</text><ellipse cx="692.3" cy="137.6" rx="13" ry="7.4" fill="#fa0000" transform="rotate(-45 692.3 137.6)"/><ellipse cx="698" cy="130" rx="8" ry="5.2" fill="#fa0000" transform="rotate(-40 698 130)"/><path transform="scale(.5)" d="M1390 214h2m31 11h2m-14 1h2m-5 3h2m-11 1h2m0 0h2m4 0h2m-5 1h2m6 0h2m0 0h2m2 0h2m-27 1h2m11 0h2m26 0h2m-46 1h2m4 0h2m1 0h2m4 0h2m11 0h2m8 0h2m-34 1h2m9 0h2m9 0h2m-32 1h2m7 0h2m11 0h2m1 0h2m3 0h2m-31 1h2m12 0h2m1 0h2m6 0h2m2 0h2m1 0h2m7 0h2m-41 1h2m8 0h2m11 0h2m3 0h2m1 0h2m3 0h2m-34 1h3m4 0h2m4 0h2m3 0h3m1 0h2m0 0h2m3 0h2m-64 1h2m22 0h2m5 0h2m3 0h3m4 0h3m-17 1h2m3 0h2m4 0h2m3 0h2m0 0h6m1 0h3m0 0h2m12 0h2m-55 1h2m0 0h2m9 0h3m5 0h2m2 0h2m1 0h2m0 0h4m2 0h2m1 0h2m2 0h2m-41 1h2m2 0h2m1 0h4m1 0h3m2 0h3m6 0h3m-26 1h2m2 0h2m1 0h6m2 0h2m2 0h3m1 0h2m8 0h2m0 0h3m5 0h2m-53 1h2m6 0h4m1 0h3m3 0h3m1 0h5m1 0h3m2 0h3m3 0h2m-44 1h2m1 0h3m1 0h3m4 0h2m1 0h2m1 0h5m0 0h4m0 0h3m3 0h2m0 0h2m1 0h2m3 0h2m1 0h2m0 0h2m-54 1h2m3 0h5m0 0h2m0 0h3m0 0h2m0 0h6m1 0h4m0 0h4m0 0h3m6 0h3m0 0h2m1 0h2m0 0h2m3 0h2m-59 1h2m1 0h2m3 0h2m0 0h2m2 0h4m5 0h2m0 0h4m0 0h3m1 0h3m1 0h2m0 0h6m0 0h4m0 0h2m4 0h2m-60 1h2m9 0h2m2 0h2m5 0h5m0 0h6m0 0h7m0 0h3m0 0h4m4 0h3m1 0h2m-56 1h2m1 0h3m3 0h2m3 0h2m0 0h3m2 0h2m0 0h9m0 0h2m3 0h4m0 0h2m2 0h5m1 0h2m-52 1h2m0 0h2m1 0h6m1 0h2m0 0h6m0 0h3m0 0h3m0 0h2m1 0h2m0 0h11m0 0h2m3 0h2m-51 1h2m2 0h2m1 0h2m2 0h3m0 0h2m1 0h9m1 0h3m0 0h7m0 0h2m0 0h8m2 0h2m3 0h2m1 0h2m-61 1h2m6 0h2m1 0h2m1 0h4m0 0h4m0 0h2m0 0h4m0 0h14m0 0h2m0 0h6m1 0h2m7 0h2m-64 1h3m0 0h2m5 0h3m0 0h3m0 0h2m4 0h5m0 0h11m0 0h2m0 0h3m3 0h4m6 0h2m-58 1h2m0 0h3m1 0h2m8 0h15m2 0h10m0 0h2m0 0h5m11 0h2m0 0h2m-55 1h2m0 0h3m1 0h11m10 0h7m0 0h4m0 0h2m0 0h2m1 0h2m-52 1h2m0 0h2m0 0h5m1 0h2m0 0h3m0 0h7m14 0h2m0 0h6m0 0h3m1 0h2m0 0h3m4 0h2m-63 1h2m3 0h2m1 0h2m2 0h3m0 0h9m17 0h6m2 0h2m0 0h3m0 0h2m0 0h2m-61 1h3m2 0h2m1 0h2m0 0h4m0 0h2m1 0h2m0 0h4m1 0h2m18 0h7m0 0h2m0 0h2m0 0h2m5 0h2m7 0h2m-72 1h2m3 0h2m4 0h2m0 0h4m0 0h5m22 0h3m1 0h3m0 0h3m0 0h4m-48 1h2m1 0h8m23 0h3m0 0h3m1 0h7m-61 1h2m0 0h3m3 0h2m0 0h5m0 0h7m25 0h2m0 0h2m0 0h6m0 0h8m8 0h2m-70 1h2m0 0h3m0 0h3m0 0h4m0 0h4m27 0h2m0 0h7m2 0h3m7 0h2m-67 1h3m0 0h4m1 0h7m29 0h5m0 0h5m0 0h3m0 0h2m-58 1h3m1 0h2m1 0h2m0 0h4m30 0h11m1 0h2m11 0h2m-72 1h2m2 0h5m0 0h7m29 0h3m3 0h5m1 0h4m0 0h3m-75 1h2m9 0h3m0 0h2m1 0h2m1 0h5m31 0h5m0 0h2m1 0h3m4 0h3m5 0h2m-67 1h5m0 0h2m0 0h2m33 0h11m-61 1h2m2 0h6m0 0h8m31 0h3m0 0h4m1 0h4m0 0h3m5 0h2m-82 1h2m10 0h2m0 0h3m1 0h2m2 0h2m0 0h3m33 0h2m0 0h3m0 0h5m0 0h2m1 0h2m0 0h2m0 0h2m0 0h2m-75 1h3m0 0h2m1 0h2m2 0h2m0 0h6m0 0h3m33 0h6m1 0h3m1 0h2m3 0h2m-61 1h2m0 0h4m0 0h3m33 0h6m0 0h2m0 0h4m5 0h3m-67 1h3m1 0h3m0 0h7m34 0h5m0 0h3m2 0h3m3 0h2m-77 1h2m13 0h3m0 0h3m0 0h3m34 0h5m1 0h2m1 0h3m1 0h2m0 0h2m2 0h3m-76 1h2m2 0h2m1 0h8m0 0h4m34 0h7m0 0h2m1 0h2m1 0h2m2 0h2m-79 1h2m0 0h3m4 0h3m1 0h3m2 0h4m0 0h4m34 0h6m0 0h2m1 0h2m0 0h2m3 0h2m-74 1h2m8 0h2m0 0h7m0 0h3m33 0h3m0 0h3m1 0h2m2 0h2m-68 1h2m5 0h2m0 0h3m2 0h3m0 0h3m34 0h4m0 0h4m0 0h3m4 0h3m-67 1h2m0 0h2m7 0h4m34 0h6m0 0h3m0 0h2m1 0h2m1 0h2m-73 1h2m8 0h4m0 0h2m0 0h6m33 0h4m0 0h4m0 0h2m1 0h3m0 0h2m3 0h2m0 0h2m-72 1h2m0 0h2m1 0h2m0 0h5m1 0h3m32 0h3m0 0h7m0 0h2m5 0h2m9 0h2m-79 1h2m0 0h2m0 0h2m2 0h2m1 0h5m34 0h8m1 0h2m2 0h2m-84 1h2m19 0h2m4 0h2m1 0h5m31 0h9m1 0h2m0 0h2m-70 1h2m3 0h2m2 0h2m1 0h3m1 0h8m32 0h2m0 0h4m3 0h2m0 0h2m0 0h3m2 0h2m1 0h2m-80 1h2m6 0h2m2 0h8m0 0h5m31 0h4m0 0h4m1 0h2m0 0h2m0 0h2m2 0h2m-65 1h2m0 0h2m3 0h2m2 0h4m30 0h3m0 0h4m0 0h2m4 0h2m-63 1h2m0 0h2m3 0h3m1 0h3m0 0h2m0 0h2m28 0h6m0 0h3m2 0h3m1 0h2m-69 1h3m4 0h2m1 0h2m1 0h2m0 0h2m1 0h5m0 0h2m26 0h6m0 0h6m0 0h3m2 0h2m-68 1h2m4 0h2m2 0h4m0 0h3m1 0h6m24 0h5m1 0h7m1 0h2m0 0h2m-61 1h2m0 0h4m1 0h4m0 0h6m0 0h2m23 0h5m0 0h2m0 0h2m8 0h2m-62 1h3m0 0h2m0 0h2m1 0h3m0 0h2m0 0h3m0 0h2m0 0h2m21 0h15m2 0h4m2 0h3m3 0h2m-70 1h2m2 0h2m1 0h3m2 0h4m0 0h3m18 0h4m0 0h2m1 0h10m1 0h4m0 0h2m3 0h2m-61 1h4m1 0h7m1 0h2m16 0h5m0 0h3m0 0h3m2 0h3m1 0h2m10 0h3m-72 1h2m2 0h2m4 0h3m0 0h3m0 0h8m15 0h6m0 0h2m0 0h3m0 0h4m0 0h2m1 0h2m-60 1h2m8 0h7m0 0h5m0 0h2m0 0h3m8 0h6m0 0h5m3 0h3m1 0h3m2 0h3m2 0h2m-71 1h2m0 0h2m6 0h2m6 0h2m0 0h2m1 0h6m0 0h8m0 0h9m2 0h4m0 0h2m1 0h2m0 0h2m1 0h2m1 0h2m1 0h2m2 0h2m-60 1h2m0 0h2m1 0h2m1 0h5m1 0h6m0 0h18m0 0h2m2 0h3m1 0h3m2 0h2m-53 1h2m5 0h3m0 0h8m0 0h2m0 0h2m0 0h8m0 0h3m0 0h4m0 0h4m0 0h3m2 0h2m7 0h2m7 0h2m-87 1h2m6 0h2m5 0h2m1 0h2m4 0h2m1 0h3m2 0h3m0 0h2m0 0h3m0 0h2m0 0h8m0 0h7m2 0h2m0 0h3m3 0h2m-56 1h2m8 0h5m1 0h2m0 0h3m0 0h2m0 0h2m0 0h2m0 0h2m1 0h4m0 0h2m0 0h4m0 0h2m0 0h2m0 0h3m1 0h3m5 0h2m0 0h2m-59 1h2m3 0h2m5 0h3m1 0h3m0 0h3m0 0h2m0 0h4m0 0h4m0 0h8m0 0h2m0 0h2m7 0h2m0 0h2m2 0h2m0 0h2m-56 1h2m2 0h2m4 0h8m0 0h3m1 0h6m0 0h3m0 0h4m1 0h6m2 0h2m-42 1h2m0 0h2m5 0h6m0 0h8m0 0h5m0 0h3m0 0h3m0 0h2m4 0h3m15 0h2m-71 1h2m2 0h4m0 0h4m0 0h2m3 0h2m0 0h2m3 0h2m3 0h3m0 0h2m1 0h2m0 0h2m3 0h3m4 0h2m-55 1h2m12 0h2m0 0h2m0 0h4m0 0h3m3 0h4m1 0h2m0 0h2m0 0h6m1 0h2m1 0h2m3 0h2m-43 1h2m10 0h2m0 0h2m0 0h2m0 0h5m2 0h2m0 0h2m0 0h2m2 0h3m0 0h2m0 0h2m1 0h2m1 0h2m4 0h2m-46 1h6m0 0h2m0 0h2m0 0h2m1 0h3m5 0h2m4 0h2m0 0h2m-56 1h2m16 0h2m3 0h3m0 0h3m2 0h2m4 0h2m2 0h2m5 0h4m0 0h2m3 0h3m1 0h2m-45 1h2m3 0h3m6 0h2m0 0h2m5 0h2m0 0h3m1 0h2m2 0h2m5 0h2m-57 1h2m15 0h2m2 0h2m0 0h2m0 0h2m2 0h3m1 0h2m0 0h4m2 0h4m8 0h3m-46 1h2m2 0h3m3 0h2m1 0h2m0 0h2m1 0h2m2 0h2m0 0h2m1 0h2m15 0h2m1 0h2m16 0h2m-65 1h2m7 0h2m6 0h2m7 0h2m2 0h2m6 0h2m6 0h2m-64 1h2m20 0h2m1 0h2m7 0h2m0 0h2m0 0h4m0 0h2m3 0h2m-46 1h2m19 0h2m5 0h2m21 0h2m-52 1h2m4 0h2m18 0h2m2 0h2m-12 1h2m13 0h2m3 0h2m8 0h2m-36 1h2m17 0h2m0 0h2m-27 1h2m22 0h2m13 0h2m-28 1h2m3 0h2m1 0h3m4 0h2m2 0h2m-26 1h2m7 0h2m11 0h2m-13 2h2m11 0h2m-27 1h2m8 0h2m-9 1h2m-3 2h2m7 0h2m-4 1h2m-5 3h2m11 4h2" stroke="#fa0000" stroke-width="2" fill="none"/><path transform="scale(.5)" d="M1438 191h2m-27 3h2m24 1h2m-3 1h2m-11 1h2m-25 2h2m34 1h2m-13 1h2m-24 1h2m16 2h2m0 0h2m3 0h2m-54 2h2m28 0h2m-15 1h2m26 0h2m19 0h2m-21 1h2m6 0h2m-34 1h2m8 0h3m7 0h2m17 0h2m-52 3h2m18 0h2m7 0h2m3 0h2m-19 1h2m2 0h2m2 0h2m4 0h2m2 0h2m-1 1h2m-14 1h2m1 0h3m7 0h2m4 0h2m0 0h2m7 0h2m-61 1h3m9 0h2m0 0h2m7 0h2m7 0h2m2 0h2m2 0h2m6 0h2m0 0h2m-51 1h2m15 0h2m21 0h2m-45 1h2m7 0h2m2 0h2m4 0h2m0 0h2m9 0h2m2 0h2m10 0h2m6 0h2m-52 1h2m29 0h2m3 0h2m17 0h2m1 0h2m-55 1h2m17 0h3m5 0h2m15 0h2m4 0h2m-63 1h2m14 0h2m8 0h2m24 0h2m-68 1h2m22 0h2m7 0h3m10 0h2m3 0h3m4 0h2m11 0h2m-49 1h2m9 0h2m1 0h2m1 0h2m2 0h4m2 0h2m4 0h3m18 0h2m-60 1h3m2 0h2m2 0h2m5 0h2m1 0h3m1 0h2m4 0h2m3 0h2m14 0h3m17 0h2m-62 1h2m5 0h2m0 0h2m6 0h2m2 0h2m1 0h2m1 0h3m-46 1h3m11 0h2m0 0h3m12 0h3m0 0h2m7 0h2m5 0h2m1 0h2m-56 1h2m3 0h2m23 0h2m0 0h2m0 0h2m0 0h3m6 0h4m0 0h2m0 0h2m3 0h2m-72 1h2m3 0h2m2 0h2m5 0h2m2 0h2m2 0h2m2 0h2m0 0h2m1 0h2m2 0h3m1 0h2m2 0h2m2 0h3m1 0h2m3 0h2m9 0h2m-68 1h2m4 0h2m5 0h2m2 0h2m0 0h2m6 0h2m2 0h3m1 0h2m0 0h2m0 0h2m0 0h2m2 0h3m4 0h2m2 0h3m3 0h2m6 0h2m-69 1h2m9 0h2m1 0h2m3 0h2m1 0h2m1 0h3m0 0h2m3 0h4m7 0h2m1 0h2m2 0h3m0 0h2m0 0h4m0 0h2m-54 1h2m19 0h2m2 0h4m0 0h2m1 0h3m1 0h2m7 0h2m4 0h2m15 0h2m-72 1h2m8 0h2m0 0h5m2 0h2m3 0h3m0 0h8m0 0h2m3 0h3m0 0h3m5 0h2m-78 1h2m20 0h2m3 0h2m3 0h2m0 0h2m7 0h3m0 0h3m1 0h2m0 0h2m0 0h2m1 0h2m1 0h2m2 0h2m1 0h2m3 0h2m10 0h2m3 0h2m11 0h2m-88 1h2m6 0h2m5 0h2m3 0h3m1 0h3m4 0h5m3 0h2m3 0h2m0 0h2m2 0h2m5 0h2m2 0h2m-66 1h2m8 0h2m1 0h2m6 0h3m1 0h4m3 0h3m1 0h3m3 0h2m0 0h2m5 0h2m1 0h2m0 0h2m2 0h3m4 0h2m8 0h2m-65 1h2m1 0h3m3 0h2m0 0h2m4 0h3m1 0h2m4 0h2m0 0h4m0 0h2m5 0h3m1 0h2m0 0h2m0 0h2m-53 1h4m1 0h3m4 0h3m2 0h3m1 0h2m0 0h3m0 0h2m0 0h2m0 0h2m1 0h4m0 0h3m1 0h2m8 0h2m0 0h2m5 0h2m-57 1h2m3 0h2m2 0h4m1 0h2m4 0h3m0 0h2m0 0h2m0 0h5m1 0h3m2 0h3m2 0h2m3 0h3m9 0h2m-72 1h2m14 0h2m2 0h2m0 0h7m3 0h2m2 0h3m3 0h3m2 0h2m0 0h2m0 0h2m0 0h2m1 0h4m16 0h2m-97 1h2m15 0h2m1 0h2m7 0h2m5 0h4m1 0h3m22 0h3m9 0h2m3 0h2m-59 1h2m1 0h3m0 0h2m0 0h2m4 0h5m15 0h2m0 0h2m3 0h3m0 0h2m0 0h3m0 0h2m0 0h2m3 0h2m1 0h2m-81 1h2m12 0h2m4 0h2m1 0h3m2 0h2m1 0h3m1 0h2m16 0h2m0 0h2m0 0h2m0 0h2m2 0h3m3 0h2m4 0h2m1 0h2m-80 1h2m6 0h2m0 0h2m1 0h2m2 0h2m5 0h2m1 0h2m4 0h2m22 0h2m3 0h3m0 0h3m3 0h2m8 0h2m-68 1h2m0 0h2m3 0h4m0 0h2m1 0h3m24 0h5m0 0h2m0 0h2m0 0h2m4 0h2m0 0h2m2 0h2m0 0h2m8 0h2m-83 1h2m0 0h2m0 0h2m4 0h2m1 0h2m2 0h2m0 0h3m0 0h4m21 0h3m5 0h2m0 0h2m3 0h2m-62 1h3m10 0h5m0 0h2m2 0h2m20 0h6m3 0h2m0 0h2m3 0h2m1 0h3m0 0h2m-72 1h2m0 0h2m5 0h3m4 0h3m5 0h2m24 0h3m1 0h2m2 0h2m16 0h2m15 0h2m-93 1h2m13 0h3m1 0h5m24 0h2m5 0h2m0 0h3m-62 1h2m1 0h2m15 0h4m26 0h3m1 0h2m0 0h2m0 0h2m-65 1h2m4 0h2m2 0h2m1 0h2m2 0h2m1 0h3m0 0h2m1 0h4m23 0h2m0 0h4m0 0h2m2 0h2m1 0h2m-82 1h2m20 0h3m1 0h2m1 0h3m2 0h3m3 0h2m25 0h5m3 0h3m3 0h2m1 0h2m2 0h2m0 0h2m1 0h2m-75 1h2m4 0h2m3 0h2m0 0h2m1 0h2m0 0h2m2 0h2m23 0h3m2 0h2m0 0h2m0 0h2m7 0h2m1 0h2m12 0h2m-86 1h3m0 0h2m2 0h3m1 0h2m0 0h6m0 0h4m0 0h2m23 0h2m1 0h3m0 0h3m8 0h2m-52 1h8m24 0h3m1 0h5m6 0h2m-64 1h2m4 0h2m3 0h2m0 0h3m0 0h2m0 0h2m1 0h3m24 0h3m0 0h3m0 0h2m0 0h2m0 0h3m6 0h2m-57 1h3m3 0h2m0 0h2m0 0h2m23 0h2m0 0h3m0 0h4m3 0h2m0 0h2m0 0h3m13 0h3m-89 1h2m13 0h2m1 0h2m1 0h3m0 0h3m0 0h2m1 0h2m22 0h2m0 0h3m1 0h2m13 0h2m-70 1h2m4 0h3m3 0h2m0 0h7m2 0h2m20 0h2m1 0h2m3 0h2m3 0h2m1 0h2m-54 1h2m2 0h3m0 0h2m2 0h3m1 0h2m16 0h3m0 0h3m2 0h4m3 0h2m1 0h2m-59 1h2m1 0h2m5 0h2m1 0h3m4 0h3m19 0h3m2 0h3m6 0h2m7 0h2m1 0h2m6 0h2m1 0h2m-78 1h2m0 0h2m0 0h7m4 0h4m0 0h2m12 0h2m1 0h3m0 0h2m0 0h2m0 0h2m1 0h2m4 0h2m0 0h2m3 0h2m-80 1h2m9 0h2m3 0h4m2 0h2m3 0h5m0 0h2m18 0h2m0 0h3m1 0h5m5 0h2m0 0h2m-55 1h2m1 0h2m3 0h6m1 0h4m1 0h2m0 0h2m8 0h2m0 0h5m0 0h2m0 0h2m3 0h2m1 0h4m9 0h2m8 0h2m-76 1h2m0 0h3m0 0h3m0 0h3m1 0h2m9 0h2m0 0h3m0 0h3m0 0h2m0 0h3m0 0h2m1 0h2m0 0h2m2 0h3m0 0h4m4 0h3m0 0h2m-71 1h2m11 0h4m0 0h2m2 0h2m1 0h2m1 0h2m0 0h2m0 0h2m0 0h4m1 0h2m4 0h3m0 0h2m0 0h2m0 0h2m1 0h2m0 0h3m1 0h3m7 0h2m3 0h2m-75 1h3m8 0h4m10 0h4m0 0h5m3 0h3m2 0h7m0 0h3m3 0h2m0 0h3m21 0h2m-71 1h2m6 0h2m1 0h2m2 0h5m0 0h2m0 0h2m1 0h2m2 0h3m6 0h4m0 0h2m0 0h3m0 0h2m10 0h2m-64 1h2m2 0h2m2 0h2m3 0h2m5 0h3m0 0h2m2 0h2m1 0h4m0 0h3m1 0h4m-38 1h2m8 0h2m1 0h3m0 0h2m0 0h3m1 0h2m1 0h2m2 0h2m0 0h2m11 0h5m0 0h2m-61 1h2m5 0h2m16 0h4m0 0h3m0 0h4m0 0h4m0 0h2m0 0h3m0 0h2m3 0h2m0 0h4m3 0h3m-63 1h2m10 0h2m2 0h2m12 0h3m0 0h2m2 0h2m1 0h2m4 0h2m0 0h2m3 0h2m4 0h2m4 0h2m0 0h2m0 0h2m-71 1h2m11 0h2m1 0h2m9 0h3m3 0h4m0 0h2m1 0h2m0 0h2m2 0h3m6 0h2m9 0h2m-78 1h2m17 0h2m6 0h2m5 0h2m2 0h4m0 0h2m1 0h3m3 0h3m0 0h2m0 0h2m2 0h2m5 0h2m5 0h2m3 0h2m3 0h2m-85 1h2m12 0h2m7 0h2m0 0h2m2 0h2m1 0h3m4 0h4m2 0h2m2 0h2m3 0h4m4 0h2m4 0h2m-62 1h2m1 0h2m6 0h2m0 0h2m4 0h2m0 0h2m3 0h2m2 0h2m2 0h2m0 0h2m0 0h2m2 0h2m22 0h2m-68 1h2m11 0h4m1 0h2m3 0h3m0 0h2m2 0h3m6 0h2m7 0h2m12 0h2m10 0h2m-67 1h2m1 0h2m11 0h2m13 0h2m0 0h2m1 0h2m32 0h2m1 0h2m-80 1h2m8 0h2m3 0h3m8 0h2m1 0h2m2 0h2m0 0h4m1 0h2m0 0h2m7 0h2m2 0h2m-56 1h2m2 0h2m6 0h2m17 0h2m2 0h3m5 0h2m3 0h2m11 0h2m-57 1h2m3 0h2m4 0h2m12 0h3m19 0h2m10 0h2m-81 1h2m4 0h2m12 0h2m2 0h3m4 0h2m9 0h3m4 0h2m14 0h2m2 0h2m-58 1h2m5 0h2m3 0h2m16 0h3m10 0h4m0 0h2m-43 1h2m26 0h2m1 0h2m-38 1h2m11 0h2m3 0h2m6 0h2m0 0h2m1 0h2m2 0h2m-5 1h2m6 0h3m3 0h2m-48 1h2m16 0h3m7 0h4m11 0h3m1 0h2m-42 1h3m5 0h2m4 0h2m10 0h2m0 0h2m0 0h2m0 0h2m3 0h2m-42 1h2m4 0h3m10 0h2m14 0h2m8 0h2m-36 1h2m5 0h2m4 0h2m0 0h2m5 0h2m-29 1h2m21 0h2m2 0h2m10 0h2m-27 1h2m2 0h2m0 0h2m3 0h2m22 0h2m-42 1h2m2 0h2m24 0h2m-44 1h2m8 0h2m3 0h3m5 0h2m6 0h2m-21 1h2m-7 3h2m2 0h2m-21 1h2m1 0h2m8 0h2m18 0h2m4 3h2m-6 5h2m-21 2h2m7 10h2" stroke="#fa0000" stroke-width="2" fill="none"/><path transform="scale(.5)" d="M1433 173h2m24 7h2m-33 2h2m11 6h2m1 7h2m11 0h2m-56 2h2m5 0h2m18 0h2m12 1h2m-42 1h2m56 1h2m-41 4h2m-40 1h2m39 1h2m30 0h2m-54 1h2m44 0h2m13 0h2m16 0h2m-76 2h2m17 0h2m10 0h2m66 0h2m-151 2h2m77 2h2m22 1h2m-56 2h2m4 0h2m33 0h2m-11 1h2m0 0h2m-39 1h2m21 0h2m-26 1h2m24 0h2m-37 1h2m16 0h2m13 0h2m-27 1h2m8 0h2m13 0h2m34 0h2m-85 3h2m18 0h2m32 0h2m4 0h2m20 1h2m-82 1h2m15 0h2m17 1h2m0 0h2m1 0h2m39 0h2m-80 1h2m7 0h2m12 0h2m-28 3h2m-4 1h2m24 0h3m1 0h3m1 0h2m-60 1h2m1 0h2m17 0h2m-19 1h2m3 0h2m35 0h3m34 0h2m-37 1h2m-32 1h3m30 0h2m2 0h2m5 0h2m-43 2h2m18 1h2m-40 2h2m31 0h2m14 0h2m19 0h2m-40 1h2m17 0h2m-45 1h2m67 0h2m-44 1h2m1 0h2m55 0h2m-67 1h2m21 0h2m4 0h2m-32 1h2m18 0h2m0 0h2m6 0h2m-70 1h2m78 0h2m-35 1h2m20 0h2m20 0h2m-41 1h2m-22 1h2m0 0h2m-9 1h2m26 0h2m4 0h2m-18 1h2m8 0h2m-54 1h2m50 0h2m3 0h2m5 1h2m-47 1h2m2 1h2m16 0h2m1 0h2m-1 2h2m-12 1h2m-47 1h2m26 0h2m23 0h2m3 3h2m16 1h2m-66 1h2m-2 3h2m66 0h2m-90 1h2m48 0h2m44 0h2m-70 1h2m-19 1h2m27 0h2m2 0h2m7 0h2m-32 1h2m36 0h2m-2 1h2m0 0h2m-34 1h2m51 0h2m-70 3h2m5 0h2m82 0h2m-87 1h2m9 0h2m20 0h2m0 0h2m0 0h2m34 0h2m-93 1h2m73 0h2m-45 1h2m16 0h2m-44 1h2m45 0h2m26 0h2m-42 1h2m-38 3h2m16 0h2m7 0h2m11 5h2m-34 3h2m7 1h2m-20 13h2m34 2h2m-45 8h2" stroke="#fa0000" stroke-width="2" fill="none"/><rect x="615.5" y="17.5" width="162" height="159" fill="none" stroke="#404040" stroke-width="1"/><line x1="693.5" y1="17.5" x2="693.5" y2="176.5" stroke="#404040" stroke-width="1"/><line x1="615.5" y1="125.5" x2="777.5" y2="125.5" stroke="#404040" stroke-width="1"/><text x="684.8" y="15" font-size="8.15" text-anchor="middle" fill="#3f3f3f" font-weight="normal">CD8+ T cell</text><text x="696" y="199.5" font-size="8.0" text-anchor="middle" fill="#3f3f3f" font-weight="normal">TH Brilliant Violet 421-A</text><text x="599.5" y="97" font-size="8.1" text-anchor="middle" fill="#3f3f3f" font-weight="normal" transform="rotate(-90 599.5 97)">DAT APC-A</text><line x1="615" y1="176.5" x2="615" y2="182.5" stroke="#404040" stroke-width="1"/><line x1="614.5" y1="176.5" x2="614.5" y2="179.9" stroke="#4a4a4a" stroke-width="0.85"/><line x1="616" y1="176.5" x2="616" y2="179.9" stroke="#4a4a4a" stroke-width="0.85"/><line x1="617.5" y1="176.5" x2="617.5" y2="179.9" stroke="#4a4a4a" stroke-width="0.85"/><line x1="619" y1="176.5" x2="619" y2="179.9" stroke="#4a4a4a" stroke-width="0.85"/><line x1="620.5" y1="176.5" x2="620.5" y2="179.9" stroke="#4a4a4a" stroke-width="0.85"/><line x1="622" y1="176.5" x2="622" y2="179.9" stroke="#4a4a4a" stroke-width="0.85"/><line x1="623.5" y1="176.5" x2="623.5" y2="179.9" stroke="#4a4a4a" stroke-width="0.85"/><line x1="625" y1="176.5" x2="625" y2="179.9" stroke="#4a4a4a" stroke-width="0.85"/><line x1="626.5" y1="176.5" x2="626.5" y2="179.9" stroke="#4a4a4a" stroke-width="0.85"/><line x1="628" y1="176.5" x2="628" y2="179.9" stroke="#4a4a4a" stroke-width="0.85"/><line x1="629.5" y1="176.5" x2="629.5" y2="179.9" stroke="#4a4a4a" stroke-width="0.85"/><line x1="631" y1="176.5" x2="631" y2="179.9" stroke="#4a4a4a" stroke-width="0.85"/><line x1="632.5" y1="176.5" x2="632.5" y2="179.9" stroke="#4a4a4a" stroke-width="0.85"/><line x1="634" y1="176.5" x2="634" y2="179.9" stroke="#4a4a4a" stroke-width="0.85"/><line x1="635.5" y1="176.5" x2="635.5" y2="179.9" stroke="#4a4a4a" stroke-width="0.85"/><line x1="637" y1="176.5" x2="637" y2="179.9" stroke="#4a4a4a" stroke-width="0.85"/><line x1="638.5" y1="176.5" x2="638.5" y2="179.9" stroke="#4a4a4a" stroke-width="0.85"/><line x1="640" y1="176.5" x2="640" y2="179.9" stroke="#4a4a4a" stroke-width="0.85"/><line x1="641.5" y1="176.5" x2="641.5" y2="179.9" stroke="#4a4a4a" stroke-width="0.85"/><line x1="643" y1="176.5" x2="643" y2="179.9" stroke="#4a4a4a" stroke-width="0.85"/><line x1="644.5" y1="176.5" x2="644.5" y2="179.9" stroke="#4a4a4a" stroke-width="0.85"/><line x1="646" y1="176.5" x2="646" y2="179.9" stroke="#4a4a4a" stroke-width="0.85"/><line x1="647.5" y1="176.5" x2="647.5" y2="179.9" stroke="#4a4a4a" stroke-width="0.85"/><line x1="614.5" y1="176.5" x2="614.5" y2="182.3" stroke="#404040" stroke-width="1"/><line x1="634.5" y1="176.5" x2="634.5" y2="182.3" stroke="#404040" stroke-width="1"/><line x1="648.3" y1="176.5" x2="648.3" y2="182.3" stroke="#404040" stroke-width="1"/><line x1="660.1" y1="176.5" x2="660.1" y2="179.9" stroke="#404040" stroke-width="0.9"/><line x1="667.1" y1="176.5" x2="667.1" y2="179.9" stroke="#404040" stroke-width="0.9"/><line x1="672" y1="176.5" x2="672" y2="179.9" stroke="#404040" stroke-width="0.9"/><line x1="675.8" y1="176.5" x2="675.8" y2="179.9" stroke="#404040" stroke-width="0.9"/><line x1="678.9" y1="176.5" x2="678.9" y2="179.9" stroke="#404040" stroke-width="0.9"/><line x1="681.5" y1="176.5" x2="681.5" y2="179.9" stroke="#404040" stroke-width="0.9"/><line x1="683.8" y1="176.5" x2="683.8" y2="179.9" stroke="#404040" stroke-width="0.9"/><line x1="685.8" y1="176.5" x2="685.8" y2="179.9" stroke="#404040" stroke-width="0.9"/><line x1="687.6" y1="176.5" x2="687.6" y2="182.3" stroke="#404040" stroke-width="1"/><line x1="698.8" y1="176.5" x2="698.8" y2="179.9" stroke="#404040" stroke-width="0.9"/><line x1="705.3" y1="176.5" x2="705.3" y2="179.9" stroke="#404040" stroke-width="0.9"/><line x1="710" y1="176.5" x2="710" y2="179.9" stroke="#404040" stroke-width="0.9"/><line x1="713.6" y1="176.5" x2="713.6" y2="179.9" stroke="#404040" stroke-width="0.9"/><line x1="716.5" y1="176.5" x2="716.5" y2="179.9" stroke="#404040" stroke-width="0.9"/><line x1="719" y1="176.5" x2="719" y2="179.9" stroke="#404040" stroke-width="0.9"/><line x1="721.2" y1="176.5" x2="721.2" y2="179.9" stroke="#404040" stroke-width="0.9"/><line x1="723.1" y1="176.5" x2="723.1" y2="179.9" stroke="#404040" stroke-width="0.9"/><line x1="724.8" y1="176.5" x2="724.8" y2="182.3" stroke="#404040" stroke-width="1"/><line x1="735.8" y1="176.5" x2="735.8" y2="179.9" stroke="#404040" stroke-width="0.9"/><line x1="742.3" y1="176.5" x2="742.3" y2="179.9" stroke="#404040" stroke-width="0.9"/><line x1="746.9" y1="176.5" x2="746.9" y2="179.9" stroke="#404040" stroke-width="0.9"/><line x1="750.5" y1="176.5" x2="750.5" y2="179.9" stroke="#404040" stroke-width="0.9"/><line x1="753.4" y1="176.5" x2="753.4" y2="179.9" stroke="#404040" stroke-width="0.9"/><line x1="755.8" y1="176.5" x2="755.8" y2="179.9" stroke="#404040" stroke-width="0.9"/><line x1="757.9" y1="176.5" x2="757.9" y2="179.9" stroke="#404040" stroke-width="0.9"/><line x1="759.8" y1="176.5" x2="759.8" y2="179.9" stroke="#404040" stroke-width="0.9"/><line x1="761.5" y1="176.5" x2="761.5" y2="182.3" stroke="#404040" stroke-width="1"/><line x1="772.5" y1="176.5" x2="772.5" y2="179.9" stroke="#404040" stroke-width="0.9"/><line x1="615.5" y1="176" x2="610.5" y2="176" stroke="#404040" stroke-width="1"/><line x1="615.5" y1="140.8" x2="613.1" y2="140.8" stroke="#4a4a4a" stroke-width="0.85"/><line x1="615.5" y1="142.3" x2="613.1" y2="142.3" stroke="#4a4a4a" stroke-width="0.85"/><line x1="615.5" y1="143.8" x2="613.1" y2="143.8" stroke="#4a4a4a" stroke-width="0.85"/><line x1="615.5" y1="145.3" x2="613.1" y2="145.3" stroke="#4a4a4a" stroke-width="0.85"/><line x1="615.5" y1="146.8" x2="613.1" y2="146.8" stroke="#4a4a4a" stroke-width="0.85"/><line x1="615.5" y1="148.3" x2="613.1" y2="148.3" stroke="#4a4a4a" stroke-width="0.85"/><line x1="615.5" y1="149.8" x2="613.1" y2="149.8" stroke="#4a4a4a" stroke-width="0.85"/><line x1="615.5" y1="151.3" x2="613.1" y2="151.3" stroke="#4a4a4a" stroke-width="0.85"/><line x1="615.5" y1="152.8" x2="613.1" y2="152.8" stroke="#4a4a4a" stroke-width="0.85"/><line x1="615.5" y1="154.3" x2="613.1" y2="154.3" stroke="#4a4a4a" stroke-width="0.85"/><line x1="615.5" y1="155.8" x2="613.1" y2="155.8" stroke="#4a4a4a" stroke-width="0.85"/><line x1="615.5" y1="157.3" x2="613.1" y2="157.3" stroke="#4a4a4a" stroke-width="0.85"/><line x1="615.5" y1="158.8" x2="613.1" y2="158.8" stroke="#4a4a4a" stroke-width="0.85"/><line x1="615.5" y1="160.3" x2="613.1" y2="160.3" stroke="#4a4a4a" stroke-width="0.85"/><line x1="615.5" y1="161.8" x2="613.1" y2="161.8" stroke="#4a4a4a" stroke-width="0.85"/><line x1="615.5" y1="163.3" x2="613.1" y2="163.3" stroke="#4a4a4a" stroke-width="0.85"/><line x1="615.5" y1="164.8" x2="613.1" y2="164.8" stroke="#4a4a4a" stroke-width="0.85"/><line x1="615.5" y1="166.3" x2="613.1" y2="166.3" stroke="#4a4a4a" stroke-width="0.85"/><line x1="615.5" y1="167.8" x2="613.1" y2="167.8" stroke="#4a4a4a" stroke-width="0.85"/><line x1="615.5" y1="169.3" x2="613.1" y2="169.3" stroke="#4a4a4a" stroke-width="0.85"/><line x1="615.5" y1="170.8" x2="613.1" y2="170.8" stroke="#4a4a4a" stroke-width="0.85"/><line x1="615.5" y1="172.3" x2="613.1" y2="172.3" stroke="#4a4a4a" stroke-width="0.85"/><line x1="615.5" y1="173.8" x2="613.1" y2="173.8" stroke="#4a4a4a" stroke-width="0.85"/><line x1="615.5" y1="175.3" x2="613.1" y2="175.3" stroke="#4a4a4a" stroke-width="0.85"/><line x1="615.5" y1="176.8" x2="613.1" y2="176.8" stroke="#4a4a4a" stroke-width="0.85"/><line x1="615.5" y1="177.1" x2="610.9" y2="177.1" stroke="#404040" stroke-width="1"/><line x1="615.5" y1="158.5" x2="610.9" y2="158.5" stroke="#404040" stroke-width="1"/><line x1="615.5" y1="140.8" x2="610.9" y2="140.8" stroke="#404040" stroke-width="1"/><line x1="615.5" y1="129.7" x2="613.4" y2="129.7" stroke="#404040" stroke-width="0.9"/><line x1="615.5" y1="123.2" x2="613.4" y2="123.2" stroke="#404040" stroke-width="0.9"/><line x1="615.5" y1="118.6" x2="613.4" y2="118.6" stroke="#404040" stroke-width="0.9"/><line x1="615.5" y1="115.1" x2="613.4" y2="115.1" stroke="#404040" stroke-width="0.9"/><line x1="615.5" y1="112.2" x2="613.4" y2="112.2" stroke="#404040" stroke-width="0.9"/><line x1="615.5" y1="109.7" x2="613.4" y2="109.7" stroke="#404040" stroke-width="0.9"/><line x1="615.5" y1="107.6" x2="613.4" y2="107.6" stroke="#404040" stroke-width="0.9"/><line x1="615.5" y1="105.7" x2="613.4" y2="105.7" stroke="#404040" stroke-width="0.9"/><line x1="615.5" y1="104" x2="610.9" y2="104" stroke="#404040" stroke-width="1"/><line x1="615.5" y1="93.1" x2="613.4" y2="93.1" stroke="#404040" stroke-width="0.9"/><line x1="615.5" y1="86.7" x2="613.4" y2="86.7" stroke="#404040" stroke-width="0.9"/><line x1="615.5" y1="82.2" x2="613.4" y2="82.2" stroke="#404040" stroke-width="0.9"/><line x1="615.5" y1="78.7" x2="613.4" y2="78.7" stroke="#404040" stroke-width="0.9"/><line x1="615.5" y1="75.8" x2="613.4" y2="75.8" stroke="#404040" stroke-width="0.9"/><line x1="615.5" y1="73.4" x2="613.4" y2="73.4" stroke="#404040" stroke-width="0.9"/><line x1="615.5" y1="71.3" x2="613.4" y2="71.3" stroke="#404040" stroke-width="0.9"/><line x1="615.5" y1="69.5" x2="613.4" y2="69.5" stroke="#404040" stroke-width="0.9"/><line x1="615.5" y1="67.8" x2="610.9" y2="67.8" stroke="#404040" stroke-width="1"/><line x1="615.5" y1="57.1" x2="613.4" y2="57.1" stroke="#404040" stroke-width="0.9"/><line x1="615.5" y1="50.9" x2="613.4" y2="50.9" stroke="#404040" stroke-width="0.9"/><line x1="615.5" y1="46.4" x2="613.4" y2="46.4" stroke="#404040" stroke-width="0.9"/><line x1="615.5" y1="43" x2="613.4" y2="43" stroke="#404040" stroke-width="0.9"/><line x1="615.5" y1="40.2" x2="613.4" y2="40.2" stroke="#404040" stroke-width="0.9"/><line x1="615.5" y1="37.8" x2="613.4" y2="37.8" stroke="#404040" stroke-width="0.9"/><line x1="615.5" y1="35.7" x2="613.4" y2="35.7" stroke="#404040" stroke-width="0.9"/><line x1="615.5" y1="33.9" x2="613.4" y2="33.9" stroke="#404040" stroke-width="0.9"/><line x1="615.5" y1="32.3" x2="610.9" y2="32.3" stroke="#404040" stroke-width="1"/><line x1="615.5" y1="21.6" x2="613.4" y2="21.6" stroke="#404040" stroke-width="0.9"/><text x="612.5" y="193" font-size="6.3" text-anchor="middle" fill="#3f3f3f" font-weight="normal">-157</text><text x="634.5" y="189" font-size="6.3" text-anchor="middle" fill="#3f3f3f" font-weight="normal">0</text><text x="647.8" y="190" font-size="6.4" text-anchor="middle" fill="#333" font-weight="bold">10<tspan dy="-3.1" font-size="5.632000000000001">2</tspan></text><text x="687.1" y="190" font-size="6.4" text-anchor="middle" fill="#333" font-weight="bold">10<tspan dy="-3.1" font-size="5.632000000000001">3</tspan></text><text x="724.3" y="190" font-size="6.4" text-anchor="middle" fill="#333" font-weight="bold">10<tspan dy="-3.1" font-size="5.632000000000001">4</tspan></text><text x="761" y="190" font-size="6.4" text-anchor="middle" fill="#333" font-weight="bold">10<tspan dy="-3.1" font-size="5.632000000000001">5</tspan></text><text x="605" y="178.6" font-size="6.3" text-anchor="start" fill="#3f3f3f" font-weight="normal" transform="rotate(-90 605 178.6)">-105</text><text x="610.9" y="158.5" font-size="6.3" text-anchor="middle" fill="#3f3f3f" font-weight="normal" transform="rotate(-90 610.9 158.5)">0</text><text x="611.1" y="141.3" font-size="6.4" text-anchor="middle" fill="#333" font-weight="bold" transform="rotate(-90 611.1 141.3)">10<tspan dy="-3.1" font-size="5.632000000000001">2</tspan></text><text x="611.1" y="104.5" font-size="6.4" text-anchor="middle" fill="#333" font-weight="bold" transform="rotate(-90 611.1 104.5)">10<tspan dy="-3.1" font-size="5.632000000000001">3</tspan></text><text x="611.1" y="68.3" font-size="6.4" text-anchor="middle" fill="#333" font-weight="bold" transform="rotate(-90 611.1 68.3)">10<tspan dy="-3.1" font-size="5.632000000000001">4</tspan></text><text x="611.1" y="32.8" font-size="6.4" text-anchor="middle" fill="#333" font-weight="bold" transform="rotate(-90 611.1 32.8)">10<tspan dy="-3.1" font-size="5.632000000000001">5</tspan></text><text x="622.8" y="29" font-size="7.5" text-anchor="start" fill="#4d4d4d" font-weight="normal">Q1-2</text><text x="769" y="29" font-size="7.5" text-anchor="end" fill="#4d4d4d" font-weight="normal">Q2-2</text><text x="626" y="68.7" font-size="7.85" text-anchor="start" fill="#1e1e1e" font-weight="normal">1.4%</text><text x="626" y="79" font-size="7.85" text-anchor="start" fill="#1e1e1e" font-weight="normal">Only DAT+</text><text x="733.7" y="68.7" font-size="7.85" text-anchor="start" fill="#1e1e1e" font-weight="normal">19.3%</text><text x="733.7" y="79" font-size="7.85" text-anchor="start" fill="#1e1e1e" font-weight="normal">TH+ DAT+</text><text x="639.4" y="151.7" font-size="7.85" text-anchor="start" fill="#1e1e1e" font-weight="normal">31.9%</text><text x="639.4" y="163" font-size="7.85" text-anchor="start" fill="#1e1e1e" font-weight="normal">TH- DAT-</text><text x="715.4" y="151.7" font-size="7.85" text-anchor="start" fill="#1e1e1e" font-weight="normal">47.4%</text><text x="715.4" y="163" font-size="7.85" text-anchor="start" fill="#1e1e1e" font-weight="normal">Only TH+</text><text x="622.8" y="165" font-size="7.5" text-anchor="start" fill="#4d4d4d" font-weight="normal">Q3-2</text><text x="769" y="165" font-size="7.5" text-anchor="end" fill="#4d4d4d" font-weight="normal">Q4-2</text><line x1="271" y1="40.9" x2="409" y2="40.9" stroke="#72e512" stroke-width="1.8"/><polygon points="414.7,40.9 407.3,37.3 407.3,44.5" fill="#72e512"/><line x1="337" y1="52.8" x2="624" y2="52.8" stroke="#f62c2c" stroke-width="1.5"/><polygon points="630,52.8 622.5,49.4 622.5,56.2" fill="#f62c2c"/><path transform="scale(.5)" d="M176 556h2m55 3h2m-36 1h2m-27 1h2m62 0h2m-52 2h2m-17 3h2m26 2h2m41 0h2m-7 3h2m0 0h2m-39 1h2m-23 2h2m35 0h2m8 0h2m-2 2h2m-48 1h2m11 1h2m17 1h2m5 0h2m6 0h2m-55 1h2m44 0h2m-37 1h2m-30 1h2m16 0h2m30 2h2m60 1h2m-36 4h2m40 0h2m-18 1h2m-110 1h2m6 2h2m2 1h2m13 2h2m2 0h2m88 0h2m-100 1h2m87 0h2m-6 3h2m-47 1h2m32 3h2m-5 1h2m-10 1h2m20 0h2m-71 1h2m46 0h2m35 4h2m-86 3h2m58 0h2m-57 3h2m50 2h2m11 1h2m7 0h2m-51 5h2m43 0h2m-31 2h2m-89 1h2m24 0h2m20 0h2m21 0h2m43 1h2m-87 2h2m30 0h2m-15 2h2m-46 2h2m36 1h2m-5 1h2m-44 1h2m1 0h2m58 0h2m24 0h2m-4 3h2m-41 1h2m23 2h2m-43 1h2m92 1h2m-106 2h2m-21 2h2m20 1h2" stroke="#f8b595" stroke-width="2" fill="none"/><path transform="scale(.5)" d="M270 557h2m-22 2h2m12 9h2m-23 5h2m-6 1h2m22 1h2m-37 1h2m14 0h2m-14 2h2m23 3h2m17 1h2m-23 1h2m-39 1h2m38 0h2m0 0h2m-13 1h2m9 0h2m2 0h2m-39 3h2m35 1h2m19 0h2m-31 1h2m-43 1h2m48 0h2m11 0h2m-51 1h2m17 0h2m5 0h2m17 0h2m-47 3h2m36 0h2m-25 2h2m13 0h2m-12 1h2m-9 1h2m1 2h2m10 0h2m14 0h2m3 0h2m-12 1h2m-43 1h2m20 0h2m12 0h2m18 0h2m-70 1h2m31 0h2m6 0h2m5 1h2m-28 2h2m-31 2h2m18 0h2m31 0h2m4 0h2m-21 1h2m7 0h2m23 0h2m-49 1h2m30 0h2m2 0h2m10 0h2m-29 1h2m-30 1h2m1 0h2m9 0h2m7 0h2m-21 1h2m34 1h2m13 0h2m-62 1h2m4 0h2m15 0h2m35 0h2m-66 1h2m19 0h2m39 1h2m-27 1h3m15 0h2m2 0h2m-41 1h2m32 0h2m-28 1h2m11 0h2m-9 1h2m17 0h2m8 0h3m-30 1h3m15 0h2m-64 1h2m42 0h2m25 0h2m-11 1h2m-29 2h2m11 0h2m14 0h2m-4 1h2m-34 1h2m22 0h2m8 0h2m-55 1h2m34 1h2m5 0h2m12 0h2m-20 1h2m-9 1h2m14 0h2m-39 1h2m39 0h2m0 0h3m-37 1h2m3 0h2m16 0h2m1 0h2m2 0h3m-31 1h2m23 0h2m-37 1h2m25 0h2m-10 1h2m9 2h2m2 0h2m-12 1h2m16 0h2m-35 2h2m21 1h2m2 4h2" stroke="#f6a378" stroke-width="2" fill="none"/><path transform="scale(.5)" d="M169 556h2m49 1h2m-30 7h2m1 1h2m12 3h2m-13 1h2m-15 1h2m11 2h2m-29 1h2m21 0h2m-32 2h2m21 0h2m32 0h2m-61 2h2m14 0h2m7 0h2m11 1h2m-9 3h3m11 0h2m-41 1h2m18 2h2m16 0h2m7 0h2m-22 1h2m-11 2h2m-28 1h2m8 0h2m30 2h2m-36 1h2m3 1h2m4 0h2m39 0h2m-51 1h2m27 0h2m-2 1h2m6 0h2m-21 2h2m-28 1h2m4 1h2m20 0h2m6 0h2m1 0h2m-13 1h2m6 0h2m12 0h2m-42 1h2m2 1h2m-3 1h2m14 4h2m-28 2h2m11 0h2m33 0h2m-36 1h2m2 0h2m29 0h2m-13 1h2m-22 2h2m-27 2h2m33 0h2m-8 2h2m-19 1h2m29 1h2m-36 1h2m39 1h2m-34 3h3m-3 3h2m-23 9h2m29 1h2m-2 1h2" stroke="#f8b595" stroke-width="2" fill="none"/><path transform="scale(.5)" d="M338 561h2m-7 9h2m1 0h2m-25 8h2m-3 6h2m13 1h2m-4 1h2m-26 1h2m12 0h2m2 2h2m7 0h2m3 0h2m-24 1h2m13 0h2m13 1h2m-34 2h2m13 0h2m7 0h2m-12 4h2m20 0h2m-29 1h2m0 2h2m-10 1h2m4 0h2m4 1h2m-2 1h2m3 0h2m-7 1h2m17 0h2m-27 1h2m16 1h2m-39 1h2m14 0h2m0 0h2m1 0h2m0 0h2m20 0h3m-23 1h2m2 0h2m7 0h2m-30 1h2m19 0h2m0 0h2m16 0h2m-65 1h2m21 0h2m41 1h2m-59 1h2m26 0h2m4 0h2m6 0h3m-30 1h2m5 0h2m13 1h2m3 0h2m11 0h2m-66 1h2m5 0h2m20 0h2m0 0h2m0 0h2m-14 2h2m10 0h2m15 0h2m-38 1h2m24 0h2m-15 1h2m0 0h2m3 0h2m9 0h2m-16 1h2m4 0h2m9 0h2m16 0h2m-54 1h2m6 0h2m11 0h3m3 0h2m-36 1h2m2 0h2m24 0h2m4 0h2m4 0h2m9 0h2m-55 1h2m2 0h2m7 0h2m1 0h2m5 0h3m8 0h2m2 0h2m-37 1h2m5 0h2m8 0h2m1 0h2m-18 1h2m9 0h2m2 0h2m11 0h2m0 0h2m8 0h2m-31 1h2m16 0h2m17 0h2m-57 1h2m1 0h2m5 0h2m1 0h2m0 0h2m3 0h2m9 0h2m3 0h2m5 0h2m1 0h2m-34 1h2m7 0h2m5 0h3m6 0h2m0 0h2m-37 1h2m1 0h2m1 0h3m0 0h2m7 0h2m11 0h2m15 0h2m-58 1h2m15 0h2m11 0h2m8 0h2m1 0h2m0 0h2m-30 1h2m0 0h2m0 0h2m19 0h2m-30 1h2m5 0h2m18 0h2m9 0h2m-51 1h2m14 0h3m4 0h3m16 0h2m0 0h2m2 0h2m-38 1h2m1 0h2m0 0h4m1 0h3m0 0h2m13 0h2m-27 1h2m14 0h2m-21 1h2m3 0h2m13 0h2m-31 1h2m12 0h2m16 0h2m7 0h2m-41 1h2m7 0h4m2 0h2m4 0h2m2 0h3m3 0h2m0 0h3m6 0h2m-49 1h2m9 0h2m27 0h2m5 0h2m9 0h2m-55 1h2m1 0h2m17 0h2m0 0h2m7 0h2m1 0h2m25 0h2m-69 1h2m1 0h2m1 0h2m15 0h2m13 0h2m-18 1h4m5 0h2m23 0h2m-45 1h2m16 0h2m-27 1h2m17 0h2m10 0h2m-38 1h2m23 0h3m12 0h2m-35 1h2m12 0h3m0 0h2m7 0h2m-38 1h2m0 0h2m12 0h3m0 0h2m10 0h2m0 0h2m-40 1h2m10 0h2m8 0h2m1 0h2m23 0h2m-22 1h2m5 0h2m-18 1h2m10 0h2m5 0h2m5 0h2m1 0h2m-51 1h2m16 0h3m3 0h3m0 0h2m2 0h2m12 0h2m-38 1h2m4 0h2m1 0h2m0 0h2m1 0h2m0 0h2m9 0h2m7 0h2m2 0h2m-46 1h2m6 0h2m4 0h2m8 0h2m0 0h2m4 0h3m22 0h2m-56 1h3m14 0h3m12 0h2m-24 1h2m11 0h2m31 0h2m-59 1h2m0 0h2m12 0h2m7 0h2m7 0h2m9 0h2m1 0h2m-47 1h3m3 0h2m1 0h2m0 0h2m0 0h2m1 0h2m-20 1h2m1 0h2m5 0h2m4 0h2m3 0h2m3 0h2m7 0h2m0 0h2m-33 1h3m1 0h2m10 0h2m2 0h2m19 0h2m-49 1h2m17 0h2m10 0h2m1 0h2m1 0h2m1 0h2m-34 1h4m26 0h2m3 0h2m-17 1h2m17 0h2m0 0h2m-47 1h2m-7 1h2m4 0h2m9 0h2m6 0h2m5 0h2m35 0h2m-48 1h2m16 0h2m-21 1h2m-21 1h2m7 0h2m25 0h2m0 0h2m-43 1h2m35 0h2m-22 1h2m36 0h2m-46 1h2m0 0h2m0 0h2m4 0h2m4 0h2m1 0h2m-11 1h3m-16 1h2m10 0h2m2 0h2m2 0h2m2 0h2m-12 1h2m1 0h2m3 0h2m11 0h2m-29 1h2m2 0h2m12 1h2m-31 1h2m-6 2h2m31 0h2m-9 1h2m19 2h2m-45 1h2m15 0h2m18 1h2" stroke="#6cb0f8" stroke-width="2" fill="none"/><path transform="scale(.5)" d="M317 633h2m-3 2h2m5 0h2m0 2h2m-12 1h2m-3 1h2m0 0h2m-3 2h2m9 0h2m4 0h2m-8 3h2m8 0h2m3 0h2m-28 4h2m-5 1h2m8 0h2m-13 1h3m10 1h2m-9 2h2m12 0h2m-13 1h2m-17 1h2m4 0h2m0 3h2m-13 1h2m27 0h2m-16 2h2m4 1h2m-7 1h2m-18 1h2m15 0h2m-20 1h2m8 0h2m-6 2h2m11 1h2m5 0h2m-2 5h2m0 0h2m-4 2h2" stroke="#3a8af2" stroke-width="2" fill="none"/><ellipse cx="95.3" cy="369.9" rx="6.2" ry="2.3" fill="#2020f5" transform="rotate(0 95.3 369.9)"/><path transform="scale(.5)" d="M195 713h2m-24 8h2m19 0h2m-39 1h2m25 0h2m6 0h2m2 0h2m-31 1h2m9 0h2m0 0h2m1 0h2m3 0h2m21 0h2m-29 1h2m0 0h2m2 0h2m6 0h2m2 0h2m12 0h2m-44 1h2m4 0h3m2 0h2m1 0h3m0 0h2m0 0h2m6 0h2m18 0h2m-47 1h2m4 0h2m6 0h2m2 0h2m2 0h2m0 0h2m5 0h2m9 0h2m-48 1h2m1 0h2m4 0h2m6 0h2m0 0h2m2 0h2m0 0h2m5 0h2m1 0h3m6 0h2m-54 1h2m5 0h2m1 0h3m2 0h2m1 0h3m1 0h3m0 0h2m0 0h2m0 0h4m1 0h2m0 0h2m0 0h2m-32 1h3m2 0h2m2 0h3m0 0h2m1 0h2m0 0h3m1 0h3m0 0h2m0 0h5m1 0h3m10 0h2m6 0h2m0 0h2m1 0h2m0 0h2m-61 1h2m1 0h2m1 0h2m0 0h4m0 0h3m8 0h4m4 0h3m7 0h3m8 0h2m-80 1h2m23 0h5m0 0h2m2 0h4m0 0h2m1 0h5m1 0h2m2 0h3m1 0h4m0 0h2m3 0h2m3 0h2m1 0h2m-63 1h3m0 0h2m0 0h3m0 0h2m2 0h4m2 0h3m1 0h5m0 0h3m1 0h5m1 0h7m5 0h2m0 0h4m2 0h2m0 0h2m-52 1h2m2 0h2m1 0h3m1 0h2m0 0h2m1 0h2m0 0h2m0 0h6m1 0h3m0 0h3m0 0h2m1 0h5m0 0h2m13 0h2m-63 1h2m2 0h3m3 0h2m3 0h3m3 0h7m0 0h2m0 0h8m3 0h5m0 0h5m0 0h2m2 0h3m5 0h2m3 0h2m-86 1h2m11 0h2m1 0h4m1 0h2m0 0h3m0 0h2m0 0h16m0 0h3m1 0h5m1 0h11m1 0h2m0 0h2m0 0h2m5 0h2m-72 1h2m2 0h2m1 0h2m1 0h2m2 0h2m0 0h3m2 0h2m0 0h3m0 0h7m10 0h8m2 0h3m1 0h3m3 0h2m-57 1h2m4 0h7m1 0h10m14 0h5m0 0h3m1 0h3m0 0h3m0 0h2m-61 1h2m6 0h2m0 0h3m0 0h2m2 0h2m1 0h2m0 0h2m1 0h3m17 0h5m0 0h2m0 0h2m3 0h2m4 0h2m-62 1h2m6 0h2m1 0h3m1 0h2m0 0h2m1 0h2m0 0h2m19 0h8m2 0h2m2 0h4m2 0h2m2 0h2m2 0h2m-71 1h3m1 0h2m2 0h2m4 0h2m0 0h2m2 0h2m19 0h2m0 0h5m0 0h2m0 0h2m3 0h3m1 0h2m0 0h2m0 0h2m0 0h2m-68 1h2m3 0h2m2 0h2m2 0h2m1 0h7m18 0h6m0 0h2m0 0h3m3 0h4m3 0h2m-59 1h2m3 0h2m0 0h2m0 0h4m0 0h6m18 0h4m0 0h6m0 0h5m3 0h2m3 0h2m-80 1h2m10 0h2m7 0h2m0 0h2m0 0h3m3 0h2m0 0h2m0 0h4m14 0h4m0 0h9m1 0h2m2 0h2m2 0h2m-59 1h2m0 0h2m0 0h2m0 0h2m0 0h2m1 0h9m0 0h5m4 0h2m1 0h8m1 0h4m1 0h2m1 0h2m1 0h2m6 0h2m3 0h2m2 0h2m-76 1h3m4 0h2m0 0h3m1 0h5m0 0h9m0 0h2m0 0h7m0 0h4m0 0h5m0 0h2m1 0h4m0 0h2m15 0h2m-58 1h4m3 0h2m0 0h4m2 0h9m0 0h2m0 0h6m0 0h2m0 0h2m0 0h2m0 0h2m1 0h3m0 0h3m-67 1h2m5 0h2m1 0h2m4 0h2m1 0h5m1 0h3m0 0h3m1 0h3m0 0h6m0 0h2m0 0h5m1 0h2m0 0h2m1 0h4m1 0h2m1 0h2m16 0h2m-77 1h2m7 0h2m0 0h2m1 0h2m0 0h2m0 0h2m1 0h2m2 0h5m1 0h2m0 0h5m1 0h4m1 0h4m0 0h2m0 0h2m4 0h2m2 0h2m3 0h2m-66 1h2m13 0h2m0 0h2m2 0h2m0 0h3m0 0h2m0 0h2m1 0h5m2 0h2m0 0h3m5 0h3m7 0h2m-59 1h2m11 0h2m0 0h2m0 0h2m2 0h2m4 0h2m4 0h3m1 0h2m0 0h2m0 0h3m0 0h2m0 0h2m1 0h2m2 0h3m1 0h2m10 0h2m-65 1h2m1 0h2m2 0h2m2 0h2m0 0h2m1 0h5m0 0h2m0 0h2m1 0h2m0 0h2m4 0h4m3 0h2m-30 1h2m0 0h2m1 0h3m1 0h3m5 0h2m1 0h2m4 0h2m3 0h2m0 0h2m5 0h2m-49 1h2m8 0h2m2 0h2m18 0h2m4 0h3m-42 1h2m11 0h2m3 0h2m6 0h2m10 0h2m0 0h2m-44 1h2m2 0h2m1 0h2m8 0h2m3 0h2m1 0h3m7 0h2m8 0h2m-23 1h2m2 0h2m8 0h2m3 0h2m-36 1h2m30 0h2m-29 1h2m17 0h2m-16 1h2m8 1h2m-1 2h2" stroke="#2222f2" stroke-width="2" fill="none"/><path transform="scale(.5)" d="M233 720h2m-6 2h2m4 1h2m2 0h2m13 0h2m-29 1h2m14 1h2m-8 1h2m-27 1h2m51 0h2m14 0h2m-69 1h2m10 0h2m20 0h2m6 0h2m-32 1h2m28 0h2m-36 1h2m25 0h2m21 0h2m-54 1h2m8 0h2m4 0h2m0 0h2m9 0h2m29 0h2m-72 1h2m21 0h2m4 0h3m2 0h2m7 0h2m5 0h2m1 0h2m0 0h2m5 0h2m1 0h2m2 0h2m-61 1h2m1 0h3m8 0h4m7 0h2m8 0h3m11 0h2m-38 1h2m5 0h3m12 0h2m10 0h2m3 0h2m-45 1h2m12 0h2m2 0h2m4 0h2m2 0h4m2 0h2m6 0h2m6 0h2m-51 1h2m7 0h2m1 0h2m1 0h2m2 0h2m0 0h5m8 0h2m1 0h2m4 0h2m-60 1h2m11 0h2m9 0h2m3 0h2m0 0h2m0 0h2m1 0h3m3 0h2m2 0h2m2 0h2m6 0h2m1 0h2m-47 1h2m1 0h2m4 0h2m1 0h2m2 0h3m2 0h4m0 0h2m12 0h2m0 0h2m6 0h2m-70 1h2m18 0h2m3 0h2m1 0h2m11 0h2m4 0h2m-42 1h2m6 0h2m4 0h2m1 0h2m2 0h2m4 0h2m2 0h2m0 0h2m22 0h2m-39 1h2m3 0h2m11 0h2m4 0h2m6 0h3m-77 1h2m30 0h2m1 0h2m2 0h2m1 0h2m8 0h2m3 0h2m8 0h2m2 0h2m5 0h2m-62 1h2m27 0h2m10 0h2m1 0h2m7 0h2m3 0h2m-52 1h2m11 0h3m0 0h2m0 0h4m0 0h3m7 0h2m1 0h2m6 0h2m0 0h2m6 0h2m-35 1h3m9 0h2m11 0h2m-40 1h2m5 0h2m15 0h2m0 0h2m12 0h2m-54 1h2m9 0h2m9 0h2m1 0h2m1 0h2m-20 1h2m10 0h2m0 0h2m14 0h2m-20 1h2m9 0h2m-1 1h2m3 0h2m25 1h2m-46 1h2m8 0h2m7 0h2m5 1h2" stroke="#5252f6" stroke-width="2" fill="none"/><path transform="scale(.5)" d="M276 730h2m6 2h2m-9 1h2m0 0h3m-12 1h2m1 0h2m0 0h3m0 0h2m-1 1h2m2 0h3m-17 1h2m2 0h2m1 0h2m0 0h2m0 0h3m1 0h2m-8 1h2m3 0h2m-14 1h2m2 0h2m5 0h2m-10 1h2m1 0h2m0 0h5m-10 1h3m1 0h2m0 0h3m0 0h2m-13 1h2m2 0h2m1 0h3m0 0h4m-14 1h3m4 0h2m3 0h2m-14 1h2m5 0h3m-8 1h2m2 0h2m0 0h3m-2 1h2m-9 1h2m4 0h2m-2 1h2m-8 1h2m0 3h2" stroke="#3434f5" stroke-width="2" fill="none"/><path transform="scale(.5)" d="M270 619h2m-107 6h2m103 6h2m-159 3h2m42 10h2m-48 4h2m151 0h2m18 4h2m-15 2h2m-139 2h2m43 0h2m34 4h2m9 1h2m35 1h2m1 3h2m-56 5h2m20 0h2m-12 2h2m26 1h2m5 0h2m-66 1h2m0 0h2m-28 1h2m37 0h2m7 0h2m-95 1h2m18 0h2m13 0h2m88 1h2m-69 1h2m42 0h2m45 0h2m-89 2h2m69 0h2m-36 1h2m-26 1h2m-15 1h2m-14 2h2m67 1h2m-84 1h2m43 0h2m5 0h2m0 0h2m43 0h2m-81 1h2m5 0h2m14 0h2m40 1h2m20 0h2m7 0h2m-89 1h2m-26 1h2m77 0h2m-79 1h2m0 0h2m35 0h2m-54 2h2m21 0h2m4 0h2m48 0h2m12 0h2m0 0h2m-85 3h2m11 0h2m13 0h2m5 0h2m10 1h2m21 0h2m-5 1h2m-113 2h2m88 0h3m26 0h2m13 0h2m-120 1h2m64 0h2m49 0h2m-86 1h2m104 0h2m-113 1h2m23 0h2m39 0h2m-132 1h2m56 0h2m69 0h2m-34 1h2m5 0h2m21 0h2m-94 1h2m29 0h2m37 0h2m21 0h2m10 0h2m-82 1h2m28 0h2m17 0h2m-40 1h2m13 0h2m27 1h2m-35 1h2m6 0h2m23 0h2m2 0h2m-20 2h2m-41 1h2m24 0h2m41 0h2m-57 1h2m-49 1h2m32 1h2m33 0h2m-6 2h2m36 0h2m19 0h2m-102 3h2m-17 1h2m12 0h2m47 0h2m28 0h3m7 0h2m-44 1h2m-37 1h2m106 0h2m-84 1h2m-24 1h2m19 0h2m5 0h2m-19 1h2m46 0h2m-97 1h2m10 0h2m104 0h2m-28 2h2m-107 2h2m91 0h2m-98 2h2m24 0h2m135 1h2m-119 1h2m50 2h2m-43 1h2m1 0h2m53 5h2m-69 1h2m6 0h2m59 0h2m10 0h2m-106 4h2m-2 4h2m29 0h2m22 0h2m-58 1h2m78 2h2m-44 4h2m11 1h2m-43 4h2m89 15h2" stroke="#9a9afa" stroke-width="2" fill="none"/><path transform="scale(.5)" d="M187 570h2m-43 5h2m3 3h2m0 14h2" stroke="#8a8af8" stroke-width="2" fill="none"/><ellipse cx="163" cy="369.3" rx="12.2" ry="10" fill="#cc00ff" transform="rotate(0 163 369.3)"/><ellipse cx="162.6" cy="357.5" rx="6.2" ry="9" fill="#cc00ff" transform="rotate(0 162.6 357.5)"/><path transform="scale(.5)" d="M324 702h2m6 0h2m-12 3h2m2 1h2m-7 1h2m0 0h2m6 1h2m2 0h2m-24 1h2m3 0h2m12 0h2m8 0h2m-37 1h2m11 0h2m1 0h2m1 0h3m12 0h2m9 0h2m-52 1h2m7 0h2m3 0h2m4 0h2m2 0h2m1 0h2m4 0h2m1 0h2m-34 1h2m1 0h2m0 0h2m3 0h2m2 0h4m0 0h8m1 0h2m5 0h2m-41 1h2m5 0h2m1 0h2m4 0h2m2 0h2m3 0h2m0 0h2m1 0h2m1 0h3m1 0h2m0 0h2m4 0h2m-46 1h2m3 0h2m2 0h3m0 0h2m0 0h2m0 0h2m1 0h5m0 0h2m5 0h2m4 0h2m7 0h2m-43 1h2m0 0h2m0 0h3m0 0h2m0 0h5m0 0h3m0 0h4m1 0h3m0 0h8m0 0h3m2 0h2m-45 1h2m3 0h2m1 0h2m0 0h2m0 0h2m2 0h6m0 0h5m0 0h3m0 0h6m1 0h3m0 0h2m-38 1h3m2 0h2m2 0h4m0 0h7m0 0h13m2 0h4m4 0h2m0 0h2m-57 1h2m2 0h2m1 0h4m2 0h2m1 0h2m0 0h23m0 0h2m0 0h4m1 0h4m-53 1h2m5 0h2m1 0h3m1 0h5m0 0h27m0 0h3m0 0h3m1 0h2m12 0h2m-64 1h2m5 0h14m12 0h14m0 0h6m1 0h2m2 0h2m-62 1h2m2 0h3m0 0h2m0 0h8m0 0h2m19 0h8m0 0h3m0 0h3m1 0h2m-61 1h2m0 0h2m4 0h2m1 0h2m0 0h5m0 0h6m24 0h4m0 0h4m2 0h2m-58 1h2m2 0h2m3 0h11m26 0h13m1 0h2m4 0h2m-66 1h3m1 0h12m29 0h5m0 0h5m6 0h2m-60 1h3m1 0h7m33 0h5m0 0h5m2 0h2m-64 1h2m2 0h5m0 0h7m35 0h13m-64 1h3m1 0h2m0 0h3m2 0h5m37 0h7m0 0h2m1 0h2m0 0h2m3 0h2m-77 1h2m0 0h3m3 0h3m3 0h6m39 0h9m11 0h2m0 0h2m-75 1h3m2 0h2m0 0h3m41 0h8m0 0h3m-68 1h2m2 0h2m2 0h9m41 0h4m0 0h2m1 0h2m9 0h2m-78 1h2m3 0h3m0 0h2m0 0h6m42 0h10m8 0h2m-74 1h3m0 0h3m0 0h6m43 0h7m0 0h2m1 0h2m-71 1h2m2 0h3m0 0h3m0 0h5m44 0h5m0 0h2m2 0h2m-68 1h2m1 0h4m0 0h3m0 0h3m45 0h5m1 0h2m4 0h2m0 0h2m3 0h2m-79 1h2m1 0h3m1 0h5m47 0h6m0 0h3m0 0h2m-68 1h2m0 0h2m1 0h5m46 0h5m1 0h3m-62 1h7m46 0h4m1 0h4m0 0h3m3 0h2m-76 1h3m2 0h8m46 0h5m0 0h2m0 0h2m2 0h2m1 0h3m-72 1h3m0 0h3m0 0h3m46 0h7m0 0h4m-70 1h2m4 0h7m47 0h3m0 0h2m0 0h3m0 0h3m-74 1h2m5 0h9m46 0h3m0 0h4m1 0h3m1 0h2m-72 1h2m0 0h3m0 0h7m46 0h2m0 0h2m0 0h2m0 0h2m-68 1h4m3 0h8m45 0h5m0 0h3m1 0h2m-71 1h2m1 0h2m2 0h5m0 0h3m44 0h7m0 0h2m-64 1h2m0 0h2m0 0h3m0 0h4m44 0h2m0 0h2m0 0h2m0 0h2m0 0h3m1 0h2m-71 1h2m2 0h10m42 0h4m2 0h2m0 0h2m3 0h2m-69 1h3m0 0h2m0 0h2m1 0h4m42 0h5m2 0h2m1 0h3m0 0h2m-68 1h2m1 0h4m0 0h5m40 0h2m1 0h2m0 0h2m2 0h3m0 0h2m-68 1h2m3 0h3m0 0h7m39 0h4m0 0h2m0 0h2m1 0h2m0 0h2m-71 1h3m0 0h2m4 0h5m1 0h5m36 0h8m0 0h5m-65 1h2m0 0h2m0 0h4m1 0h7m36 0h6m0 0h4m0 0h2m0 0h2m1 0h2m-68 1h2m1 0h6m0 0h4m0 0h3m34 0h9m1 0h3m0 0h2m0 0h2m-65 1h2m0 0h4m1 0h8m31 0h8m0 0h2m1 0h2m1 0h3m-62 1h2m0 0h3m1 0h10m27 0h8m0 0h7m-61 1h2m4 0h2m0 0h10m0 0h3m24 0h6m0 0h4m1 0h2m2 0h2m-59 1h2m0 0h2m1 0h2m1 0h3m0 0h4m0 0h6m19 0h4m0 0h6m2 0h2m0 0h4m4 0h2m-68 1h2m0 0h2m2 0h2m4 0h2m0 0h2m2 0h2m0 0h7m12 0h2m1 0h10m1 0h5m-49 1h2m0 0h3m1 0h2m0 0h2m0 0h3m1 0h2m0 0h25m1 0h2m3 0h3m2 0h2m-60 1h2m3 0h2m2 0h2m0 0h3m1 0h4m0 0h31m0 0h2m-46 1h2m1 0h2m5 0h6m0 0h17m0 0h6m0 0h4m10 0h2m-55 1h2m3 0h2m2 0h3m0 0h6m0 0h3m1 0h2m0 0h7m0 0h2m0 0h3m0 0h3m1 0h3m2 0h3m-45 1h2m4 0h2m0 0h2m0 0h2m0 0h13m1 0h4m0 0h2m0 0h2m1 0h2m0 0h2m3 0h2m1 0h3m8 0h2m-56 1h5m0 0h2m0 0h2m0 0h2m1 0h3m0 0h2m1 0h2m0 0h3m1 0h4m0 0h2m0 0h2m0 0h2m9 0h3m-50 1h2m2 0h2m0 0h3m1 0h3m0 0h2m0 0h4m1 0h2m2 0h3m0 0h2m4 0h3m0 0h2m4 0h2m10 0h2m-41 1h2m3 0h3m1 0h4m0 0h2m0 0h3m1 0h2m2 0h2m-31 1h2m9 0h2m0 0h3m0 0h2m0 0h2m7 0h3m17 0h2m-37 1h3m2 0h2m1 0h2m-26 1h2m9 0h2m17 0h2m-13 1h2m1 0h2m13 0h2m-21 1h2m-9 1h2m1 1h2m14 1h2" stroke="#cc00ff" stroke-width="2" fill="none"/><path transform="scale(.5)" d="M322 686h2m-5 2h2m-1 1h2m3 0h4m-9 1h2m0 0h3m0 0h2m3 0h2m3 0h2m-18 1h2m2 0h3m0 0h3m1 0h2m3 0h2m-20 1h2m1 0h2m1 0h2m0 0h2m0 0h2m-13 1h2m1 0h3m0 0h4m0 0h4m0 0h2m0 0h2m0 0h3m-26 1h5m1 0h2m1 0h9m1 0h3m0 0h2m0 0h2m2 0h2m-29 1h2m3 0h3m3 0h7m0 0h4m0 0h2m2 0h2m-29 1h2m4 0h6m0 0h2m0 0h2m0 0h4m0 0h3m0 0h4m2 0h2m-32 1h2m8 0h4m4 0h5m0 0h2m0 0h3m-29 1h2m2 0h4m0 0h4m9 0h3m0 0h4m0 0h4m-30 1h3m0 0h3m0 0h3m12 0h2m0 0h4m0 0h2m-30 1h4m0 0h4m16 0h5m-30 1h2m2 0h6m16 0h5m0 0h2m-37 1h2m4 0h2m0 0h2m0 0h3m17 0h3m0 0h3m0 0h2m-30 1h2m0 0h2m19 0h2m0 0h4m0 0h2m-33 1h3m0 0h2m19 0h7m4 0h2m-42 1h2m1 0h2m1 0h5m19 0h5m0 0h2m1 0h2m-39 1h2m0 0h3m0 0h2m0 0h2m22 0h2m0 0h2m-35 1h3m2 0h2m0 0h2m21 0h6m-35 1h4m0 0h3m22 0h5m-32 1h2m0 0h3m22 0h4m-31 1h3m0 0h2m22 0h6m-35 1h3m2 0h2m23 0h4m-38 1h2m3 0h4m0 0h2m22 0h6m0 0h2m-35 1h2m0 0h3m23 0h2m-32 1h2m1 0h2m0 0h2m23 0h3m-32 1h3m27 0h4m1 0h2m-41 1h2m3 0h4m24 0h3m5 0h2m-39 1h3m0 0h3m22 0h4m0 0h2m2 0h2m-39 1h4m0 0h3m22 0h3m-30 1h2m0 0h3m22 0h5m0 0h2m-34 1h6m21 0h5m-32 1h6m21 0h4m0 0h2m1 0h2m-45 1h2m5 0h2m2 0h4m20 0h5m0 0h2m-35 1h2m2 0h4m21 0h4m0 0h2m0 0h2m-33 1h4m19 0h2m0 0h2m-27 1h5m18 0h7m-31 1h2m2 0h3m16 0h4m0 0h2m-27 1h6m15 0h5m-26 1h2m0 0h4m14 0h4m1 0h2m-28 1h2m1 0h5m12 0h7m-27 1h5m1 0h4m9 0h5m-20 1h2m0 0h6m4 0h2m0 0h4m2 0h3m1 0h2m-31 1h2m0 0h2m2 0h21m0 0h2m-27 1h4m0 0h2m1 0h5m0 0h2m0 0h3m0 0h4m-16 1h4m0 0h6m0 0h2m0 0h3m0 0h3m4 0h2m-23 1h4m0 0h4m1 0h2m2 0h2m1 0h3m5 0h2m-31 1h2m2 0h2m0 0h3m2 0h3m1 0h2m-13 1h3m4 0h3m1 0h2m2 0h2m0 0h2m1 0h2m0 0h2m-20 1h3m6 0h2m0 0h2m-5 1h3m1 0h2m-13 1h4m-8 1h2m7 0h2m-2 1h2" stroke="#cc00ff" stroke-width="2" fill="none"/><path transform="scale(.5)" d="M339 694h2m-13 5h2m17 0h2m-53 1h2m16 0h2m15 4h2m11 3h2m-46 3h2m56 0h2m-33 1h2m14 0h2m-51 1h2m25 2h2m36 0h2m-52 1h2m31 0h2m21 2h2m-64 1h2m-4 1h2m18 2h2m-6 1h2m55 1h2m-55 1h2m10 0h2m11 0h2m-44 1h2m7 0h2m-20 1h2m16 1h2m-9 1h2m21 0h2m15 0h2m25 0h2m-72 1h2m14 0h2m-10 2h2m0 0h2m49 1h2m-35 1h2m-3 1h2m-43 1h2m27 0h2m3 0h2m2 0h2m-24 2h2m29 0h2m0 0h2m-25 1h2m35 1h2m-48 1h2m26 0h2m9 0h2m10 0h2m-35 2h2m31 0h2m-39 1h2m25 0h2m6 0h2m-48 1h2m-12 2h2m23 0h2m-25 1h2m21 1h2m18 3h2m16 0h2m-24 2h3m-19 8h2m4 0h2m1 0h2m3 0h2m-20 1h3m-16 1h2m1 0h2m15 4h2m-17 7h2m-16 2h2m4 1h2m5 0h2m19 8h2m29 2h2" stroke="#cc00ff" stroke-width="2" fill="none"/><rect x="28.5" y="236.5" width="164" height="159" fill="none" stroke="#404040" stroke-width="1"/><text x="99" y="233.5" font-size="7.9" text-anchor="middle" fill="#3f3f3f" font-weight="normal">Monocytes</text><text x="110" y="419.5" font-size="8.0" text-anchor="middle" fill="#3f3f3f" font-weight="normal">CD14 PE-CF594-A</text><text x="13" y="315.8" font-size="8.1" text-anchor="middle" fill="#3f3f3f" font-weight="normal" transform="rotate(-90 13 315.8)">CD16 Alexa Fluor 700-A</text><line x1="28.6" y1="395.5" x2="28.6" y2="401.5" stroke="#404040" stroke-width="1"/><line x1="34.3" y1="395.5" x2="34.3" y2="398.9" stroke="#4a4a4a" stroke-width="0.85"/><line x1="35.8" y1="395.5" x2="35.8" y2="398.9" stroke="#4a4a4a" stroke-width="0.85"/><line x1="37.3" y1="395.5" x2="37.3" y2="398.9" stroke="#4a4a4a" stroke-width="0.85"/><line x1="38.8" y1="395.5" x2="38.8" y2="398.9" stroke="#4a4a4a" stroke-width="0.85"/><line x1="40.3" y1="395.5" x2="40.3" y2="398.9" stroke="#4a4a4a" stroke-width="0.85"/><line x1="41.8" y1="395.5" x2="41.8" y2="398.9" stroke="#4a4a4a" stroke-width="0.85"/><line x1="43.3" y1="395.5" x2="43.3" y2="398.9" stroke="#4a4a4a" stroke-width="0.85"/><line x1="44.8" y1="395.5" x2="44.8" y2="398.9" stroke="#4a4a4a" stroke-width="0.85"/><line x1="46.3" y1="395.5" x2="46.3" y2="398.9" stroke="#4a4a4a" stroke-width="0.85"/><line x1="47.8" y1="395.5" x2="47.8" y2="398.9" stroke="#4a4a4a" stroke-width="0.85"/><line x1="49.3" y1="395.5" x2="49.3" y2="398.9" stroke="#4a4a4a" stroke-width="0.85"/><line x1="50.8" y1="395.5" x2="50.8" y2="398.9" stroke="#4a4a4a" stroke-width="0.85"/><line x1="52.3" y1="395.5" x2="52.3" y2="398.9" stroke="#4a4a4a" stroke-width="0.85"/><line x1="53.8" y1="395.5" x2="53.8" y2="398.9" stroke="#4a4a4a" stroke-width="0.85"/><line x1="55.3" y1="395.5" x2="55.3" y2="398.9" stroke="#4a4a4a" stroke-width="0.85"/><line x1="56.8" y1="395.5" x2="56.8" y2="398.9" stroke="#4a4a4a" stroke-width="0.85"/><line x1="58.3" y1="395.5" x2="58.3" y2="398.9" stroke="#4a4a4a" stroke-width="0.85"/><line x1="59.8" y1="395.5" x2="59.8" y2="398.9" stroke="#4a4a4a" stroke-width="0.85"/><line x1="61.3" y1="395.5" x2="61.3" y2="398.9" stroke="#4a4a4a" stroke-width="0.85"/><line x1="34.3" y1="395.5" x2="34.3" y2="401.3" stroke="#404040" stroke-width="1"/><line x1="51" y1="395.5" x2="51" y2="401.3" stroke="#404040" stroke-width="1"/><line x1="62.5" y1="395.5" x2="62.5" y2="401.3" stroke="#404040" stroke-width="1"/><line x1="74.2" y1="395.5" x2="74.2" y2="398.9" stroke="#404040" stroke-width="0.9"/><line x1="81.1" y1="395.5" x2="81.1" y2="398.9" stroke="#404040" stroke-width="0.9"/><line x1="86" y1="395.5" x2="86" y2="398.9" stroke="#404040" stroke-width="0.9"/><line x1="89.8" y1="395.5" x2="89.8" y2="398.9" stroke="#404040" stroke-width="0.9"/><line x1="92.8" y1="395.5" x2="92.8" y2="398.9" stroke="#404040" stroke-width="0.9"/><line x1="95.5" y1="395.5" x2="95.5" y2="398.9" stroke="#404040" stroke-width="0.9"/><line x1="97.7" y1="395.5" x2="97.7" y2="398.9" stroke="#404040" stroke-width="0.9"/><line x1="99.7" y1="395.5" x2="99.7" y2="398.9" stroke="#404040" stroke-width="0.9"/><line x1="101.5" y1="395.5" x2="101.5" y2="401.3" stroke="#404040" stroke-width="1"/><line x1="112.8" y1="395.5" x2="112.8" y2="398.9" stroke="#404040" stroke-width="0.9"/><line x1="119.4" y1="395.5" x2="119.4" y2="398.9" stroke="#404040" stroke-width="0.9"/><line x1="124.1" y1="395.5" x2="124.1" y2="398.9" stroke="#404040" stroke-width="0.9"/><line x1="127.7" y1="395.5" x2="127.7" y2="398.9" stroke="#404040" stroke-width="0.9"/><line x1="130.7" y1="395.5" x2="130.7" y2="398.9" stroke="#404040" stroke-width="0.9"/><line x1="133.2" y1="395.5" x2="133.2" y2="398.9" stroke="#404040" stroke-width="0.9"/><line x1="135.4" y1="395.5" x2="135.4" y2="398.9" stroke="#404040" stroke-width="0.9"/><line x1="137.3" y1="395.5" x2="137.3" y2="398.9" stroke="#404040" stroke-width="0.9"/><line x1="139" y1="395.5" x2="139" y2="401.3" stroke="#404040" stroke-width="1"/><line x1="150" y1="395.5" x2="150" y2="398.9" stroke="#404040" stroke-width="0.9"/><line x1="156.4" y1="395.5" x2="156.4" y2="398.9" stroke="#404040" stroke-width="0.9"/><line x1="161" y1="395.5" x2="161" y2="398.9" stroke="#404040" stroke-width="0.9"/><line x1="164.5" y1="395.5" x2="164.5" y2="398.9" stroke="#404040" stroke-width="0.9"/><line x1="167.4" y1="395.5" x2="167.4" y2="398.9" stroke="#404040" stroke-width="0.9"/><line x1="169.8" y1="395.5" x2="169.8" y2="398.9" stroke="#404040" stroke-width="0.9"/><line x1="172" y1="395.5" x2="172" y2="398.9" stroke="#404040" stroke-width="0.9"/><line x1="173.8" y1="395.5" x2="173.8" y2="398.9" stroke="#404040" stroke-width="0.9"/><line x1="175.5" y1="395.5" x2="175.5" y2="401.3" stroke="#404040" stroke-width="1"/><line x1="186.5" y1="395.5" x2="186.5" y2="398.9" stroke="#404040" stroke-width="0.9"/><line x1="28.5" y1="395.6" x2="23.5" y2="395.6" stroke="#404040" stroke-width="1"/><line x1="28.5" y1="361.7" x2="26.1" y2="361.7" stroke="#4a4a4a" stroke-width="0.85"/><line x1="28.5" y1="363.2" x2="26.1" y2="363.2" stroke="#4a4a4a" stroke-width="0.85"/><line x1="28.5" y1="364.7" x2="26.1" y2="364.7" stroke="#4a4a4a" stroke-width="0.85"/><line x1="28.5" y1="366.2" x2="26.1" y2="366.2" stroke="#4a4a4a" stroke-width="0.85"/><line x1="28.5" y1="367.7" x2="26.1" y2="367.7" stroke="#4a4a4a" stroke-width="0.85"/><line x1="28.5" y1="369.2" x2="26.1" y2="369.2" stroke="#4a4a4a" stroke-width="0.85"/><line x1="28.5" y1="370.7" x2="26.1" y2="370.7" stroke="#4a4a4a" stroke-width="0.85"/><line x1="28.5" y1="372.2" x2="26.1" y2="372.2" stroke="#4a4a4a" stroke-width="0.85"/><line x1="28.5" y1="373.7" x2="26.1" y2="373.7" stroke="#4a4a4a" stroke-width="0.85"/><line x1="28.5" y1="375.2" x2="26.1" y2="375.2" stroke="#4a4a4a" stroke-width="0.85"/><line x1="28.5" y1="376.7" x2="26.1" y2="376.7" stroke="#4a4a4a" stroke-width="0.85"/><line x1="28.5" y1="378.2" x2="26.1" y2="378.2" stroke="#4a4a4a" stroke-width="0.85"/><line x1="28.5" y1="379.7" x2="26.1" y2="379.7" stroke="#4a4a4a" stroke-width="0.85"/><line x1="28.5" y1="381.2" x2="26.1" y2="381.2" stroke="#4a4a4a" stroke-width="0.85"/><line x1="28.5" y1="382.7" x2="26.1" y2="382.7" stroke="#4a4a4a" stroke-width="0.85"/><line x1="28.5" y1="384.2" x2="26.1" y2="384.2" stroke="#4a4a4a" stroke-width="0.85"/><line x1="28.5" y1="384.9" x2="23.9" y2="384.9" stroke="#404040" stroke-width="1"/><line x1="28.5" y1="373" x2="23.9" y2="373" stroke="#404040" stroke-width="1"/><line x1="28.5" y1="361.7" x2="23.9" y2="361.7" stroke="#404040" stroke-width="1"/><line x1="28.5" y1="350.4" x2="26.4" y2="350.4" stroke="#404040" stroke-width="0.9"/><line x1="28.5" y1="343.7" x2="26.4" y2="343.7" stroke="#404040" stroke-width="0.9"/><line x1="28.5" y1="339" x2="26.4" y2="339" stroke="#404040" stroke-width="0.9"/><line x1="28.5" y1="335.3" x2="26.4" y2="335.3" stroke="#404040" stroke-width="0.9"/><line x1="28.5" y1="332.4" x2="26.4" y2="332.4" stroke="#404040" stroke-width="0.9"/><line x1="28.5" y1="329.8" x2="26.4" y2="329.8" stroke="#404040" stroke-width="0.9"/><line x1="28.5" y1="327.7" x2="26.4" y2="327.7" stroke="#404040" stroke-width="0.9"/><line x1="28.5" y1="325.7" x2="26.4" y2="325.7" stroke="#404040" stroke-width="0.9"/><line x1="28.5" y1="324" x2="23.9" y2="324" stroke="#404040" stroke-width="1"/><line x1="28.5" y1="312.7" x2="26.4" y2="312.7" stroke="#404040" stroke-width="0.9"/><line x1="28.5" y1="306.1" x2="26.4" y2="306.1" stroke="#404040" stroke-width="0.9"/><line x1="28.5" y1="301.4" x2="26.4" y2="301.4" stroke="#404040" stroke-width="0.9"/><line x1="28.5" y1="297.7" x2="26.4" y2="297.7" stroke="#404040" stroke-width="0.9"/><line x1="28.5" y1="294.7" x2="26.4" y2="294.7" stroke="#404040" stroke-width="0.9"/><line x1="28.5" y1="292.2" x2="26.4" y2="292.2" stroke="#404040" stroke-width="0.9"/><line x1="28.5" y1="290" x2="26.4" y2="290" stroke="#404040" stroke-width="0.9"/><line x1="28.5" y1="288.1" x2="26.4" y2="288.1" stroke="#404040" stroke-width="0.9"/><line x1="28.5" y1="286.4" x2="23.9" y2="286.4" stroke="#404040" stroke-width="1"/><line x1="28.5" y1="275.7" x2="26.4" y2="275.7" stroke="#404040" stroke-width="0.9"/><line x1="28.5" y1="269.4" x2="26.4" y2="269.4" stroke="#404040" stroke-width="0.9"/><line x1="28.5" y1="264.9" x2="26.4" y2="264.9" stroke="#404040" stroke-width="0.9"/><line x1="28.5" y1="261.4" x2="26.4" y2="261.4" stroke="#404040" stroke-width="0.9"/><line x1="28.5" y1="258.6" x2="26.4" y2="258.6" stroke="#404040" stroke-width="0.9"/><line x1="28.5" y1="256.2" x2="26.4" y2="256.2" stroke="#404040" stroke-width="0.9"/><line x1="28.5" y1="254.2" x2="26.4" y2="254.2" stroke="#404040" stroke-width="0.9"/><line x1="28.5" y1="252.3" x2="26.4" y2="252.3" stroke="#404040" stroke-width="0.9"/><line x1="28.5" y1="250.7" x2="23.9" y2="250.7" stroke="#404040" stroke-width="1"/><line x1="28.5" y1="240" x2="26.4" y2="240" stroke="#404040" stroke-width="0.9"/><text x="26.1" y="412" font-size="6.3" text-anchor="middle" fill="#3f3f3f" font-weight="normal">-218</text><text x="51" y="408" font-size="6.3" text-anchor="middle" fill="#3f3f3f" font-weight="normal">0</text><text x="62" y="409" font-size="6.4" text-anchor="middle" fill="#333" font-weight="bold">10<tspan dy="-3.1" font-size="5.632000000000001">2</tspan></text><text x="101" y="409" font-size="6.4" text-anchor="middle" fill="#333" font-weight="bold">10<tspan dy="-3.1" font-size="5.632000000000001">3</tspan></text><text x="138.5" y="409" font-size="6.4" text-anchor="middle" fill="#333" font-weight="bold">10<tspan dy="-3.1" font-size="5.632000000000001">4</tspan></text><text x="175" y="409" font-size="6.4" text-anchor="middle" fill="#333" font-weight="bold">10<tspan dy="-3.1" font-size="5.632000000000001">5</tspan></text><text x="18" y="398.2" font-size="6.3" text-anchor="start" fill="#3f3f3f" font-weight="normal" transform="rotate(-90 18 398.2)">-225</text><text x="23.9" y="373" font-size="6.3" text-anchor="middle" fill="#3f3f3f" font-weight="normal" transform="rotate(-90 23.9 373)">0</text><text x="24.1" y="362.2" font-size="6.4" text-anchor="middle" fill="#333" font-weight="bold" transform="rotate(-90 24.1 362.2)">10<tspan dy="-3.1" font-size="5.632000000000001">2</tspan></text><text x="24.1" y="324.5" font-size="6.4" text-anchor="middle" fill="#333" font-weight="bold" transform="rotate(-90 24.1 324.5)">10<tspan dy="-3.1" font-size="5.632000000000001">3</tspan></text><text x="24.1" y="286.9" font-size="6.4" text-anchor="middle" fill="#333" font-weight="bold" transform="rotate(-90 24.1 286.9)">10<tspan dy="-3.1" font-size="5.632000000000001">4</tspan></text><text x="24.1" y="251.2" font-size="6.4" text-anchor="middle" fill="#333" font-weight="bold" transform="rotate(-90 24.1 251.2)">10<tspan dy="-3.1" font-size="5.632000000000001">5</tspan></text><rect x="76" y="276.7" width="66.9" height="50.3" fill="none" stroke="#333" stroke-width="0.8"/><rect x="142.9" y="276.7" width="46.5" height="65.3" fill="none" stroke="#333" stroke-width="0.8"/><rect x="142.9" y="342" width="45.4" height="53.6" fill="none" stroke="#333" stroke-width="0.8"/><text x="112" y="305.5" font-size="6.8" text-anchor="middle" fill="#222" font-weight="normal">non-classical</text><text x="164.6" y="322.2" font-size="6.9" text-anchor="middle" fill="#222" font-weight="normal">intermediate</text><text x="168.6" y="372.8" font-size="6.8" text-anchor="middle" fill="#222" font-weight="normal">classical</text><clipPath id="c6"><rect x="300" y="280" width="90" height="63.6"/></clipPath><g clip-path="url(#c6)"><ellipse cx="340.6" cy="326" rx="9.2" ry="18" fill="#cc00ff" transform="rotate(16 340.6 326)"/></g><path transform="scale(.5)" d="M701 585h2m-7 1h2m5 0h2m0 2h2m-6 4h2m-1 1h2m-19 1h2m13 1h2m-23 2h2m8 0h2m6 0h2m1 0h2m-6 1h2m1 0h3m2 0h2m-26 1h2m-4 1h2m1 0h2m8 0h2m1 0h3m-9 1h2m3 0h2m6 0h2m7 0h2m-25 1h2m1 0h2m4 0h3m-17 1h2m1 0h2m9 0h4m-21 1h2m4 0h3m0 0h2m0 0h2m0 0h2m0 0h2m0 0h3m-21 1h3m0 0h4m7 0h3m10 0h2m0 0h3m-33 1h2m1 0h3m0 0h3m0 0h2m3 0h2m9 0h3m-19 1h2m1 0h3m1 0h2m1 0h2m3 0h4m-25 1h2m0 0h2m2 0h4m2 0h4m0 0h4m0 0h2m2 0h2m8 0h2m-44 1h2m3 0h2m6 0h2m2 0h2m0 0h2m1 0h2m3 0h2m8 0h2m-35 1h2m1 0h2m0 0h3m1 0h4m0 0h3m0 0h2m0 0h2m3 0h4m0 0h2m6 0h2m-45 1h2m4 0h2m1 0h4m1 0h2m0 0h4m1 0h3m0 0h6m0 0h4m1 0h3m-29 1h4m0 0h2m0 0h9m0 0h2m0 0h4m1 0h6m-32 1h2m1 0h3m2 0h3m0 0h3m0 0h8m1 0h2m1 0h2m0 0h3m1 0h2m-36 1h3m0 0h2m0 0h6m0 0h2m0 0h9m1 0h3m1 0h3m0 0h2m0 0h3m5 0h2m-41 1h3m0 0h3m0 0h8m2 0h8m0 0h6m0 0h3m1 0h2m1 0h2m-43 1h4m1 0h4m0 0h4m0 0h15m0 0h6m0 0h2m1 0h2m4 0h2m-48 1h2m1 0h2m3 0h4m2 0h2m0 0h3m0 0h13m1 0h2m0 0h3m0 0h3m11 0h2m-47 1h2m0 0h2m0 0h4m0 0h8m0 0h2m2 0h6m0 0h5m0 0h2m0 0h4m4 0h2m-51 1h2m2 0h2m0 0h2m0 0h2m2 0h2m0 0h7m8 0h12m0 0h2m-41 1h2m0 0h2m0 0h6m0 0h8m11 0h6m0 0h3m1 0h4m0 0h3m-43 1h12m14 0h7m0 0h2m1 0h2m0 0h2m-47 1h2m4 0h2m2 0h8m17 0h7m0 0h3m4 0h2m-46 1h2m1 0h2m0 0h7m18 0h10m0 0h3m-45 1h2m0 0h2m0 0h4m0 0h4m21 0h4m0 0h4m0 0h2m3 0h2m-52 1h2m4 0h2m1 0h3m0 0h5m20 0h5m3 0h2m2 0h2m9 0h2m-65 1h2m6 0h10m23 0h7m1 0h3m6 0h2m-56 1h2m0 0h2m1 0h3m0 0h4m25 0h2m0 0h5m0 0h2m7 0h2m-53 1h3m1 0h7m25 0h4m0 0h3m0 0h3m-50 1h2m2 0h2m1 0h7m26 0h7m0 0h2m1 0h2m-49 1h5m0 0h5m28 0h2m0 0h5m1 0h3m-50 1h2m1 0h5m0 0h2m28 0h8m10 0h2m-60 1h2m1 0h8m30 0h3m0 0h2m1 0h3m0 0h2m-50 1h2m3 0h4m30 0h5m0 0h3m-51 1h2m3 0h2m0 0h6m30 0h3m0 0h3m1 0h2m-47 1h3m0 0h5m30 0h7m-55 1h2m3 0h3m2 0h3m1 0h3m32 0h5m-51 1h2m0 0h3m0 0h8m32 0h8m0 0h2m-52 1h2m1 0h5m34 0h6m0 0h2m10 0h2m-60 1h2m0 0h3m0 0h2m33 0h5m0 0h2m0 0h2m0 0h2m-60 1h2m4 0h3m0 0h2m0 0h5m33 0h8m-50 1h4m1 0h4m33 0h4m0 0h4m2 0h2m-57 1h2m3 0h6m34 0h5m0 0h4m-61 1h2m7 0h2m3 0h4m34 0h4m0 0h3m0 0h2m-55 1h2m1 0h9m34 0h6m0 0h2m-51 1h2m2 0h4m35 0h7m3 0h2m-57 1h2m2 0h5m36 0h3m0 0h2m2 0h2m1 0h2m2 0h2m-61 1h2m1 0h2m0 0h4m36 0h2m0 0h3m0 0h2m1 0h2m-55 1h2m1 0h3m0 0h2m37 0h7m-50 1h7m36 0h3m2 0h4m-54 1h2m0 0h4m0 0h3m35 0h2m0 0h4m5 0h2m-62 1h2m5 0h7m35 0h4m-45 1h5m36 0h5m4 0h2m-59 1h2m2 0h2m0 0h2m0 0h4m36 0h8m-54 1h2m0 0h8m35 0h6m0 0h2m3 0h2m-58 1h2m1 0h3m0 0h2m0 0h2m35 0h8m1 0h2m7 0h2m-66 1h3m0 0h3m0 0h5m35 0h7m-52 1h2m0 0h3m0 0h2m38 0h3m0 0h2m1 0h2m0 0h3m-56 1h2m0 0h3m0 0h3m37 0h3m2 0h2m-53 1h3m1 0h3m0 0h3m35 0h3m0 0h4m6 0h2m-62 1h2m3 0h3m0 0h3m36 0h4m0 0h3m0 0h2m1 0h2m0 0h2m-63 1h2m1 0h2m4 0h2m0 0h3m34 0h3m0 0h3m2 0h2m-51 1h2m1 0h2m0 0h2m34 0h6m0 0h2m1 0h2m1 0h2m-62 1h2m1 0h2m1 0h2m0 0h4m0 0h2m34 0h6m4 0h2m1 0h2m-61 1h3m1 0h8m33 0h2m0 0h2m0 0h2m0 0h2m-53 1h2m2 0h8m33 0h4m0 0h2m2 0h2m-55 1h2m0 0h2m0 0h2m0 0h6m33 0h8m1 0h2m-56 1h3m0 0h2m1 0h6m32 0h4m0 0h5m0 0h3m-60 1h2m2 0h2m0 0h2m0 0h5m0 0h3m31 0h6m0 0h2m1 0h2m-54 1h2m5 0h5m31 0h5m0 0h2m-46 1h2m0 0h3m1 0h2m30 0h5m0 0h4m2 0h2m-50 1h7m30 0h9m1 0h2m-52 1h2m0 0h8m29 0h5m0 0h3m2 0h2m-49 1h2m1 0h6m28 0h9m-52 1h2m4 0h3m0 0h6m27 0h7m1 0h3m1 0h2m-52 1h3m1 0h7m27 0h5m0 0h4m3 0h2m-55 1h2m1 0h2m0 0h4m1 0h2m0 0h3m25 0h4m0 0h4m2 0h2m-47 1h3m0 0h2m0 0h5m24 0h9m-45 1h3m3 0h6m23 0h8m0 0h2m5 0h2m-53 1h2m0 0h2m0 0h10m21 0h6m0 0h2m-43 1h2m1 0h3m1 0h8m20 0h10m2 0h2m-58 1h2m9 0h4m0 0h9m18 0h5m0 0h2m0 0h3m-47 1h2m8 0h10m16 0h2m0 0h4m1 0h2m6 0h2m-52 1h2m0 0h2m0 0h2m1 0h2m0 0h4m0 0h7m14 0h3m0 0h10m3 0h3m-49 1h2m2 0h4m1 0h5m0 0h3m11 0h2m0 0h10m0 0h2m-44 1h2m2 0h2m0 0h3m1 0h2m0 0h4m0 0h2m0 0h3m8 0h9m0 0h2m0 0h3m10 0h2m-51 1h2m1 0h4m0 0h2m0 0h10m0 0h15m3 0h2m1 0h2m-43 1h6m2 0h3m0 0h20m0 0h3m1 0h4m-43 1h2m9 0h2m0 0h20m0 0h5m-38 1h2m4 0h2m0 0h4m2 0h4m0 0h8m0 0h3m2 0h2m1 0h4m0 0h3m2 0h2m1 0h2m-49 1h2m6 0h2m0 0h2m3 0h5m1 0h3m0 0h6m0 0h3m0 0h7m5 0h2m-39 1h2m4 0h4m2 0h2m0 0h14m0 0h2m1 0h2m-37 1h2m3 0h3m0 0h3m0 0h3m0 0h7m0 0h2m0 0h5m0 0h3m4 0h3m-34 1h2m4 0h3m1 0h4m0 0h12m0 0h4m1 0h2m1 0h2m-42 1h2m5 0h2m1 0h2m1 0h3m0 0h4m1 0h8m0 0h2m0 0h3m4 0h2m3 0h2m-37 1h3m1 0h5m0 0h5m0 0h5m1 0h2m5 0h2m0 0h2m4 0h2m-34 1h3m0 0h2m1 0h3m0 0h3m0 0h3m3 0h2m0 0h4m1 0h2m0 0h2m-50 1h2m9 0h2m10 0h2m0 0h2m1 0h2m0 0h6m2 0h3m3 0h2m5 0h2m-32 1h4m1 0h3m2 0h2m1 0h3m0 0h3m14 0h2m-44 1h2m3 0h2m2 0h5m0 0h2m2 0h2m2 0h2m0 0h3m4 0h2m3 0h2m-41 1h2m21 0h2m1 0h2m14 0h2m-41 1h2m6 0h3m0 0h2m0 0h2m1 0h2m7 0h2m2 0h3m1 0h2m-29 1h3m12 0h2m2 0h2m0 0h2m0 0h2m-30 1h2m2 0h2m6 0h2m4 0h2m2 0h2m1 0h2m0 0h2m6 0h2m-23 1h2m5 0h3m-13 1h2m5 0h2m0 0h2m-5 1h2m2 0h2m-7 1h2m5 1h2m0 0h2m-24 1h2m13 0h2m-15 1h2m12 1h2m-3 1h2m-4 3h2m0 7h2" stroke="#cc00ff" stroke-width="2" fill="none"/><path transform="scale(.5)" d="M646 687h3m1 0h2m1 0h2m3 0h2m2 0h2m1 0h5m6 0h3m0 0h2m4 0h3m-42 1h2m2 0h2m1 0h3m0 0h6m2 0h4m0 0h8m1 0h2m0 0h2m0 0h3m1 0h2m1 0h2m-53 1h2m0 0h2m2 0h4m2 0h2m0 0h3m0 0h2m0 0h5m0 0h4m4 0h2m1 0h2m1 0h3m0 0h2m0 0h2m-43 1h2m8 0h2m2 0h4m3 0h7m9 0h3m0 0h4m-43 1h2m6 0h2m3 0h2m0 0h3m0 0h11m0 0h4m0 0h2m8 0h5m-53 1h2m15 0h2m1 0h2m0 0h8m0 0h5m0 0h2m0 0h2m0 0h2m3 0h2m1 0h2m6 0h2m1 0h2m-58 1h3m5 0h2m0 0h2m1 0h3m1 0h11m0 0h4m2 0h4m0 0h4m0 0h2m0 0h2m4 0h2m-55 1h2m3 0h2m9 0h2m6 0h2m1 0h8m0 0h2m1 0h2m0 0h2m1 0h2m1 0h2m3 0h2m-42 1h2m8 0h2m1 0h4m0 0h6m0 0h2m0 0h2m1 0h4m0 0h2m0 0h4m1 0h2m-45 1h2m1 0h2m3 0h9m2 0h5m4 0h2m1 0h3m0 0h2m0 0h4m2 0h2m0 0h2m-33 1h3m0 0h4m1 0h3m0 0h4m0 0h2m0 0h6m2 0h3m-33 1h2m3 0h5m0 0h4m0 0h2m0 0h3m0 0h2m1 0h2m0 0h2m0 0h2m4 0h3m1 0h2m-53 1h2m8 0h2m8 0h2m0 0h2m2 0h4m0 0h2m1 0h4m0 0h2m1 0h2m0 0h3m9 0h2m1 0h3m-47 1h2m1 0h2m4 0h3m0 0h2m0 0h2m0 0h2m0 0h3m0 0h3m0 0h4m1 0h2m2 0h3m10 0h2m2 0h2m-55 1h2m1 0h3m2 0h7m2 0h2m1 0h5m0 0h4m0 0h3m1 0h4m6 0h2m0 0h2m-49 1h2m8 0h4m0 0h4m0 0h2m0 0h3m0 0h3m0 0h8m0 0h2m1 0h2m14 0h2m-58 1h2m0 0h2m3 0h2m2 0h2m0 0h2m1 0h2m0 0h4m0 0h2m1 0h3m0 0h3m6 0h3m0 0h2m5 0h2m7 0h2m-65 1h2m13 0h2m3 0h3m0 0h2m1 0h5m0 0h3m0 0h2m3 0h3m0 0h3m5 0h2m2 0h2m-43 1h2m1 0h2m3 0h6m6 0h2m0 0h5m0 0h2m0 0h2m0 0h2m0 0h2m0 0h2m2 0h2m2 0h2m-43 1h2m5 0h2m0 0h3m1 0h2m0 0h2m1 0h2m0 0h2m7 0h3m0 0h2m4 0h2m-47 1h2m7 0h2m2 0h3m3 0h5m0 0h3m0 0h3m1 0h2m2 0h3m-33 1h2m0 0h3m1 0h2m0 0h2m5 0h2m2 0h2m2 0h2m0 0h3m0 0h2m2 0h2m5 0h2m-35 1h2m0 0h2m0 0h2m0 0h3m0 0h2m0 0h5m1 0h5m4 0h2m2 0h2m0 0h2m3 0h2m-40 1h2m4 0h2m2 0h3m4 0h4m4 0h2m1 0h2m-33 1h2m3 0h2m0 0h2m6 0h2m0 0h2m0 0h2m0 0h2m3 0h2m1 0h4m-33 1h2m9 0h2m1 0h3m5 0h2m4 0h2m-29 1h2m1 0h2m19 0h3m-22 1h2m2 0h2m16 0h2m5 0h2m-30 1h2m2 0h2m5 0h2m3 0h3m-33 1h2m18 0h2m0 0h2m1 0h2m1 0h2m3 0h2m-25 1h2m0 0h2m17 0h2m1 0h2m-22 1h2m2 0h2m8 0h2m9 0h2m-15 1h2m9 0h2m-16 1h3m3 0h2m2 0h2m-15 2h2m9 6h2m2 2h2m-21 2h2" stroke="#cc00ff" stroke-width="2" fill="none"/><path transform="scale(.5)" d="M645 679h2m8 0h2m-12 3h2m13 1h2m-10 3h2m-10 4h2m22 0h2m-9 2h2m-22 2h2m4 0h2m13 1h2m-23 1h2m12 1h2m-29 2h2m3 0h2m1 0h2m10 0h2m0 1h3m1 0h2m4 0h2m-17 2h2m9 0h2m-37 1h2m12 0h2m0 0h2m2 0h2m0 0h2m0 0h2m1 0h2m5 0h3m-20 1h2m4 0h2m1 0h2m5 0h2m-20 1h2m12 0h2m-6 1h2m13 0h2m-34 1h2m20 0h2m10 0h2m0 0h2m-13 1h2m-21 1h2m4 0h2m2 0h2m-18 1h2m2 0h2m3 0h2m16 0h2m-33 1h2m28 0h2m6 0h2m0 0h2m4 0h2m-50 1h2m8 0h2m5 0h3m5 0h2m10 0h2m-14 1h3m-29 1h2m3 0h2m1 0h2m5 0h2m3 0h2m10 0h2m2 0h2m-58 1h2m19 0h2m0 0h2m6 0h2m0 0h2m7 0h2m3 0h2m0 0h2m4 0h2m-44 1h2m14 0h2m1 0h2m14 0h2m5 0h2m6 0h2m-44 1h2m3 0h2m3 0h2m5 0h2m4 0h3m1 0h3m-36 1h2m15 0h3m3 0h2m3 0h3m4 0h2m3 0h2m2 0h3m2 0h2m-45 1h2m8 0h2m2 0h2m14 0h2m-18 1h2m0 0h2m-12 1h2m1 0h2m5 0h2m13 0h2m6 0h2m-42 1h2m16 0h2m14 0h2m-48 1h2m13 0h2m9 0h2m1 0h2m2 0h2m4 0h2m7 0h2m8 0h2m-48 1h2m10 0h3m14 0h2m-42 1h2m7 0h2m2 0h2m16 0h2m1 0h2m8 0h2m-17 1h2m5 0h2m4 0h2m1 0h2m-39 1h2m3 0h2m0 0h2m7 0h2m3 0h2m1 0h2m7 0h2m3 0h2m-40 1h2m5 0h3m-6 1h3m8 0h2m1 0h2m10 0h2m-42 1h2m13 0h2m23 0h2m2 0h2m-32 1h2m10 0h2m1 0h2m0 0h2m0 0h2m4 0h2m3 0h2m-29 1h2m4 1h2m23 0h2m-27 1h2m14 0h2m-34 1h2m7 1h2m13 0h3m-22 1h2m7 0h2m19 0h2m-9 1h2m10 1h2m-26 1h2m-26 3h2m11 1h2m-4 1h2m12 1h2m9 1h2m-7 1h2m-15 3h2m23 1h2m8 6h2" stroke="#d840ff" stroke-width="2" fill="none"/><rect x="226.5" y="233.5" width="164" height="160" fill="none" stroke="#404040" stroke-width="1"/><line x1="318.5" y1="233.5" x2="318.5" y2="393.5" stroke="#404040" stroke-width="1"/><line x1="226.5" y1="343.5" x2="390.5" y2="343.5" stroke="#404040" stroke-width="1"/><text x="297" y="231" font-size="8.4" text-anchor="middle" fill="#3f3f3f" font-weight="normal">classical</text><text x="307" y="416.5" font-size="8.0" text-anchor="middle" fill="#3f3f3f" font-weight="normal">TH Brilliant Violet 421-A</text><text x="209.5" y="313" font-size="8.1" text-anchor="middle" fill="#3f3f3f" font-weight="normal" transform="rotate(-90 209.5 313)">DAT APC-A</text><line x1="226.4" y1="393.5" x2="226.4" y2="399.5" stroke="#404040" stroke-width="1"/><line x1="224.5" y1="393.5" x2="224.5" y2="396.9" stroke="#4a4a4a" stroke-width="0.85"/><line x1="226" y1="393.5" x2="226" y2="396.9" stroke="#4a4a4a" stroke-width="0.85"/><line x1="227.5" y1="393.5" x2="227.5" y2="396.9" stroke="#4a4a4a" stroke-width="0.85"/><line x1="229" y1="393.5" x2="229" y2="396.9" stroke="#4a4a4a" stroke-width="0.85"/><line x1="230.5" y1="393.5" x2="230.5" y2="396.9" stroke="#4a4a4a" stroke-width="0.85"/><line x1="232" y1="393.5" x2="232" y2="396.9" stroke="#4a4a4a" stroke-width="0.85"/><line x1="233.5" y1="393.5" x2="233.5" y2="396.9" stroke="#4a4a4a" stroke-width="0.85"/><line x1="235" y1="393.5" x2="235" y2="396.9" stroke="#4a4a4a" stroke-width="0.85"/><line x1="236.5" y1="393.5" x2="236.5" y2="396.9" stroke="#4a4a4a" stroke-width="0.85"/><line x1="238" y1="393.5" x2="238" y2="396.9" stroke="#4a4a4a" stroke-width="0.85"/><line x1="239.5" y1="393.5" x2="239.5" y2="396.9" stroke="#4a4a4a" stroke-width="0.85"/><line x1="241" y1="393.5" x2="241" y2="396.9" stroke="#4a4a4a" stroke-width="0.85"/><line x1="242.5" y1="393.5" x2="242.5" y2="396.9" stroke="#4a4a4a" stroke-width="0.85"/><line x1="244" y1="393.5" x2="244" y2="396.9" stroke="#4a4a4a" stroke-width="0.85"/><line x1="245.5" y1="393.5" x2="245.5" y2="396.9" stroke="#4a4a4a" stroke-width="0.85"/><line x1="247" y1="393.5" x2="247" y2="396.9" stroke="#4a4a4a" stroke-width="0.85"/><line x1="248.5" y1="393.5" x2="248.5" y2="396.9" stroke="#4a4a4a" stroke-width="0.85"/><line x1="250" y1="393.5" x2="250" y2="396.9" stroke="#4a4a4a" stroke-width="0.85"/><line x1="251.5" y1="393.5" x2="251.5" y2="396.9" stroke="#4a4a4a" stroke-width="0.85"/><line x1="253" y1="393.5" x2="253" y2="396.9" stroke="#4a4a4a" stroke-width="0.85"/><line x1="254.5" y1="393.5" x2="254.5" y2="396.9" stroke="#4a4a4a" stroke-width="0.85"/><line x1="256" y1="393.5" x2="256" y2="396.9" stroke="#4a4a4a" stroke-width="0.85"/><line x1="257.5" y1="393.5" x2="257.5" y2="396.9" stroke="#4a4a4a" stroke-width="0.85"/><line x1="259" y1="393.5" x2="259" y2="396.9" stroke="#4a4a4a" stroke-width="0.85"/><line x1="260.5" y1="393.5" x2="260.5" y2="396.9" stroke="#4a4a4a" stroke-width="0.85"/><line x1="224.5" y1="393.5" x2="224.5" y2="399.3" stroke="#404040" stroke-width="1"/><line x1="246" y1="393.5" x2="246" y2="399.3" stroke="#404040" stroke-width="1"/><line x1="260.8" y1="393.5" x2="260.8" y2="399.3" stroke="#404040" stroke-width="1"/><line x1="272.3" y1="393.5" x2="272.3" y2="396.9" stroke="#404040" stroke-width="0.9"/><line x1="279" y1="393.5" x2="279" y2="396.9" stroke="#404040" stroke-width="0.9"/><line x1="283.8" y1="393.5" x2="283.8" y2="396.9" stroke="#404040" stroke-width="0.9"/><line x1="287.5" y1="393.5" x2="287.5" y2="396.9" stroke="#404040" stroke-width="0.9"/><line x1="290.5" y1="393.5" x2="290.5" y2="396.9" stroke="#404040" stroke-width="0.9"/><line x1="293.1" y1="393.5" x2="293.1" y2="396.9" stroke="#404040" stroke-width="0.9"/><line x1="295.3" y1="393.5" x2="295.3" y2="396.9" stroke="#404040" stroke-width="0.9"/><line x1="297.3" y1="393.5" x2="297.3" y2="396.9" stroke="#404040" stroke-width="0.9"/><line x1="299" y1="393.5" x2="299" y2="399.3" stroke="#404040" stroke-width="1"/><line x1="310.4" y1="393.5" x2="310.4" y2="396.9" stroke="#404040" stroke-width="0.9"/><line x1="317.1" y1="393.5" x2="317.1" y2="396.9" stroke="#404040" stroke-width="0.9"/><line x1="321.9" y1="393.5" x2="321.9" y2="396.9" stroke="#404040" stroke-width="0.9"/><line x1="325.6" y1="393.5" x2="325.6" y2="396.9" stroke="#404040" stroke-width="0.9"/><line x1="328.6" y1="393.5" x2="328.6" y2="396.9" stroke="#404040" stroke-width="0.9"/><line x1="331.1" y1="393.5" x2="331.1" y2="396.9" stroke="#404040" stroke-width="0.9"/><line x1="333.3" y1="393.5" x2="333.3" y2="396.9" stroke="#404040" stroke-width="0.9"/><line x1="335.3" y1="393.5" x2="335.3" y2="396.9" stroke="#404040" stroke-width="0.9"/><line x1="337" y1="393.5" x2="337" y2="399.3" stroke="#404040" stroke-width="1"/><line x1="348" y1="393.5" x2="348" y2="396.9" stroke="#404040" stroke-width="0.9"/><line x1="354.5" y1="393.5" x2="354.5" y2="396.9" stroke="#404040" stroke-width="0.9"/><line x1="359" y1="393.5" x2="359" y2="396.9" stroke="#404040" stroke-width="0.9"/><line x1="362.6" y1="393.5" x2="362.6" y2="396.9" stroke="#404040" stroke-width="0.9"/><line x1="365.5" y1="393.5" x2="365.5" y2="396.9" stroke="#404040" stroke-width="0.9"/><line x1="367.9" y1="393.5" x2="367.9" y2="396.9" stroke="#404040" stroke-width="0.9"/><line x1="370.1" y1="393.5" x2="370.1" y2="396.9" stroke="#404040" stroke-width="0.9"/><line x1="371.9" y1="393.5" x2="371.9" y2="396.9" stroke="#404040" stroke-width="0.9"/><line x1="373.6" y1="393.5" x2="373.6" y2="399.3" stroke="#404040" stroke-width="1"/><line x1="384.6" y1="393.5" x2="384.6" y2="396.9" stroke="#404040" stroke-width="0.9"/><line x1="226.5" y1="393.6" x2="221.5" y2="393.6" stroke="#404040" stroke-width="1"/><line x1="226.5" y1="358" x2="224.1" y2="358" stroke="#4a4a4a" stroke-width="0.85"/><line x1="226.5" y1="359.5" x2="224.1" y2="359.5" stroke="#4a4a4a" stroke-width="0.85"/><line x1="226.5" y1="361" x2="224.1" y2="361" stroke="#4a4a4a" stroke-width="0.85"/><line x1="226.5" y1="362.5" x2="224.1" y2="362.5" stroke="#4a4a4a" stroke-width="0.85"/><line x1="226.5" y1="364" x2="224.1" y2="364" stroke="#4a4a4a" stroke-width="0.85"/><line x1="226.5" y1="365.5" x2="224.1" y2="365.5" stroke="#4a4a4a" stroke-width="0.85"/><line x1="226.5" y1="367" x2="224.1" y2="367" stroke="#4a4a4a" stroke-width="0.85"/><line x1="226.5" y1="368.5" x2="224.1" y2="368.5" stroke="#4a4a4a" stroke-width="0.85"/><line x1="226.5" y1="370" x2="224.1" y2="370" stroke="#4a4a4a" stroke-width="0.85"/><line x1="226.5" y1="371.5" x2="224.1" y2="371.5" stroke="#4a4a4a" stroke-width="0.85"/><line x1="226.5" y1="373" x2="224.1" y2="373" stroke="#4a4a4a" stroke-width="0.85"/><line x1="226.5" y1="374.5" x2="224.1" y2="374.5" stroke="#4a4a4a" stroke-width="0.85"/><line x1="226.5" y1="376" x2="224.1" y2="376" stroke="#4a4a4a" stroke-width="0.85"/><line x1="226.5" y1="377.5" x2="224.1" y2="377.5" stroke="#4a4a4a" stroke-width="0.85"/><line x1="226.5" y1="379" x2="224.1" y2="379" stroke="#4a4a4a" stroke-width="0.85"/><line x1="226.5" y1="380.5" x2="224.1" y2="380.5" stroke="#4a4a4a" stroke-width="0.85"/><line x1="226.5" y1="382" x2="224.1" y2="382" stroke="#4a4a4a" stroke-width="0.85"/><line x1="226.5" y1="383.5" x2="224.1" y2="383.5" stroke="#4a4a4a" stroke-width="0.85"/><line x1="226.5" y1="385" x2="224.1" y2="385" stroke="#4a4a4a" stroke-width="0.85"/><line x1="226.5" y1="386.5" x2="224.1" y2="386.5" stroke="#4a4a4a" stroke-width="0.85"/><line x1="226.5" y1="388" x2="224.1" y2="388" stroke="#4a4a4a" stroke-width="0.85"/><line x1="226.5" y1="389.5" x2="224.1" y2="389.5" stroke="#4a4a4a" stroke-width="0.85"/><line x1="226.5" y1="391" x2="224.1" y2="391" stroke="#4a4a4a" stroke-width="0.85"/><line x1="226.5" y1="392.5" x2="224.1" y2="392.5" stroke="#4a4a4a" stroke-width="0.85"/><line x1="226.5" y1="394" x2="224.1" y2="394" stroke="#4a4a4a" stroke-width="0.85"/><line x1="226.5" y1="394.9" x2="221.9" y2="394.9" stroke="#404040" stroke-width="1"/><line x1="226.5" y1="376" x2="221.9" y2="376" stroke="#404040" stroke-width="1"/><line x1="226.5" y1="358" x2="221.9" y2="358" stroke="#404040" stroke-width="1"/><line x1="226.5" y1="346.6" x2="224.4" y2="346.6" stroke="#404040" stroke-width="0.9"/><line x1="226.5" y1="339.9" x2="224.4" y2="339.9" stroke="#404040" stroke-width="0.9"/><line x1="226.5" y1="335.1" x2="224.4" y2="335.1" stroke="#404040" stroke-width="0.9"/><line x1="226.5" y1="331.4" x2="224.4" y2="331.4" stroke="#404040" stroke-width="0.9"/><line x1="226.5" y1="328.4" x2="224.4" y2="328.4" stroke="#404040" stroke-width="0.9"/><line x1="226.5" y1="325.9" x2="224.4" y2="325.9" stroke="#404040" stroke-width="0.9"/><line x1="226.5" y1="323.7" x2="224.4" y2="323.7" stroke="#404040" stroke-width="0.9"/><line x1="226.5" y1="321.7" x2="224.4" y2="321.7" stroke="#404040" stroke-width="0.9"/><line x1="226.5" y1="320" x2="221.9" y2="320" stroke="#404040" stroke-width="1"/><line x1="226.5" y1="309.2" x2="224.4" y2="309.2" stroke="#404040" stroke-width="0.9"/><line x1="226.5" y1="302.8" x2="224.4" y2="302.8" stroke="#404040" stroke-width="0.9"/><line x1="226.5" y1="298.3" x2="224.4" y2="298.3" stroke="#404040" stroke-width="0.9"/><line x1="226.5" y1="294.8" x2="224.4" y2="294.8" stroke="#404040" stroke-width="0.9"/><line x1="226.5" y1="292" x2="224.4" y2="292" stroke="#404040" stroke-width="0.9"/><line x1="226.5" y1="289.6" x2="224.4" y2="289.6" stroke="#404040" stroke-width="0.9"/><line x1="226.5" y1="287.5" x2="224.4" y2="287.5" stroke="#404040" stroke-width="0.9"/><line x1="226.5" y1="285.6" x2="224.4" y2="285.6" stroke="#404040" stroke-width="0.9"/><line x1="226.5" y1="284" x2="221.9" y2="284" stroke="#404040" stroke-width="1"/><line x1="226.5" y1="273.2" x2="224.4" y2="273.2" stroke="#404040" stroke-width="0.9"/><line x1="226.5" y1="266.8" x2="224.4" y2="266.8" stroke="#404040" stroke-width="0.9"/><line x1="226.5" y1="262.3" x2="224.4" y2="262.3" stroke="#404040" stroke-width="0.9"/><line x1="226.5" y1="258.8" x2="224.4" y2="258.8" stroke="#404040" stroke-width="0.9"/><line x1="226.5" y1="256" x2="224.4" y2="256" stroke="#404040" stroke-width="0.9"/><line x1="226.5" y1="253.6" x2="224.4" y2="253.6" stroke="#404040" stroke-width="0.9"/><line x1="226.5" y1="251.5" x2="224.4" y2="251.5" stroke="#404040" stroke-width="0.9"/><line x1="226.5" y1="249.6" x2="224.4" y2="249.6" stroke="#404040" stroke-width="0.9"/><line x1="226.5" y1="248" x2="221.9" y2="248" stroke="#404040" stroke-width="1"/><line x1="226.5" y1="237.2" x2="224.4" y2="237.2" stroke="#404040" stroke-width="0.9"/><text x="223.9" y="410" font-size="6.3" text-anchor="middle" fill="#3f3f3f" font-weight="normal">-157</text><text x="246" y="406" font-size="6.3" text-anchor="middle" fill="#3f3f3f" font-weight="normal">0</text><text x="260.3" y="407" font-size="6.4" text-anchor="middle" fill="#333" font-weight="bold">10<tspan dy="-3.1" font-size="5.632000000000001">2</tspan></text><text x="298.5" y="407" font-size="6.4" text-anchor="middle" fill="#333" font-weight="bold">10<tspan dy="-3.1" font-size="5.632000000000001">3</tspan></text><text x="336.5" y="407" font-size="6.4" text-anchor="middle" fill="#333" font-weight="bold">10<tspan dy="-3.1" font-size="5.632000000000001">4</tspan></text><text x="373.1" y="407" font-size="6.4" text-anchor="middle" fill="#333" font-weight="bold">10<tspan dy="-3.1" font-size="5.632000000000001">5</tspan></text><text x="216" y="396.2" font-size="6.3" text-anchor="start" fill="#3f3f3f" font-weight="normal" transform="rotate(-90 216 396.2)">-105</text><text x="221.9" y="376" font-size="6.3" text-anchor="middle" fill="#3f3f3f" font-weight="normal" transform="rotate(-90 221.9 376)">0</text><text x="222.1" y="358.5" font-size="6.4" text-anchor="middle" fill="#333" font-weight="bold" transform="rotate(-90 222.1 358.5)">10<tspan dy="-3.1" font-size="5.632000000000001">2</tspan></text><text x="222.1" y="320.5" font-size="6.4" text-anchor="middle" fill="#333" font-weight="bold" transform="rotate(-90 222.1 320.5)">10<tspan dy="-3.1" font-size="5.632000000000001">3</tspan></text><text x="222.1" y="284.5" font-size="6.4" text-anchor="middle" fill="#333" font-weight="bold" transform="rotate(-90 222.1 284.5)">10<tspan dy="-3.1" font-size="5.632000000000001">4</tspan></text><text x="222.1" y="248.5" font-size="6.4" text-anchor="middle" fill="#333" font-weight="bold" transform="rotate(-90 222.1 248.5)">10<tspan dy="-3.1" font-size="5.632000000000001">5</tspan></text><text x="231.5" y="247.2" font-size="7.5" text-anchor="start" fill="#4d4d4d" font-weight="normal">Q1-3</text><text x="382.5" y="247.2" font-size="7.5" text-anchor="end" fill="#4d4d4d" font-weight="normal">Q2-3</text><text x="258.8" y="275.4" font-size="7.85" text-anchor="start" fill="#1e1e1e" font-weight="normal">0,1%</text><text x="258.8" y="286" font-size="7.85" text-anchor="start" fill="#1e1e1e" font-weight="normal">Only DAT+</text><text x="335.3" y="275.4" font-size="7.85" text-anchor="start" fill="#1e1e1e" font-weight="normal">91,8%</text><text x="335.3" y="286" font-size="7.85" text-anchor="start" fill="#1e1e1e" font-weight="normal">TH+ DAT+</text><text x="258.8" y="359" font-size="7.85" text-anchor="start" fill="#1e1e1e" font-weight="normal">0,4%</text><text x="258.8" y="369.8" font-size="7.85" text-anchor="start" fill="#1e1e1e" font-weight="normal">TH- DAT-</text><text x="348.8" y="358.3" font-size="7.85" text-anchor="start" fill="#1e1e1e" font-weight="normal">7,7%</text><text x="348.8" y="368.5" font-size="7.85" text-anchor="start" fill="#1e1e1e" font-weight="normal">Only TH+</text><text x="232.8" y="385.9" font-size="7.5" text-anchor="start" fill="#4d4d4d" font-weight="normal">Q3-3</text><text x="385" y="389.4" font-size="7.5" text-anchor="end" fill="#4d4d4d" font-weight="normal">Q4-3</text><path transform="scale(.5)" d="M1087 587h2m0 6h2m-19 1h2m6 0h2m-11 2h2m-3 1h2m35 0h2m-22 2h2m-13 2h2m0 2h2m9 0h2m-10 1h2m-11 1h2m8 1h2m-5 2h2m-1 1h2m6 0h2m-5 1h2m0 0h2m5 0h2m-21 1h2m0 0h2m-8 1h2m14 0h2m7 0h2m-22 1h2m-14 1h2m20 0h2m4 0h2m-16 1h2m3 0h2m3 0h2m-23 1h2m-2 1h2m2 0h2m19 0h2m-25 1h2m-8 1h2m9 0h2m-21 1h2m9 0h2m1 0h2m7 1h2m14 0h2m-22 1h2m2 0h2m10 0h2m-30 1h2m17 0h2m-13 1h2m6 0h2m3 0h2m0 0h2m-18 1h2m6 0h2m-21 1h2m5 0h3m2 0h2m21 0h2m-27 1h2m4 0h3m1 0h2m1 0h2m7 0h2m-29 1h2m13 0h3m6 0h2m-26 1h2m4 0h2m0 0h2m-4 1h2m9 0h2m1 0h2m4 0h2m-24 1h2m2 0h2m10 0h2m0 0h2m-26 1h2m2 0h2m1 0h2m2 0h2m7 0h2m-10 1h2m5 0h2m-14 1h3m33 0h2m-53 1h2m33 0h2m-35 1h2m13 0h2m6 0h2m20 0h2m-34 1h2m25 0h2m-29 1h2m6 0h2m2 0h2m12 0h2m-36 1h2m1 0h2m7 0h2m19 0h2m-25 1h2m10 0h2m0 0h2m-14 1h2m15 0h2m-24 1h2m6 0h2m4 0h2m1 0h3m-27 1h2m15 0h2m5 0h2m-34 1h2m12 0h2m3 0h2m6 0h3m22 0h2m-41 1h2m6 0h2m10 0h3m1 0h2m-56 1h2m21 0h2m6 0h2m14 0h2m-24 1h2m10 0h2m1 0h2m12 0h2m-23 1h2m8 0h3m-18 1h2m10 0h2m1 0h2m25 0h2m-34 1h2m4 0h3m5 0h2m-23 1h2m1 0h2m0 0h2m0 0h2m1 0h2m0 0h3m17 0h2m-50 1h2m1 0h2m12 0h3m2 0h2m12 0h2m-11 1h2m0 0h2m0 0h2m1 0h2m-40 1h2m17 0h2m5 0h2m3 0h2m7 0h2m-46 1h2m9 0h2m5 0h4m4 0h2m8 0h2m1 0h2m-19 1h2m3 0h2m2 0h2m1 0h3m3 0h2m2 0h2m-30 1h2m1 0h2m0 0h2m2 0h2m2 0h2m4 0h2m-32 1h2m12 0h2m18 0h2m-23 1h2m7 0h2m4 0h2m0 0h2m-25 1h2m8 0h2m0 0h2m8 0h2m1 0h2m-25 1h2m0 0h2m0 0h3m2 0h2m4 0h2m-14 1h3m4 0h2m0 0h2m0 0h3m6 0h2m-25 1h2m8 0h2m8 0h2m0 0h2m-34 1h2m1 0h2m4 0h2m1 0h2m7 0h2m-4 1h3m2 0h2m0 0h2m7 0h2m-23 1h2m3 0h2m13 0h2m-45 1h2m8 0h2m10 0h2m11 0h2m-25 1h2m32 0h2m1 0h3m0 0h2m-22 1h3m6 0h2m-27 1h2m5 0h2m21 0h2m0 0h2m0 0h2m-40 1h2m17 0h2m1 0h2m2 0h2m0 0h3m-29 1h2m5 0h2m6 0h2m4 0h2m-35 1h2m15 0h2m12 0h2m4 0h2m-14 1h2m0 0h2m6 0h2m2 0h2m-28 1h2m19 0h2m4 0h2m-31 2h2m7 0h2m9 0h2m2 0h2m-23 1h2m1 0h2m11 0h2m2 0h2m5 0h2m-15 1h2m7 0h2m-21 1h2m5 0h2m-13 1h2m12 0h2m2 1h2m-21 1h2m8 0h3m6 1h2m7 0h2m-29 1h2m9 0h2m2 0h2m-8 1h2m2 0h2m5 3h2m-14 2h2m29 0h2m-13 1h2m-28 2h2m-6 1h2m6 3h2m7 0h2m9 2h2m-31 1h2m43 3h2m-36 2h2m0 3h2" stroke="#6cb0f8" stroke-width="2" fill="none"/><path transform="scale(.5)" d="M1080 621h2m-7 1h2m1 2h2m5 1h2m-11 1h2m-5 2h3m7 1h2m1 1h2m-18 1h2m2 1h2m1 0h2m-5 3h2m2 0h2m-3 2h2m1 0h2m-8 2h3m1 1h2m-2 1h2m-3 2h2m0 0h2m-16 1h2m10 0h2m3 0h2m-22 1h2m5 1h2m1 0h2m10 0h2m-12 1h2m-18 1h2m10 0h2m-2 1h2m4 0h2m-6 4h2m-5 1h2m8 0h2m-4 1h2m3 1h2m-15 1h2m6 0h2m8 0h2m-15 4h2m-19 1h2m8 0h2m-4 3h2m12 0h2m-18 5h2" stroke="#3a8af2" stroke-width="2" fill="none"/><path transform="scale(.5)" d="M1029 711h2m-8 7h2m0 4h2m2 5h2m-25 25h2" stroke="#a8ccfa" stroke-width="2" fill="none"/><rect x="422.5" y="232.5" width="164" height="161" fill="none" stroke="#404040" stroke-width="1"/><line x1="513.5" y1="232.5" x2="513.5" y2="393.5" stroke="#404040" stroke-width="1"/><line x1="422.5" y1="341.5" x2="586.5" y2="341.5" stroke="#404040" stroke-width="1"/><text x="492.8" y="230.5" font-size="8.4" text-anchor="middle" fill="#3f3f3f" font-weight="normal">intermediate</text><text x="504" y="416" font-size="8.0" text-anchor="middle" fill="#3f3f3f" font-weight="normal">TH Brilliant Violet 421-A</text><text x="407" y="315.8" font-size="8.1" text-anchor="middle" fill="#3f3f3f" font-weight="normal" transform="rotate(-90 407 315.8)">DAT APC-A</text><line x1="422.7" y1="393.5" x2="422.7" y2="399.5" stroke="#404040" stroke-width="1"/><line x1="421.3" y1="393.5" x2="421.3" y2="396.9" stroke="#4a4a4a" stroke-width="0.85"/><line x1="422.8" y1="393.5" x2="422.8" y2="396.9" stroke="#4a4a4a" stroke-width="0.85"/><line x1="424.3" y1="393.5" x2="424.3" y2="396.9" stroke="#4a4a4a" stroke-width="0.85"/><line x1="425.8" y1="393.5" x2="425.8" y2="396.9" stroke="#4a4a4a" stroke-width="0.85"/><line x1="427.3" y1="393.5" x2="427.3" y2="396.9" stroke="#4a4a4a" stroke-width="0.85"/><line x1="428.8" y1="393.5" x2="428.8" y2="396.9" stroke="#4a4a4a" stroke-width="0.85"/><line x1="430.3" y1="393.5" x2="430.3" y2="396.9" stroke="#4a4a4a" stroke-width="0.85"/><line x1="431.8" y1="393.5" x2="431.8" y2="396.9" stroke="#4a4a4a" stroke-width="0.85"/><line x1="433.3" y1="393.5" x2="433.3" y2="396.9" stroke="#4a4a4a" stroke-width="0.85"/><line x1="434.8" y1="393.5" x2="434.8" y2="396.9" stroke="#4a4a4a" stroke-width="0.85"/><line x1="436.3" y1="393.5" x2="436.3" y2="396.9" stroke="#4a4a4a" stroke-width="0.85"/><line x1="437.8" y1="393.5" x2="437.8" y2="396.9" stroke="#4a4a4a" stroke-width="0.85"/><line x1="439.3" y1="393.5" x2="439.3" y2="396.9" stroke="#4a4a4a" stroke-width="0.85"/><line x1="440.8" y1="393.5" x2="440.8" y2="396.9" stroke="#4a4a4a" stroke-width="0.85"/><line x1="442.3" y1="393.5" x2="442.3" y2="396.9" stroke="#4a4a4a" stroke-width="0.85"/><line x1="443.8" y1="393.5" x2="443.8" y2="396.9" stroke="#4a4a4a" stroke-width="0.85"/><line x1="445.3" y1="393.5" x2="445.3" y2="396.9" stroke="#4a4a4a" stroke-width="0.85"/><line x1="446.8" y1="393.5" x2="446.8" y2="396.9" stroke="#4a4a4a" stroke-width="0.85"/><line x1="448.3" y1="393.5" x2="448.3" y2="396.9" stroke="#4a4a4a" stroke-width="0.85"/><line x1="449.8" y1="393.5" x2="449.8" y2="396.9" stroke="#4a4a4a" stroke-width="0.85"/><line x1="451.3" y1="393.5" x2="451.3" y2="396.9" stroke="#4a4a4a" stroke-width="0.85"/><line x1="452.8" y1="393.5" x2="452.8" y2="396.9" stroke="#4a4a4a" stroke-width="0.85"/><line x1="454.3" y1="393.5" x2="454.3" y2="396.9" stroke="#4a4a4a" stroke-width="0.85"/><line x1="455.8" y1="393.5" x2="455.8" y2="396.9" stroke="#4a4a4a" stroke-width="0.85"/><line x1="421.3" y1="393.5" x2="421.3" y2="399.3" stroke="#404040" stroke-width="1"/><line x1="442.3" y1="393.5" x2="442.3" y2="399.3" stroke="#404040" stroke-width="1"/><line x1="456.8" y1="393.5" x2="456.8" y2="399.3" stroke="#404040" stroke-width="1"/><line x1="468.4" y1="393.5" x2="468.4" y2="396.9" stroke="#404040" stroke-width="0.9"/><line x1="475.2" y1="393.5" x2="475.2" y2="396.9" stroke="#404040" stroke-width="0.9"/><line x1="480" y1="393.5" x2="480" y2="396.9" stroke="#404040" stroke-width="0.9"/><line x1="483.8" y1="393.5" x2="483.8" y2="396.9" stroke="#404040" stroke-width="0.9"/><line x1="486.8" y1="393.5" x2="486.8" y2="396.9" stroke="#404040" stroke-width="0.9"/><line x1="489.4" y1="393.5" x2="489.4" y2="396.9" stroke="#404040" stroke-width="0.9"/><line x1="491.7" y1="393.5" x2="491.7" y2="396.9" stroke="#404040" stroke-width="0.9"/><line x1="493.6" y1="393.5" x2="493.6" y2="396.9" stroke="#404040" stroke-width="0.9"/><line x1="495.4" y1="393.5" x2="495.4" y2="399.3" stroke="#404040" stroke-width="1"/><line x1="507" y1="393.5" x2="507" y2="396.9" stroke="#404040" stroke-width="0.9"/><line x1="513.8" y1="393.5" x2="513.8" y2="396.9" stroke="#404040" stroke-width="0.9"/><line x1="518.6" y1="393.5" x2="518.6" y2="396.9" stroke="#404040" stroke-width="0.9"/><line x1="522.4" y1="393.5" x2="522.4" y2="396.9" stroke="#404040" stroke-width="0.9"/><line x1="525.4" y1="393.5" x2="525.4" y2="396.9" stroke="#404040" stroke-width="0.9"/><line x1="528" y1="393.5" x2="528" y2="396.9" stroke="#404040" stroke-width="0.9"/><line x1="530.3" y1="393.5" x2="530.3" y2="396.9" stroke="#404040" stroke-width="0.9"/><line x1="532.2" y1="393.5" x2="532.2" y2="396.9" stroke="#404040" stroke-width="0.9"/><line x1="534" y1="393.5" x2="534" y2="399.3" stroke="#404040" stroke-width="1"/><line x1="544.8" y1="393.5" x2="544.8" y2="396.9" stroke="#404040" stroke-width="0.9"/><line x1="551.1" y1="393.5" x2="551.1" y2="396.9" stroke="#404040" stroke-width="0.9"/><line x1="555.6" y1="393.5" x2="555.6" y2="396.9" stroke="#404040" stroke-width="0.9"/><line x1="559" y1="393.5" x2="559" y2="396.9" stroke="#404040" stroke-width="0.9"/><line x1="561.9" y1="393.5" x2="561.9" y2="396.9" stroke="#404040" stroke-width="0.9"/><line x1="564.3" y1="393.5" x2="564.3" y2="396.9" stroke="#404040" stroke-width="0.9"/><line x1="566.3" y1="393.5" x2="566.3" y2="396.9" stroke="#404040" stroke-width="0.9"/><line x1="568.2" y1="393.5" x2="568.2" y2="396.9" stroke="#404040" stroke-width="0.9"/><line x1="569.8" y1="393.5" x2="569.8" y2="399.3" stroke="#404040" stroke-width="1"/><line x1="580.6" y1="393.5" x2="580.6" y2="396.9" stroke="#404040" stroke-width="0.9"/><line x1="422.5" y1="393" x2="417.5" y2="393" stroke="#404040" stroke-width="1"/><line x1="422.5" y1="357.9" x2="420.1" y2="357.9" stroke="#4a4a4a" stroke-width="0.85"/><line x1="422.5" y1="359.4" x2="420.1" y2="359.4" stroke="#4a4a4a" stroke-width="0.85"/><line x1="422.5" y1="360.9" x2="420.1" y2="360.9" stroke="#4a4a4a" stroke-width="0.85"/><line x1="422.5" y1="362.4" x2="420.1" y2="362.4" stroke="#4a4a4a" stroke-width="0.85"/><line x1="422.5" y1="363.9" x2="420.1" y2="363.9" stroke="#4a4a4a" stroke-width="0.85"/><line x1="422.5" y1="365.4" x2="420.1" y2="365.4" stroke="#4a4a4a" stroke-width="0.85"/><line x1="422.5" y1="366.9" x2="420.1" y2="366.9" stroke="#4a4a4a" stroke-width="0.85"/><line x1="422.5" y1="368.4" x2="420.1" y2="368.4" stroke="#4a4a4a" stroke-width="0.85"/><line x1="422.5" y1="369.9" x2="420.1" y2="369.9" stroke="#4a4a4a" stroke-width="0.85"/><line x1="422.5" y1="371.4" x2="420.1" y2="371.4" stroke="#4a4a4a" stroke-width="0.85"/><line x1="422.5" y1="372.9" x2="420.1" y2="372.9" stroke="#4a4a4a" stroke-width="0.85"/><line x1="422.5" y1="374.4" x2="420.1" y2="374.4" stroke="#4a4a4a" stroke-width="0.85"/><line x1="422.5" y1="375.9" x2="420.1" y2="375.9" stroke="#4a4a4a" stroke-width="0.85"/><line x1="422.5" y1="377.4" x2="420.1" y2="377.4" stroke="#4a4a4a" stroke-width="0.85"/><line x1="422.5" y1="378.9" x2="420.1" y2="378.9" stroke="#4a4a4a" stroke-width="0.85"/><line x1="422.5" y1="380.4" x2="420.1" y2="380.4" stroke="#4a4a4a" stroke-width="0.85"/><line x1="422.5" y1="381.9" x2="420.1" y2="381.9" stroke="#4a4a4a" stroke-width="0.85"/><line x1="422.5" y1="383.4" x2="420.1" y2="383.4" stroke="#4a4a4a" stroke-width="0.85"/><line x1="422.5" y1="384.9" x2="420.1" y2="384.9" stroke="#4a4a4a" stroke-width="0.85"/><line x1="422.5" y1="386.4" x2="420.1" y2="386.4" stroke="#4a4a4a" stroke-width="0.85"/><line x1="422.5" y1="387.9" x2="420.1" y2="387.9" stroke="#4a4a4a" stroke-width="0.85"/><line x1="422.5" y1="389.4" x2="420.1" y2="389.4" stroke="#4a4a4a" stroke-width="0.85"/><line x1="422.5" y1="390.9" x2="420.1" y2="390.9" stroke="#4a4a4a" stroke-width="0.85"/><line x1="422.5" y1="392.4" x2="420.1" y2="392.4" stroke="#4a4a4a" stroke-width="0.85"/><line x1="422.5" y1="393.9" x2="420.1" y2="393.9" stroke="#4a4a4a" stroke-width="0.85"/><line x1="422.5" y1="394.4" x2="417.9" y2="394.4" stroke="#404040" stroke-width="1"/><line x1="422.5" y1="375.7" x2="417.9" y2="375.7" stroke="#404040" stroke-width="1"/><line x1="422.5" y1="357.9" x2="417.9" y2="357.9" stroke="#404040" stroke-width="1"/><line x1="422.5" y1="346.4" x2="420.4" y2="346.4" stroke="#404040" stroke-width="0.9"/><line x1="422.5" y1="339.6" x2="420.4" y2="339.6" stroke="#404040" stroke-width="0.9"/><line x1="422.5" y1="334.8" x2="420.4" y2="334.8" stroke="#404040" stroke-width="0.9"/><line x1="422.5" y1="331.1" x2="420.4" y2="331.1" stroke="#404040" stroke-width="0.9"/><line x1="422.5" y1="328.1" x2="420.4" y2="328.1" stroke="#404040" stroke-width="0.9"/><line x1="422.5" y1="325.5" x2="420.4" y2="325.5" stroke="#404040" stroke-width="0.9"/><line x1="422.5" y1="323.3" x2="420.4" y2="323.3" stroke="#404040" stroke-width="0.9"/><line x1="422.5" y1="321.4" x2="420.4" y2="321.4" stroke="#404040" stroke-width="0.9"/><line x1="422.5" y1="319.6" x2="417.9" y2="319.6" stroke="#404040" stroke-width="1"/><line x1="422.5" y1="308.7" x2="420.4" y2="308.7" stroke="#404040" stroke-width="0.9"/><line x1="422.5" y1="302.3" x2="420.4" y2="302.3" stroke="#404040" stroke-width="0.9"/><line x1="422.5" y1="297.8" x2="420.4" y2="297.8" stroke="#404040" stroke-width="0.9"/><line x1="422.5" y1="294.3" x2="420.4" y2="294.3" stroke="#404040" stroke-width="0.9"/><line x1="422.5" y1="291.4" x2="420.4" y2="291.4" stroke="#404040" stroke-width="0.9"/><line x1="422.5" y1="289" x2="420.4" y2="289" stroke="#404040" stroke-width="0.9"/><line x1="422.5" y1="286.9" x2="420.4" y2="286.9" stroke="#404040" stroke-width="0.9"/><line x1="422.5" y1="285.1" x2="420.4" y2="285.1" stroke="#404040" stroke-width="0.9"/><line x1="422.5" y1="283.4" x2="417.9" y2="283.4" stroke="#404040" stroke-width="1"/><line x1="422.5" y1="272.4" x2="420.4" y2="272.4" stroke="#404040" stroke-width="0.9"/><line x1="422.5" y1="266" x2="420.4" y2="266" stroke="#404040" stroke-width="0.9"/><line x1="422.5" y1="261.5" x2="420.4" y2="261.5" stroke="#404040" stroke-width="0.9"/><line x1="422.5" y1="258" x2="420.4" y2="258" stroke="#404040" stroke-width="0.9"/><line x1="422.5" y1="255.1" x2="420.4" y2="255.1" stroke="#404040" stroke-width="0.9"/><line x1="422.5" y1="252.6" x2="420.4" y2="252.6" stroke="#404040" stroke-width="0.9"/><line x1="422.5" y1="250.5" x2="420.4" y2="250.5" stroke="#404040" stroke-width="0.9"/><line x1="422.5" y1="248.7" x2="420.4" y2="248.7" stroke="#404040" stroke-width="0.9"/><line x1="422.5" y1="247" x2="417.9" y2="247" stroke="#404040" stroke-width="1"/><line x1="422.5" y1="236" x2="420.4" y2="236" stroke="#404040" stroke-width="0.9"/><text x="420.2" y="410" font-size="6.3" text-anchor="middle" fill="#3f3f3f" font-weight="normal">-157</text><text x="442.3" y="406" font-size="6.3" text-anchor="middle" fill="#3f3f3f" font-weight="normal">0</text><text x="456.3" y="407" font-size="6.4" text-anchor="middle" fill="#333" font-weight="bold">10<tspan dy="-3.1" font-size="5.632000000000001">2</tspan></text><text x="494.9" y="407" font-size="6.4" text-anchor="middle" fill="#333" font-weight="bold">10<tspan dy="-3.1" font-size="5.632000000000001">3</tspan></text><text x="533.5" y="407" font-size="6.4" text-anchor="middle" fill="#333" font-weight="bold">10<tspan dy="-3.1" font-size="5.632000000000001">4</tspan></text><text x="569.3" y="407" font-size="6.4" text-anchor="middle" fill="#333" font-weight="bold">10<tspan dy="-3.1" font-size="5.632000000000001">5</tspan></text><text x="412" y="395.6" font-size="6.3" text-anchor="start" fill="#3f3f3f" font-weight="normal" transform="rotate(-90 412 395.6)">-105</text><text x="417.9" y="375.7" font-size="6.3" text-anchor="middle" fill="#3f3f3f" font-weight="normal" transform="rotate(-90 417.9 375.7)">0</text><text x="418.1" y="358.4" font-size="6.4" text-anchor="middle" fill="#333" font-weight="bold" transform="rotate(-90 418.1 358.4)">10<tspan dy="-3.1" font-size="5.632000000000001">2</tspan></text><text x="418.1" y="320.1" font-size="6.4" text-anchor="middle" fill="#333" font-weight="bold" transform="rotate(-90 418.1 320.1)">10<tspan dy="-3.1" font-size="5.632000000000001">3</tspan></text><text x="418.1" y="283.9" font-size="6.4" text-anchor="middle" fill="#333" font-weight="bold" transform="rotate(-90 418.1 283.9)">10<tspan dy="-3.1" font-size="5.632000000000001">4</tspan></text><text x="418.1" y="247.5" font-size="6.4" text-anchor="middle" fill="#333" font-weight="bold" transform="rotate(-90 418.1 247.5)">10<tspan dy="-3.1" font-size="5.632000000000001">5</tspan></text><text x="428.3" y="245.5" font-size="7.5" text-anchor="start" fill="#4d4d4d" font-weight="normal">Q1-4</text><text x="577.5" y="245.5" font-size="7.5" text-anchor="end" fill="#4d4d4d" font-weight="normal">Q2-4</text><text x="453" y="281.3" font-size="7.85" text-anchor="start" fill="#1e1e1e" font-weight="normal">0.1%</text><text x="453" y="292" font-size="7.85" text-anchor="start" fill="#1e1e1e" font-weight="normal">Only DAT+</text><text x="526.5" y="283" font-size="7.85" text-anchor="start" fill="#1e1e1e" font-weight="normal">91.8%</text><text x="526.5" y="293.8" font-size="7.85" text-anchor="start" fill="#1e1e1e" font-weight="normal">TH+ DAT+</text><text x="446.6" y="361.6" font-size="7.85" text-anchor="start" fill="#1e1e1e" font-weight="normal">0.4%</text><text x="446.6" y="372.3" font-size="7.85" text-anchor="start" fill="#1e1e1e" font-weight="normal">TH- DAT-</text><text x="532.9" y="364.2" font-size="7.85" text-anchor="start" fill="#1e1e1e" font-weight="normal">8.4%</text><text x="532.9" y="374.4" font-size="7.85" text-anchor="start" fill="#1e1e1e" font-weight="normal">Only TH+</text><text x="428.3" y="387" font-size="7.5" text-anchor="start" fill="#4d4d4d" font-weight="normal">Q3-4</text><text x="580" y="387.6" font-size="7.5" text-anchor="end" fill="#4d4d4d" font-weight="normal">Q4-4</text><path transform="scale(.5)" d="M1459 610h2m-9 2h2m19 3h3m-24 2h2m0 1h2m17 1h2m-30 1h2m5 0h2m8 3h2m2 2h2m4 0h2m-13 1h2m-27 1h2m19 0h2m8 0h2m8 0h2m-22 1h2m1 0h2m4 0h2m18 0h2m-33 2h2m3 0h2m13 0h2m-30 1h2m2 1h2m4 0h2m11 0h2m2 0h2m-34 1h2m7 1h2m17 0h2m-6 1h2m0 0h2m-22 1h3m6 0h2m-13 1h2m10 0h2m17 0h2m-32 1h2m7 0h2m0 0h2m9 0h2m0 0h2m-31 1h2m0 0h2m6 0h2m0 1h3m37 0h2m-41 1h2m0 0h2m-30 1h2m31 0h2m-11 1h2m1 0h2m1 0h2m-9 1h2m7 0h2m1 0h2m-14 1h2m13 0h2m-13 1h2m9 0h2m2 0h2m2 0h2m-1 1h2m5 0h2m-43 1h2m6 0h2m3 0h2m2 0h3m1 0h2m-27 1h2m8 0h2m-11 1h2m3 0h2m4 0h2m2 0h2m3 0h2m0 0h2m5 0h2m-51 1h2m27 0h2m0 0h2m1 0h3m4 0h2m10 0h2m-25 1h2m0 0h2m6 0h4m-20 1h2m16 0h2m-25 1h2m9 0h2m22 0h2m-32 1h2m10 0h2m-18 1h3m5 0h2m3 0h2m2 0h2m-16 1h2m7 0h2m4 0h2m-19 1h2m5 0h2m1 0h2m1 0h2m0 0h2m3 0h2m0 0h2m4 0h2m-26 1h2m0 0h2m3 0h3m20 0h2m-36 1h2m4 0h2m0 0h2m-23 1h2m10 0h2m7 0h2m0 0h2m7 0h2m-21 1h2m0 0h2m16 0h2m4 0h2m1 0h2m2 0h2m-35 1h2m4 0h2m5 0h3m6 0h2m11 0h2m-12 1h2m-27 1h2m5 0h2m2 0h2m5 0h2m2 0h3m-27 1h2m19 0h2m4 0h2m-21 1h2m-4 1h2m5 0h2m8 0h2m0 0h2m1 0h2m-29 1h2m3 0h2m12 0h2m0 0h2m9 0h2m-48 1h2m16 0h2m3 0h2m0 0h2m5 0h2m-21 1h2m1 0h2m9 0h2m18 0h2m-34 2h2m2 0h2m8 0h2m3 0h2m19 0h2m-37 1h2m5 0h2m-1 1h2m-15 1h2m9 0h2m0 0h2m18 0h2m-40 1h2m6 0h2m5 0h2m12 0h2m-23 1h2m6 0h2m-1 1h2m1 0h2m-26 1h2m1 0h3m7 0h2m4 0h2m-17 1h2m7 1h2m12 0h2m-27 1h2m-2 1h2m4 0h2m2 0h2m1 0h2m5 0h2m15 0h2m-34 1h2m8 0h2m1 0h2m16 0h2m-24 1h2m0 0h2m5 0h3m-23 1h2m13 1h3m17 0h2m-33 2h2m-8 1h2m6 0h2m14 0h2m5 0h2m1 0h2m1 0h2m-34 1h2m5 0h2m7 0h2m-15 1h2m3 2h2m-10 1h2m18 1h2m21 1h2m-35 1h2m-15 1h2m9 0h2m1 1h2m-15 1h2m-16 2h2m32 0h2m-17 1h2m4 0h2m3 1h2m10 0h2m-28 5h2m7 5h2m-1 1h2" stroke="#f6a378" stroke-width="2" fill="none"/><path transform="scale(.5)" d="M1411 648h2m26 8h2m-49 5h2m29 0h2m-16 1h2m12 1h2m-16 1h2m22 7h2m12 2h2m-24 4h2m-26 1h2m11 0h2m-18 1h2m33 2h2m5 8h2m-2 1h2m-32 1h2m-10 4h2m28 1h2m-9 1h2m-27 1h2m-10 1h2m23 2h2m32 2h2m-62 1h2m29 1h2m-19 1h2m18 1h2m-17 1h2m24 3h2m8 1h2m-31 3h2m5 1h2m12 0h2m10 0h2m-11 1h2m-25 1h2m-27 3h2m16 1h2m10 0h2m-9 6h2m12 0h2m-1 6h2m12 20h2m-10 11h2" stroke="#f7b090" stroke-width="2" fill="none"/><path transform="scale(.5)" d="M1424 590h2m-18 49h2m-28 67h2m20 10h2m-42 8h2m52 16h2" stroke="#f7b090" stroke-width="2" fill="none"/><rect x="619.5" y="232.5" width="164" height="161" fill="none" stroke="#404040" stroke-width="1"/><line x1="713.5" y1="232.5" x2="713.5" y2="393.5" stroke="#404040" stroke-width="1"/><line x1="619.5" y1="343.5" x2="783.5" y2="343.5" stroke="#404040" stroke-width="1"/><text x="689" y="230.5" font-size="8.4" text-anchor="middle" fill="#3f3f3f" font-weight="normal">non-classical</text><text x="700" y="416" font-size="8.0" text-anchor="middle" fill="#3f3f3f" font-weight="normal">TH Brilliant Violet 421-A</text><text x="603.6" y="315.8" font-size="8.1" text-anchor="middle" fill="#3f3f3f" font-weight="normal" transform="rotate(-90 603.6 315.8)">DAT APC-A</text><line x1="619.2" y1="393.5" x2="619.2" y2="399.5" stroke="#404040" stroke-width="1"/><line x1="617.1" y1="393.5" x2="617.1" y2="396.9" stroke="#4a4a4a" stroke-width="0.85"/><line x1="618.6" y1="393.5" x2="618.6" y2="396.9" stroke="#4a4a4a" stroke-width="0.85"/><line x1="620.1" y1="393.5" x2="620.1" y2="396.9" stroke="#4a4a4a" stroke-width="0.85"/><line x1="621.6" y1="393.5" x2="621.6" y2="396.9" stroke="#4a4a4a" stroke-width="0.85"/><line x1="623.1" y1="393.5" x2="623.1" y2="396.9" stroke="#4a4a4a" stroke-width="0.85"/><line x1="624.6" y1="393.5" x2="624.6" y2="396.9" stroke="#4a4a4a" stroke-width="0.85"/><line x1="626.1" y1="393.5" x2="626.1" y2="396.9" stroke="#4a4a4a" stroke-width="0.85"/><line x1="627.6" y1="393.5" x2="627.6" y2="396.9" stroke="#4a4a4a" stroke-width="0.85"/><line x1="629.1" y1="393.5" x2="629.1" y2="396.9" stroke="#4a4a4a" stroke-width="0.85"/><line x1="630.6" y1="393.5" x2="630.6" y2="396.9" stroke="#4a4a4a" stroke-width="0.85"/><line x1="632.1" y1="393.5" x2="632.1" y2="396.9" stroke="#4a4a4a" stroke-width="0.85"/><line x1="633.6" y1="393.5" x2="633.6" y2="396.9" stroke="#4a4a4a" stroke-width="0.85"/><line x1="635.1" y1="393.5" x2="635.1" y2="396.9" stroke="#4a4a4a" stroke-width="0.85"/><line x1="636.6" y1="393.5" x2="636.6" y2="396.9" stroke="#4a4a4a" stroke-width="0.85"/><line x1="638.1" y1="393.5" x2="638.1" y2="396.9" stroke="#4a4a4a" stroke-width="0.85"/><line x1="639.6" y1="393.5" x2="639.6" y2="396.9" stroke="#4a4a4a" stroke-width="0.85"/><line x1="641.1" y1="393.5" x2="641.1" y2="396.9" stroke="#4a4a4a" stroke-width="0.85"/><line x1="642.6" y1="393.5" x2="642.6" y2="396.9" stroke="#4a4a4a" stroke-width="0.85"/><line x1="644.1" y1="393.5" x2="644.1" y2="396.9" stroke="#4a4a4a" stroke-width="0.85"/><line x1="645.6" y1="393.5" x2="645.6" y2="396.9" stroke="#4a4a4a" stroke-width="0.85"/><line x1="647.1" y1="393.5" x2="647.1" y2="396.9" stroke="#4a4a4a" stroke-width="0.85"/><line x1="648.6" y1="393.5" x2="648.6" y2="396.9" stroke="#4a4a4a" stroke-width="0.85"/><line x1="650.1" y1="393.5" x2="650.1" y2="396.9" stroke="#4a4a4a" stroke-width="0.85"/><line x1="651.6" y1="393.5" x2="651.6" y2="396.9" stroke="#4a4a4a" stroke-width="0.85"/><line x1="617.1" y1="393.5" x2="617.1" y2="399.3" stroke="#404040" stroke-width="1"/><line x1="638.3" y1="393.5" x2="638.3" y2="399.3" stroke="#404040" stroke-width="1"/><line x1="652.9" y1="393.5" x2="652.9" y2="399.3" stroke="#404040" stroke-width="1"/><line x1="664.8" y1="393.5" x2="664.8" y2="396.9" stroke="#404040" stroke-width="0.9"/><line x1="671.7" y1="393.5" x2="671.7" y2="396.9" stroke="#404040" stroke-width="0.9"/><line x1="676.7" y1="393.5" x2="676.7" y2="396.9" stroke="#404040" stroke-width="0.9"/><line x1="680.5" y1="393.5" x2="680.5" y2="396.9" stroke="#404040" stroke-width="0.9"/><line x1="683.6" y1="393.5" x2="683.6" y2="396.9" stroke="#404040" stroke-width="0.9"/><line x1="686.3" y1="393.5" x2="686.3" y2="396.9" stroke="#404040" stroke-width="0.9"/><line x1="688.6" y1="393.5" x2="688.6" y2="396.9" stroke="#404040" stroke-width="0.9"/><line x1="690.6" y1="393.5" x2="690.6" y2="396.9" stroke="#404040" stroke-width="0.9"/><line x1="692.4" y1="393.5" x2="692.4" y2="399.3" stroke="#404040" stroke-width="1"/><line x1="703.8" y1="393.5" x2="703.8" y2="396.9" stroke="#404040" stroke-width="0.9"/><line x1="710.4" y1="393.5" x2="710.4" y2="396.9" stroke="#404040" stroke-width="0.9"/><line x1="715.2" y1="393.5" x2="715.2" y2="396.9" stroke="#404040" stroke-width="0.9"/><line x1="718.8" y1="393.5" x2="718.8" y2="396.9" stroke="#404040" stroke-width="0.9"/><line x1="721.8" y1="393.5" x2="721.8" y2="396.9" stroke="#404040" stroke-width="0.9"/><line x1="724.3" y1="393.5" x2="724.3" y2="396.9" stroke="#404040" stroke-width="0.9"/><line x1="726.5" y1="393.5" x2="726.5" y2="396.9" stroke="#404040" stroke-width="0.9"/><line x1="728.5" y1="393.5" x2="728.5" y2="396.9" stroke="#404040" stroke-width="0.9"/><line x1="730.2" y1="393.5" x2="730.2" y2="399.3" stroke="#404040" stroke-width="1"/><line x1="740.9" y1="393.5" x2="740.9" y2="396.9" stroke="#404040" stroke-width="0.9"/><line x1="747.2" y1="393.5" x2="747.2" y2="396.9" stroke="#404040" stroke-width="0.9"/><line x1="751.7" y1="393.5" x2="751.7" y2="396.9" stroke="#404040" stroke-width="0.9"/><line x1="755.2" y1="393.5" x2="755.2" y2="396.9" stroke="#404040" stroke-width="0.9"/><line x1="758" y1="393.5" x2="758" y2="396.9" stroke="#404040" stroke-width="0.9"/><line x1="760.4" y1="393.5" x2="760.4" y2="396.9" stroke="#404040" stroke-width="0.9"/><line x1="762.4" y1="393.5" x2="762.4" y2="396.9" stroke="#404040" stroke-width="0.9"/><line x1="764.3" y1="393.5" x2="764.3" y2="396.9" stroke="#404040" stroke-width="0.9"/><line x1="765.9" y1="393.5" x2="765.9" y2="399.3" stroke="#404040" stroke-width="1"/><line x1="776.6" y1="393.5" x2="776.6" y2="396.9" stroke="#404040" stroke-width="0.9"/><line x1="782.9" y1="393.5" x2="782.9" y2="396.9" stroke="#404040" stroke-width="0.9"/><line x1="619.5" y1="393" x2="614.5" y2="393" stroke="#404040" stroke-width="1"/><line x1="619.5" y1="357.9" x2="617.1" y2="357.9" stroke="#4a4a4a" stroke-width="0.85"/><line x1="619.5" y1="359.4" x2="617.1" y2="359.4" stroke="#4a4a4a" stroke-width="0.85"/><line x1="619.5" y1="360.9" x2="617.1" y2="360.9" stroke="#4a4a4a" stroke-width="0.85"/><line x1="619.5" y1="362.4" x2="617.1" y2="362.4" stroke="#4a4a4a" stroke-width="0.85"/><line x1="619.5" y1="363.9" x2="617.1" y2="363.9" stroke="#4a4a4a" stroke-width="0.85"/><line x1="619.5" y1="365.4" x2="617.1" y2="365.4" stroke="#4a4a4a" stroke-width="0.85"/><line x1="619.5" y1="366.9" x2="617.1" y2="366.9" stroke="#4a4a4a" stroke-width="0.85"/><line x1="619.5" y1="368.4" x2="617.1" y2="368.4" stroke="#4a4a4a" stroke-width="0.85"/><line x1="619.5" y1="369.9" x2="617.1" y2="369.9" stroke="#4a4a4a" stroke-width="0.85"/><line x1="619.5" y1="371.4" x2="617.1" y2="371.4" stroke="#4a4a4a" stroke-width="0.85"/><line x1="619.5" y1="372.9" x2="617.1" y2="372.9" stroke="#4a4a4a" stroke-width="0.85"/><line x1="619.5" y1="374.4" x2="617.1" y2="374.4" stroke="#4a4a4a" stroke-width="0.85"/><line x1="619.5" y1="375.9" x2="617.1" y2="375.9" stroke="#4a4a4a" stroke-width="0.85"/><line x1="619.5" y1="377.4" x2="617.1" y2="377.4" stroke="#4a4a4a" stroke-width="0.85"/><line x1="619.5" y1="378.9" x2="617.1" y2="378.9" stroke="#4a4a4a" stroke-width="0.85"/><line x1="619.5" y1="380.4" x2="617.1" y2="380.4" stroke="#4a4a4a" stroke-width="0.85"/><line x1="619.5" y1="381.9" x2="617.1" y2="381.9" stroke="#4a4a4a" stroke-width="0.85"/><line x1="619.5" y1="383.4" x2="617.1" y2="383.4" stroke="#4a4a4a" stroke-width="0.85"/><line x1="619.5" y1="384.9" x2="617.1" y2="384.9" stroke="#4a4a4a" stroke-width="0.85"/><line x1="619.5" y1="386.4" x2="617.1" y2="386.4" stroke="#4a4a4a" stroke-width="0.85"/><line x1="619.5" y1="387.9" x2="617.1" y2="387.9" stroke="#4a4a4a" stroke-width="0.85"/><line x1="619.5" y1="389.4" x2="617.1" y2="389.4" stroke="#4a4a4a" stroke-width="0.85"/><line x1="619.5" y1="390.9" x2="617.1" y2="390.9" stroke="#4a4a4a" stroke-width="0.85"/><line x1="619.5" y1="392.4" x2="617.1" y2="392.4" stroke="#4a4a4a" stroke-width="0.85"/><line x1="619.5" y1="393.9" x2="617.1" y2="393.9" stroke="#4a4a4a" stroke-width="0.85"/><line x1="619.5" y1="394.4" x2="614.9" y2="394.4" stroke="#404040" stroke-width="1"/><line x1="619.5" y1="375.7" x2="614.9" y2="375.7" stroke="#404040" stroke-width="1"/><line x1="619.5" y1="357.9" x2="614.9" y2="357.9" stroke="#404040" stroke-width="1"/><line x1="619.5" y1="346.4" x2="617.4" y2="346.4" stroke="#404040" stroke-width="0.9"/><line x1="619.5" y1="339.6" x2="617.4" y2="339.6" stroke="#404040" stroke-width="0.9"/><line x1="619.5" y1="334.8" x2="617.4" y2="334.8" stroke="#404040" stroke-width="0.9"/><line x1="619.5" y1="331.1" x2="617.4" y2="331.1" stroke="#404040" stroke-width="0.9"/><line x1="619.5" y1="328.1" x2="617.4" y2="328.1" stroke="#404040" stroke-width="0.9"/><line x1="619.5" y1="325.5" x2="617.4" y2="325.5" stroke="#404040" stroke-width="0.9"/><line x1="619.5" y1="323.3" x2="617.4" y2="323.3" stroke="#404040" stroke-width="0.9"/><line x1="619.5" y1="321.4" x2="617.4" y2="321.4" stroke="#404040" stroke-width="0.9"/><line x1="619.5" y1="319.6" x2="614.9" y2="319.6" stroke="#404040" stroke-width="1"/><line x1="619.5" y1="308.7" x2="617.4" y2="308.7" stroke="#404040" stroke-width="0.9"/><line x1="619.5" y1="302.3" x2="617.4" y2="302.3" stroke="#404040" stroke-width="0.9"/><line x1="619.5" y1="297.8" x2="617.4" y2="297.8" stroke="#404040" stroke-width="0.9"/><line x1="619.5" y1="294.3" x2="617.4" y2="294.3" stroke="#404040" stroke-width="0.9"/><line x1="619.5" y1="291.4" x2="617.4" y2="291.4" stroke="#404040" stroke-width="0.9"/><line x1="619.5" y1="289" x2="617.4" y2="289" stroke="#404040" stroke-width="0.9"/><line x1="619.5" y1="286.9" x2="617.4" y2="286.9" stroke="#404040" stroke-width="0.9"/><line x1="619.5" y1="285.1" x2="617.4" y2="285.1" stroke="#404040" stroke-width="0.9"/><line x1="619.5" y1="283.4" x2="614.9" y2="283.4" stroke="#404040" stroke-width="1"/><line x1="619.5" y1="272.4" x2="617.4" y2="272.4" stroke="#404040" stroke-width="0.9"/><line x1="619.5" y1="266" x2="617.4" y2="266" stroke="#404040" stroke-width="0.9"/><line x1="619.5" y1="261.5" x2="617.4" y2="261.5" stroke="#404040" stroke-width="0.9"/><line x1="619.5" y1="258" x2="617.4" y2="258" stroke="#404040" stroke-width="0.9"/><line x1="619.5" y1="255.1" x2="617.4" y2="255.1" stroke="#404040" stroke-width="0.9"/><line x1="619.5" y1="252.6" x2="617.4" y2="252.6" stroke="#404040" stroke-width="0.9"/><line x1="619.5" y1="250.5" x2="617.4" y2="250.5" stroke="#404040" stroke-width="0.9"/><line x1="619.5" y1="248.7" x2="617.4" y2="248.7" stroke="#404040" stroke-width="0.9"/><line x1="619.5" y1="247" x2="614.9" y2="247" stroke="#404040" stroke-width="1"/><line x1="619.5" y1="236" x2="617.4" y2="236" stroke="#404040" stroke-width="0.9"/><text x="616.7" y="410" font-size="6.3" text-anchor="middle" fill="#3f3f3f" font-weight="normal">-157</text><text x="638.3" y="406" font-size="6.3" text-anchor="middle" fill="#3f3f3f" font-weight="normal">0</text><text x="652.4" y="407" font-size="6.4" text-anchor="middle" fill="#333" font-weight="bold">10<tspan dy="-3.1" font-size="5.632000000000001">2</tspan></text><text x="691.9" y="407" font-size="6.4" text-anchor="middle" fill="#333" font-weight="bold">10<tspan dy="-3.1" font-size="5.632000000000001">3</tspan></text><text x="729.7" y="407" font-size="6.4" text-anchor="middle" fill="#333" font-weight="bold">10<tspan dy="-3.1" font-size="5.632000000000001">4</tspan></text><text x="765.4" y="407" font-size="6.4" text-anchor="middle" fill="#333" font-weight="bold">10<tspan dy="-3.1" font-size="5.632000000000001">5</tspan></text><text x="609" y="395.6" font-size="6.3" text-anchor="start" fill="#3f3f3f" font-weight="normal" transform="rotate(-90 609 395.6)">-105</text><text x="614.9" y="375.7" font-size="6.3" text-anchor="middle" fill="#3f3f3f" font-weight="normal" transform="rotate(-90 614.9 375.7)">0</text><text x="615.1" y="358.4" font-size="6.4" text-anchor="middle" fill="#333" font-weight="bold" transform="rotate(-90 615.1 358.4)">10<tspan dy="-3.1" font-size="5.632000000000001">2</tspan></text><text x="615.1" y="320.1" font-size="6.4" text-anchor="middle" fill="#333" font-weight="bold" transform="rotate(-90 615.1 320.1)">10<tspan dy="-3.1" font-size="5.632000000000001">3</tspan></text><text x="615.1" y="283.9" font-size="6.4" text-anchor="middle" fill="#333" font-weight="bold" transform="rotate(-90 615.1 283.9)">10<tspan dy="-3.1" font-size="5.632000000000001">4</tspan></text><text x="615.1" y="247.5" font-size="6.4" text-anchor="middle" fill="#333" font-weight="bold" transform="rotate(-90 615.1 247.5)">10<tspan dy="-3.1" font-size="5.632000000000001">5</tspan></text><text x="622.8" y="246" font-size="7.5" text-anchor="start" fill="#4d4d4d" font-weight="normal">Q1-5</text><text x="777" y="246" font-size="7.5" text-anchor="end" fill="#4d4d4d" font-weight="normal">Q2-5</text><text x="642" y="281.3" font-size="7.85" text-anchor="start" fill="#1e1e1e" font-weight="normal">4.7%</text><text x="642" y="292" font-size="7.85" text-anchor="start" fill="#1e1e1e" font-weight="normal">Only DAT+</text><text x="725.6" y="281.3" font-size="7.85" text-anchor="start" fill="#1e1e1e" font-weight="normal">74.6%</text><text x="725.6" y="292" font-size="7.85" text-anchor="start" fill="#1e1e1e" font-weight="normal">TH+ DAT+</text><text x="641" y="367.2" font-size="7.85" text-anchor="start" fill="#1e1e1e" font-weight="normal">4.4%</text><text x="641" y="378.2" font-size="7.85" text-anchor="start" fill="#1e1e1e" font-weight="normal">TH- DAT-</text><text x="743.4" y="366" font-size="7.85" text-anchor="start" fill="#1e1e1e" font-weight="normal">16.3%</text><text x="742.7" y="376.7" font-size="7.85" text-anchor="start" fill="#1e1e1e" font-weight="normal">Only TH+</text><text x="622.8" y="387" font-size="7.5" text-anchor="start" fill="#4d4d4d" font-weight="normal">Q3-5</text><text x="777" y="387" font-size="7.5" text-anchor="end" fill="#4d4d4d" font-weight="normal">Q4-5</text><polyline points="118.6,273 173,242.5 598,240.6" fill="none" stroke="#fcbc0c" stroke-width="1.5"/><polygon points="604.5,240.5 597,237.1 597,243.9" fill="#fcbc0c"/><polyline points="158,272 184,253.3 408,253.3" fill="none" stroke="#4a90d9" stroke-width="1.3"/><polygon points="414.5,253.3 407,249.9 407,256.7" fill="#4a90d9"/><line x1="185.7" y1="351.6" x2="226" y2="352" stroke="#e040e8" stroke-width="1.4"/><polygon points="232.5,352 225,348.6 225,355.4" fill="#e040e8"/><text x="0.8" y="17.2" font-size="22.3" text-anchor="start" fill="#000" font-weight="bold">A</text><text transform="translate(11.2 450) scale(0.86 1)" font-size="23.5" font-weight="bold" fill="#000">B</text><line x1="81.6" y1="612.6" x2="81.6" y2="762.4" stroke="#111111" stroke-width="1.45"/><line x1="80.9" y1="761.7" x2="230" y2="761.7" stroke="#111111" stroke-width="1.45"/><line x1="76.1" y1="761.7" x2="81.6" y2="761.7" stroke="#111111" stroke-width="1.4"/><text x="74" y="765.7" font-size="11.3" text-anchor="end" fill="#111111" font-weight="bold">0</text><line x1="76.1" y1="734.7" x2="81.6" y2="734.7" stroke="#111111" stroke-width="1.4"/><text x="74" y="738.7" font-size="11.3" text-anchor="end" fill="#111111" font-weight="bold">20</text><line x1="76.1" y1="707.7" x2="81.6" y2="707.7" stroke="#111111" stroke-width="1.4"/><text x="74" y="711.7" font-size="11.3" text-anchor="end" fill="#111111" font-weight="bold">40</text><line x1="76.1" y1="680.8" x2="81.6" y2="680.8" stroke="#111111" stroke-width="1.4"/><text x="74" y="684.8" font-size="11.3" text-anchor="end" fill="#111111" font-weight="bold">60</text><line x1="76.1" y1="653.8" x2="81.6" y2="653.8" stroke="#111111" stroke-width="1.4"/><text x="74" y="657.8" font-size="11.3" text-anchor="end" fill="#111111" font-weight="bold">80</text><line x1="76.1" y1="626.8" x2="81.6" y2="626.8" stroke="#111111" stroke-width="1.4"/><text x="74" y="630.8" font-size="11.3" text-anchor="end" fill="#111111" font-weight="bold">100</text><line x1="99.9" y1="761.7" x2="99.9" y2="767.2" stroke="#111111" stroke-width="1.4"/><text x="101.9" y="778.3" font-size="11.1" text-anchor="end" fill="#111111" font-weight="bold" transform="rotate(-45 101.9 778.3)">CD8<tspan dx="0.8" dy="-4.5" font-size="7.5">-</tspan><tspan dx="0.8" dy="4.5"> T-cells</tspan></text><line x1="127.7" y1="761.7" x2="127.7" y2="767.2" stroke="#111111" stroke-width="1.4"/><text x="129.7" y="778.3" font-size="11.1" text-anchor="end" fill="#111111" font-weight="bold" transform="rotate(-45 129.7 778.3)">CD8<tspan dx="0.8" dy="-4.5" font-size="7.5">+</tspan><tspan dx="0.8" dy="4.5"> T-cells</tspan></text><line x1="155.5" y1="761.7" x2="155.5" y2="767.2" stroke="#111111" stroke-width="1.4"/><text x="157.5" y="778.3" font-size="11.1" text-anchor="end" fill="#111111" font-weight="bold" transform="rotate(-45 157.5 778.3)">Classical monocytes</text><line x1="183.2" y1="761.7" x2="183.2" y2="767.2" stroke="#111111" stroke-width="1.4"/><text x="185.2" y="778.3" font-size="11.1" text-anchor="end" fill="#111111" font-weight="bold" transform="rotate(-45 185.2 778.3)">Intermediate monocytes</text><line x1="211" y1="761.7" x2="211" y2="767.2" stroke="#111111" stroke-width="1.4"/><text x="213" y="778.3" font-size="11.1" text-anchor="end" fill="#111111" font-weight="bold" transform="rotate(-45 213 778.3)">Non-classical monocytes</text><text x="48.7" y="687.8" font-size="12.4" text-anchor="middle" fill="#111111" font-weight="bold" transform="rotate(-90 48.7 687.8)">% of population</text><text x="155" y="454.5" font-size="14.3" text-anchor="middle" fill="#111111" font-weight="bold">TH<tspan dy="-6" font-size="10.5">+</tspan><tspan dy="6"> and DAT</tspan><tspan dy="-6" font-size="10.5">+</tspan></text><line x1="90.7" y1="741.1" x2="109.1" y2="741.1" stroke="#111111" stroke-width="1.45"/><circle cx="99.9" cy="703.7" r="3.2" fill="#111111"/><circle cx="99.9" cy="721.9" r="3.2" fill="#111111"/><circle cx="106.1" cy="739" r="3.2" fill="#111111"/><circle cx="93.5" cy="743.8" r="3.2" fill="#111111"/><circle cx="106.1" cy="754.4" r="3.2" fill="#111111"/><circle cx="93.5" cy="757.4" r="3.2" fill="#111111"/><line x1="118.5" y1="735" x2="136.9" y2="735" stroke="#111111" stroke-width="1.45"/><rect x="124.7" y="700.7" width="6.1" height="6.1" fill="#111111"/><rect x="124.7" y="708.9" width="6.1" height="6.1" fill="#111111"/><rect x="124.7" y="724.9" width="6.1" height="6.1" fill="#111111"/><rect x="118.2" y="739.2" width="6.1" height="6.1" fill="#111111"/><rect x="131.2" y="742.3" width="6.1" height="6.1" fill="#111111"/><rect x="124.7" y="750.3" width="6.1" height="6.1" fill="#111111"/><line x1="146.3" y1="638" x2="164.7" y2="638" stroke="#111111" stroke-width="1.45"/><polygon points="149.4,630.8 145.7,637.6 153.1,637.6" fill="#111111"/><polygon points="155.5,627.8 151.8,634.6 159.2,634.6" fill="#111111"/><polygon points="162,633 158.3,639.8 165.7,639.8" fill="#111111"/><polygon points="155.5,637.6 151.8,644.4 159.2,644.4" fill="#111111"/><polygon points="155.5,645.1 151.8,651.9 159.2,651.9" fill="#111111"/><polygon points="155.5,672.8 151.8,679.6 159.2,679.6" fill="#111111"/><line x1="174" y1="642" x2="192.4" y2="642" stroke="#111111" stroke-width="1.45"/><polygon points="177.1,639.7 173.4,632.8 180.8,632.8" fill="#111111"/><polygon points="189.7,634.1 186,627.3 193.4,627.3" fill="#111111"/><polygon points="189.7,642.4 186,635.5 193.4,635.5" fill="#111111"/><polygon points="183.2,648.8 179.5,642 186.9,642" fill="#111111"/><polygon points="183.2,655.2 179.5,648.4 186.9,648.4" fill="#111111"/><polygon points="183.2,676.8 179.5,669.9 186.9,669.9" fill="#111111"/><line x1="201.8" y1="670.9" x2="220.2" y2="670.9" stroke="#111111" stroke-width="1.45"/><polygon points="211,629.6 214.6,633.1 211,636.7 207.4,633.1" fill="#111111"/><polygon points="211,644.8 214.6,648.4 211,652 207.4,648.4" fill="#111111"/><polygon points="211,663 214.6,666.6 211,670.2 207.4,666.6" fill="#111111"/><polygon points="204.7,672.2 208.3,675.8 204.7,679.4 201.1,675.8" fill="#111111"/><polygon points="217.3,676.5 220.9,680.1 217.3,683.7 213.7,680.1" fill="#111111"/><polygon points="211,719.8 214.6,723.4 211,727 207.4,723.4" fill="#111111"/><polyline points="99.9,496.3 99.9,488 211,488 211,496.3" fill="none" stroke="#111111" stroke-width="1.4"/><text x="155.9" y="486.8" font-size="13.6" text-anchor="middle" fill="#111111" font-weight="bold" letter-spacing="1.05">***</text><polyline points="127.7,518.2 127.7,510 211,510 211,518.2" fill="none" stroke="#111111" stroke-width="1.4"/><text x="169.4" y="508.8" font-size="13.6" text-anchor="middle" fill="#111111" font-weight="bold" letter-spacing="1.05">***</text><polyline points="99.9,540.6 99.9,532.4 183.2,532.4 183.2,540.6" fill="none" stroke="#111111" stroke-width="1.4"/><text x="141.9" y="531.2" font-size="13.6" text-anchor="middle" fill="#111111" font-weight="bold" letter-spacing="1.05">****</text><polyline points="127.7,562.6 127.7,554.5 183.2,554.5 183.2,562.6" fill="none" stroke="#111111" stroke-width="1.4"/><text x="155.9" y="553.3" font-size="13.6" text-anchor="middle" fill="#111111" font-weight="bold" letter-spacing="1.05">****</text><polyline points="127.7,589.3 127.7,581 155.5,581 155.5,589.3" fill="none" stroke="#111111" stroke-width="1.4"/><text x="141.9" y="579.8" font-size="13.6" text-anchor="middle" fill="#111111" font-weight="bold" letter-spacing="1.05">****</text><polyline points="99.9,616.1 99.9,607.9 155.5,607.9 155.5,616.1" fill="none" stroke="#111111" stroke-width="1.4"/><text x="128.2" y="606.7" font-size="13.6" text-anchor="middle" fill="#111111" font-weight="bold" letter-spacing="1.05">****</text><line x1="323.4" y1="613.5" x2="323.4" y2="763" stroke="#111111" stroke-width="1.45"/><line x1="322.7" y1="762.3" x2="473" y2="762.3" stroke="#111111" stroke-width="1.45"/><line x1="317.9" y1="762.3" x2="323.4" y2="762.3" stroke="#111111" stroke-width="1.4"/><text x="315.8" y="766.3" font-size="11.3" text-anchor="end" fill="#111111" font-weight="bold">0</text><line x1="317.9" y1="735.3" x2="323.4" y2="735.3" stroke="#111111" stroke-width="1.4"/><text x="315.8" y="739.3" font-size="11.3" text-anchor="end" fill="#111111" font-weight="bold">20</text><line x1="317.9" y1="708.3" x2="323.4" y2="708.3" stroke="#111111" stroke-width="1.4"/><text x="315.8" y="712.3" font-size="11.3" text-anchor="end" fill="#111111" font-weight="bold">40</text><line x1="317.9" y1="681.3" x2="323.4" y2="681.3" stroke="#111111" stroke-width="1.4"/><text x="315.8" y="685.3" font-size="11.3" text-anchor="end" fill="#111111" font-weight="bold">60</text><line x1="317.9" y1="654.3" x2="323.4" y2="654.3" stroke="#111111" stroke-width="1.4"/><text x="315.8" y="658.3" font-size="11.3" text-anchor="end" fill="#111111" font-weight="bold">80</text><line x1="317.9" y1="627.3" x2="323.4" y2="627.3" stroke="#111111" stroke-width="1.4"/><text x="315.8" y="631.3" font-size="11.3" text-anchor="end" fill="#111111" font-weight="bold">100</text><line x1="341.1" y1="762.3" x2="341.1" y2="767.8" stroke="#111111" stroke-width="1.4"/><text x="343.1" y="778.9" font-size="11.1" text-anchor="end" fill="#111111" font-weight="bold" transform="rotate(-45 343.1 778.9)">CD8<tspan dx="0.8" dy="-4.5" font-size="7.5">-</tspan><tspan dx="0.8" dy="4.5"> T-cells</tspan></text><line x1="368.8" y1="762.3" x2="368.8" y2="767.8" stroke="#111111" stroke-width="1.4"/><text x="370.8" y="778.9" font-size="11.1" text-anchor="end" fill="#111111" font-weight="bold" transform="rotate(-45 370.8 778.9)">CD8<tspan dx="0.8" dy="-4.5" font-size="7.5">+</tspan><tspan dx="0.8" dy="4.5"> T-cells</tspan></text><line x1="396.7" y1="762.3" x2="396.7" y2="767.8" stroke="#111111" stroke-width="1.4"/><text x="398.7" y="778.9" font-size="11.1" text-anchor="end" fill="#111111" font-weight="bold" transform="rotate(-45 398.7 778.9)">Classical monocytes</text><line x1="424.5" y1="762.3" x2="424.5" y2="767.8" stroke="#111111" stroke-width="1.4"/><text x="426.5" y="778.9" font-size="11.1" text-anchor="end" fill="#111111" font-weight="bold" transform="rotate(-45 426.5 778.9)">Intermediate monocytes</text><line x1="452.3" y1="762.3" x2="452.3" y2="767.8" stroke="#111111" stroke-width="1.4"/><text x="454.3" y="778.9" font-size="11.1" text-anchor="end" fill="#111111" font-weight="bold" transform="rotate(-45 454.3 778.9)">Non-classical monocytes</text><text x="288.7" y="688.3" font-size="12.4" text-anchor="middle" fill="#111111" font-weight="bold" transform="rotate(-90 288.7 688.3)">% of population</text><text x="402.6" y="534.6" font-size="14.3" text-anchor="middle" fill="#111111" font-weight="bold">Only TH<tspan dy="-6" font-size="10.5">+</tspan></text><line x1="331.9" y1="716.5" x2="350.3" y2="716.5" stroke="#111111" stroke-width="1.45"/><circle cx="341.1" cy="669.4" r="3.2" fill="#111111"/><circle cx="341.1" cy="699.7" r="3.2" fill="#111111"/><circle cx="334.7" cy="716.9" r="3.2" fill="#111111"/><circle cx="347.5" cy="716.4" r="3.2" fill="#111111"/><circle cx="334.7" cy="727.6" r="3.2" fill="#111111"/><circle cx="347.5" cy="727.2" r="3.2" fill="#111111"/><line x1="359.6" y1="707.8" x2="378" y2="707.8" stroke="#111111" stroke-width="1.45"/><rect x="360.1" y="691.5" width="6.1" height="6.1" fill="#111111"/><rect x="372.7" y="692.3" width="6.1" height="6.1" fill="#111111"/><rect x="366" y="697.4" width="6.1" height="6.1" fill="#111111"/><rect x="366" y="713" width="6.1" height="6.1" fill="#111111"/><rect x="369.3" y="731" width="6.1" height="6.1" fill="#111111"/><rect x="363.4" y="733.3" width="6.1" height="6.1" fill="#111111"/><line x1="387.5" y1="753.7" x2="405.9" y2="753.7" stroke="#111111" stroke-width="1.45"/><polygon points="396.7,715.1 393,722 400.4,722" fill="#111111"/><polygon points="396.7,738.8 393,745.6 400.4,745.6" fill="#111111"/><polygon points="403.2,748 399.5,754.8 406.9,754.8" fill="#111111"/><polygon points="396.7,753.1 393,759.9 400.4,759.9" fill="#111111"/><polygon points="390.4,755.5 386.7,762.3 394.1,762.3" fill="#111111"/><polygon points="403.2,754.2 399.5,761 406.9,761" fill="#111111"/><line x1="415.3" y1="750.7" x2="433.7" y2="750.7" stroke="#111111" stroke-width="1.45"/><polygon points="424.5,723.5 420.8,716.6 428.2,716.6" fill="#111111"/><polygon points="424.5,744 420.8,737.2 428.2,737.2" fill="#111111"/><polygon points="424.5,749.6 420.8,742.8 428.2,742.8" fill="#111111"/><polygon points="418,757.3 414.3,750.5 421.7,750.5" fill="#111111"/><polygon points="431.2,759.5 427.5,752.7 434.9,752.7" fill="#111111"/><polygon points="418,764.4 414.3,757.6 421.7,757.6" fill="#111111"/><line x1="443.1" y1="744.9" x2="461.5" y2="744.9" stroke="#111111" stroke-width="1.45"/><polygon points="452.3,717.8 455.9,721.4 452.3,725 448.7,721.4" fill="#111111"/><polygon points="452.3,725 455.9,728.5 452.3,732.1 448.7,728.5" fill="#111111"/><polygon points="459.4,740.4 463,743.9 459.4,747.5 455.8,743.9" fill="#111111"/><polygon points="446,742.8 449.6,746.4 446,750 442.4,746.4" fill="#111111"/><polygon points="446.6,754.7 450.2,758.2 446.6,761.8 443,758.2" fill="#111111"/><polygon points="459,754.7 462.6,758.2 459,761.8 455.4,758.2" fill="#111111"/><polyline points="341.1,583.5 341.1,575 452.3,575 452.3,583.5" fill="none" stroke="#111111" stroke-width="1.4"/><text x="397.1" y="573.8" font-size="13.6" text-anchor="middle" fill="#111111" font-weight="bold" letter-spacing="1.05">*</text><polyline points="341.1,608 341.1,599.4 424.5,599.4 424.5,608" fill="none" stroke="#111111" stroke-width="1.4"/><text x="383.4" y="598.2" font-size="13.6" text-anchor="middle" fill="#111111" font-weight="bold" letter-spacing="1.05">*</text><polyline points="368.8,632.8 368.8,624.2 424.5,624.2 424.5,632.8" fill="none" stroke="#111111" stroke-width="1.4"/><text x="397.1" y="623" font-size="13.6" text-anchor="middle" fill="#111111" font-weight="bold" letter-spacing="1.05">*</text><polyline points="341.1,655.6 341.1,647.8 396.7,647.8 396.7,655.6" fill="none" stroke="#111111" stroke-width="1.4"/><text x="369.4" y="646.6" font-size="13.6" text-anchor="middle" fill="#111111" font-weight="bold" letter-spacing="1.05">**</text><polyline points="368.8,668.3 368.8,662 396.7,662 396.7,668.3" fill="none" stroke="#111111" stroke-width="1.4"/><text x="383.4" y="660.8" font-size="13.6" text-anchor="middle" fill="#111111" font-weight="bold" letter-spacing="1.05">*</text><line x1="592.1" y1="611.3" x2="592.1" y2="761" stroke="#111111" stroke-width="1.45"/><line x1="591.4" y1="760.3" x2="740" y2="760.3" stroke="#111111" stroke-width="1.45"/><line x1="586.6" y1="760.3" x2="592.1" y2="760.3" stroke="#111111" stroke-width="1.4"/><text x="584.5" y="764.3" font-size="11.3" text-anchor="end" fill="#111111" font-weight="bold">0</text><line x1="586.6" y1="733.3" x2="592.1" y2="733.3" stroke="#111111" stroke-width="1.4"/><text x="584.5" y="737.3" font-size="11.3" text-anchor="end" fill="#111111" font-weight="bold">20</text><line x1="586.6" y1="706.3" x2="592.1" y2="706.3" stroke="#111111" stroke-width="1.4"/><text x="584.5" y="710.3" font-size="11.3" text-anchor="end" fill="#111111" font-weight="bold">40</text><line x1="586.6" y1="679.3" x2="592.1" y2="679.3" stroke="#111111" stroke-width="1.4"/><text x="584.5" y="683.3" font-size="11.3" text-anchor="end" fill="#111111" font-weight="bold">60</text><line x1="586.6" y1="652.3" x2="592.1" y2="652.3" stroke="#111111" stroke-width="1.4"/><text x="584.5" y="656.3" font-size="11.3" text-anchor="end" fill="#111111" font-weight="bold">80</text><line x1="586.6" y1="625.3" x2="592.1" y2="625.3" stroke="#111111" stroke-width="1.4"/><text x="584.5" y="629.3" font-size="11.3" text-anchor="end" fill="#111111" font-weight="bold">100</text><line x1="609.7" y1="760.3" x2="609.7" y2="765.8" stroke="#111111" stroke-width="1.4"/><text x="611.7" y="776.9" font-size="11.1" text-anchor="end" fill="#111111" font-weight="bold" transform="rotate(-45 611.7 776.9)">CD8<tspan dx="0.8" dy="-4.5" font-size="7.5">-</tspan><tspan dx="0.8" dy="4.5"> T-cells</tspan></text><line x1="637.7" y1="760.3" x2="637.7" y2="765.8" stroke="#111111" stroke-width="1.4"/><text x="639.7" y="776.9" font-size="11.1" text-anchor="end" fill="#111111" font-weight="bold" transform="rotate(-45 639.7 776.9)">CD8<tspan dx="0.8" dy="-4.5" font-size="7.5">+</tspan><tspan dx="0.8" dy="4.5"> T-cells</tspan></text><line x1="665.6" y1="760.3" x2="665.6" y2="765.8" stroke="#111111" stroke-width="1.4"/><text x="667.6" y="776.9" font-size="11.1" text-anchor="end" fill="#111111" font-weight="bold" transform="rotate(-45 667.6 776.9)">Classical monocytes</text><line x1="693.3" y1="760.3" x2="693.3" y2="765.8" stroke="#111111" stroke-width="1.4"/><text x="695.3" y="776.9" font-size="11.1" text-anchor="end" fill="#111111" font-weight="bold" transform="rotate(-45 695.3 776.9)">Intermediate monocytes</text><line x1="721.1" y1="760.3" x2="721.1" y2="765.8" stroke="#111111" stroke-width="1.4"/><text x="723.1" y="776.9" font-size="11.1" text-anchor="end" fill="#111111" font-weight="bold" transform="rotate(-45 723.1 776.9)">Non-classical monocytes</text><text x="556.7" y="686.3" font-size="12.4" text-anchor="middle" fill="#111111" font-weight="bold" transform="rotate(-90 556.7 686.3)">% of population</text><text x="667.1" y="497.5" font-size="14.3" text-anchor="middle" fill="#111111" font-weight="bold">TH<tspan dy="-6.5" font-size="11.5">-</tspan><tspan dy="6.5"> and DAT</tspan><tspan dy="-6.5" font-size="11.5">-</tspan></text><line x1="600.5" y1="697.7" x2="618.9" y2="697.7" stroke="#111111" stroke-width="1.45"/><circle cx="610" cy="665.9" r="3.2" fill="#111111"/><circle cx="610" cy="680.6" r="3.2" fill="#111111"/><circle cx="610" cy="691" r="3.2" fill="#111111"/><circle cx="610" cy="704.5" r="3.2" fill="#111111"/><circle cx="616.1" cy="741.3" r="3.2" fill="#111111"/><circle cx="603.5" cy="746.4" r="3.2" fill="#111111"/><line x1="628.5" y1="709.7" x2="646.9" y2="709.7" stroke="#111111" stroke-width="1.45"/><rect x="634.7" y="662.9" width="6.1" height="6.1" fill="#111111"/><rect x="634.7" y="703.1" width="6.1" height="6.1" fill="#111111"/><rect x="629" y="705.1" width="6.1" height="6.1" fill="#111111"/><rect x="640.8" y="705.1" width="6.1" height="6.1" fill="#111111"/><rect x="634.7" y="710.3" width="6.1" height="6.1" fill="#111111"/><rect x="634.7" y="742.1" width="6.1" height="6.1" fill="#111111"/><line x1="656.4" y1="758.7" x2="674.8" y2="758.7" stroke="#111111" stroke-width="1.45"/><polygon points="659.1,754.5 655.4,761.3 662.8,761.3" fill="#111111"/><polygon points="662.6,753.1 658.9,759.9 666.3,759.9" fill="#111111"/><polygon points="666.6,754.7 662.9,761.5 670.3,761.5" fill="#111111"/><polygon points="670.1,753.6 666.4,760.5 673.8,760.5" fill="#111111"/><polygon points="672.9,754.5 669.2,761.3 676.6,761.3" fill="#111111"/><polygon points="661.1,755.3 657.4,762.1 664.8,762.1" fill="#111111"/><line x1="684.1" y1="756" x2="702.5" y2="756" stroke="#111111" stroke-width="1.45"/><polygon points="687.3,760.1 683.6,753.3 691,753.3" fill="#111111"/><polygon points="690.8,759.5 687.1,752.7 694.5,752.7" fill="#111111"/><polygon points="694.8,760.5 691.1,753.7 698.5,753.7" fill="#111111"/><polygon points="698.3,759.9 694.6,753.1 702,753.1" fill="#111111"/><polygon points="700.8,760.2 697.1,753.4 704.5,753.4" fill="#111111"/><polygon points="689.3,760.6 685.6,753.8 693,753.8" fill="#111111"/><line x1="711.9" y1="749.1" x2="730.3" y2="749.1" stroke="#111111" stroke-width="1.45"/><polygon points="721.1,730.1 724.7,733.7 721.1,737.3 717.5,733.7" fill="#111111"/><polygon points="714.8,739.3 718.4,742.9 714.8,746.5 711.2,742.9" fill="#111111"/><polygon points="714.8,747.1 718.4,750.7 714.8,754.3 711.2,750.7" fill="#111111"/><polygon points="727.4,744.8 731,748.4 727.4,752 723.8,748.4" fill="#111111"/><polygon points="714.8,753.6 718.4,757.2 714.8,760.8 711.2,757.2" fill="#111111"/><polygon points="727.4,753.2 731,756.8 727.4,760.4 723.8,756.8" fill="#111111"/><polyline points="609.7,542 609.7,533.4 721.1,533.4 721.1,542" fill="none" stroke="#111111" stroke-width="1.4"/><text x="666.1" y="532.2" font-size="13.6" text-anchor="middle" fill="#111111" font-weight="bold" letter-spacing="1.05">**</text><polyline points="609.7,566.4 609.7,557.9 693.3,557.9 693.3,566.4" fill="none" stroke="#111111" stroke-width="1.4"/><text x="651.2" y="556.7" font-size="13.6" text-anchor="middle" fill="#111111" font-weight="bold" letter-spacing="1.05">***</text><polyline points="637.7,590 637.7,581.4 693.3,581.4 693.3,590" fill="none" stroke="#111111" stroke-width="1.4"/><text x="666.1" y="580.2" font-size="13.6" text-anchor="middle" fill="#111111" font-weight="bold" letter-spacing="1.05">**</text><polyline points="637.7,613.3 637.7,604.5 665.6,604.5 665.6,613.3" fill="none" stroke="#111111" stroke-width="1.4"/><text x="652.1" y="603.3" font-size="13.6" text-anchor="middle" fill="#111111" font-weight="bold" letter-spacing="1.05">**</text><polyline points="609.7,637.8 609.7,629.2 665.6,629.2 665.6,637.8" fill="none" stroke="#111111" stroke-width="1.4"/><text x="637.9" y="628" font-size="13.6" text-anchor="middle" fill="#111111" font-weight="bold" letter-spacing="1.05">***</text><polyline points="637.7,656.7 637.7,648.4 721.1,648.4 721.1,656.7" fill="none" stroke="#111111" stroke-width="1.4"/><text x="679.8" y="647.2" font-size="13.6" text-anchor="middle" fill="#111111" font-weight="bold" letter-spacing="1.05">*</text>
</svg>
</body></html>
